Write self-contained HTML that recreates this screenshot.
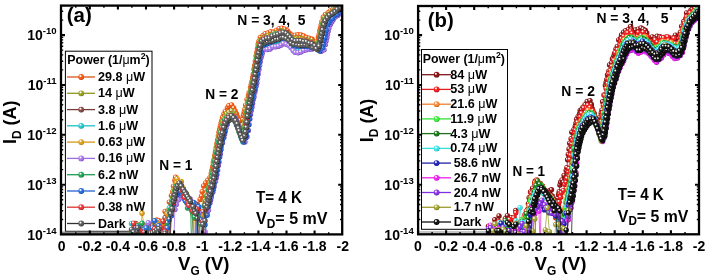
<!DOCTYPE html>
<html><head><meta charset="utf-8"><style>html,body{margin:0;padding:0;background:#fff;}svg{display:block;will-change:transform;}</style></head>
<body><svg width="710" height="278" viewBox="0 0 710 278">
<rect width="710" height="278" fill="#fff"/>
<defs><radialGradient id="ga0" cx="0.4" cy="0.38" r="0.62" fx="0.36" fy="0.32"><stop offset="0" stop-color="#fff"/><stop offset="0.1" stop-color="#fff"/><stop offset="0.42" stop-color="#F25A14"/><stop offset="0.8" stop-color="#F25A14"/><stop offset="1" stop-color="#B83A08"/></radialGradient><radialGradient id="ga1" cx="0.4" cy="0.38" r="0.62" fx="0.36" fy="0.32"><stop offset="0" stop-color="#fff"/><stop offset="0.1" stop-color="#fff"/><stop offset="0.42" stop-color="#9AA226"/><stop offset="0.8" stop-color="#9AA226"/><stop offset="1" stop-color="#5E6410"/></radialGradient><radialGradient id="ga2" cx="0.4" cy="0.38" r="0.62" fx="0.36" fy="0.32"><stop offset="0" stop-color="#fff"/><stop offset="0.1" stop-color="#fff"/><stop offset="0.42" stop-color="#8A4848"/><stop offset="0.8" stop-color="#8A4848"/><stop offset="1" stop-color="#4E2424"/></radialGradient><radialGradient id="ga3" cx="0.4" cy="0.38" r="0.62" fx="0.36" fy="0.32"><stop offset="0" stop-color="#fff"/><stop offset="0.1" stop-color="#fff"/><stop offset="0.42" stop-color="#22C8CC"/><stop offset="0.8" stop-color="#22C8CC"/><stop offset="1" stop-color="#0C8C90"/></radialGradient><radialGradient id="ga4" cx="0.4" cy="0.38" r="0.62" fx="0.36" fy="0.32"><stop offset="0" stop-color="#fff"/><stop offset="0.1" stop-color="#fff"/><stop offset="0.42" stop-color="#DDA018"/><stop offset="0.8" stop-color="#DDA018"/><stop offset="1" stop-color="#9A6A08"/></radialGradient><radialGradient id="ga5" cx="0.4" cy="0.38" r="0.62" fx="0.36" fy="0.32"><stop offset="0" stop-color="#fff"/><stop offset="0.1" stop-color="#fff"/><stop offset="0.42" stop-color="#A878EC"/><stop offset="0.8" stop-color="#A878EC"/><stop offset="1" stop-color="#6A3CB0"/></radialGradient><radialGradient id="ga6" cx="0.4" cy="0.38" r="0.62" fx="0.36" fy="0.32"><stop offset="0" stop-color="#fff"/><stop offset="0.1" stop-color="#fff"/><stop offset="0.42" stop-color="#22A458"/><stop offset="0.8" stop-color="#22A458"/><stop offset="1" stop-color="#0E6A34"/></radialGradient><radialGradient id="ga7" cx="0.4" cy="0.38" r="0.62" fx="0.36" fy="0.32"><stop offset="0" stop-color="#fff"/><stop offset="0.1" stop-color="#fff"/><stop offset="0.42" stop-color="#2A6CDC"/><stop offset="0.8" stop-color="#2A6CDC"/><stop offset="1" stop-color="#103C9C"/></radialGradient><radialGradient id="ga8" cx="0.4" cy="0.38" r="0.62" fx="0.36" fy="0.32"><stop offset="0" stop-color="#fff"/><stop offset="0.1" stop-color="#fff"/><stop offset="0.42" stop-color="#E83838"/><stop offset="0.8" stop-color="#E83838"/><stop offset="1" stop-color="#A01818"/></radialGradient><radialGradient id="ga9" cx="0.4" cy="0.38" r="0.62" fx="0.36" fy="0.32"><stop offset="0" stop-color="#fff"/><stop offset="0.1" stop-color="#fff"/><stop offset="0.42" stop-color="#5C5C5C"/><stop offset="0.8" stop-color="#5C5C5C"/><stop offset="1" stop-color="#2A2A2A"/></radialGradient><radialGradient id="gb0" cx="0.4" cy="0.38" r="0.62" fx="0.36" fy="0.32"><stop offset="0" stop-color="#fff"/><stop offset="0.1" stop-color="#fff"/><stop offset="0.42" stop-color="#8E1616"/><stop offset="0.8" stop-color="#8E1616"/><stop offset="1" stop-color="#4E0606"/></radialGradient><radialGradient id="gb1" cx="0.4" cy="0.38" r="0.62" fx="0.36" fy="0.32"><stop offset="0" stop-color="#fff"/><stop offset="0.1" stop-color="#fff"/><stop offset="0.42" stop-color="#F01E1E"/><stop offset="0.8" stop-color="#F01E1E"/><stop offset="1" stop-color="#A00808"/></radialGradient><radialGradient id="gb2" cx="0.4" cy="0.38" r="0.62" fx="0.36" fy="0.32"><stop offset="0" stop-color="#fff"/><stop offset="0.1" stop-color="#fff"/><stop offset="0.42" stop-color="#F88A34"/><stop offset="0.8" stop-color="#F88A34"/><stop offset="1" stop-color="#B05410"/></radialGradient><radialGradient id="gb3" cx="0.4" cy="0.38" r="0.62" fx="0.36" fy="0.32"><stop offset="0" stop-color="#fff"/><stop offset="0.1" stop-color="#fff"/><stop offset="0.42" stop-color="#3CF03C"/><stop offset="0.8" stop-color="#3CF03C"/><stop offset="1" stop-color="#14A014"/></radialGradient><radialGradient id="gb4" cx="0.4" cy="0.38" r="0.62" fx="0.36" fy="0.32"><stop offset="0" stop-color="#fff"/><stop offset="0.1" stop-color="#fff"/><stop offset="0.42" stop-color="#1E7A1E"/><stop offset="0.8" stop-color="#1E7A1E"/><stop offset="1" stop-color="#0A420A"/></radialGradient><radialGradient id="gb5" cx="0.4" cy="0.38" r="0.62" fx="0.36" fy="0.32"><stop offset="0" stop-color="#fff"/><stop offset="0.1" stop-color="#fff"/><stop offset="0.42" stop-color="#3EE6E6"/><stop offset="0.8" stop-color="#3EE6E6"/><stop offset="1" stop-color="#10A0A0"/></radialGradient><radialGradient id="gb6" cx="0.4" cy="0.38" r="0.62" fx="0.36" fy="0.32"><stop offset="0" stop-color="#fff"/><stop offset="0.1" stop-color="#fff"/><stop offset="0.42" stop-color="#2626B4"/><stop offset="0.8" stop-color="#2626B4"/><stop offset="1" stop-color="#0C0C70"/></radialGradient><radialGradient id="gb7" cx="0.4" cy="0.38" r="0.62" fx="0.36" fy="0.32"><stop offset="0" stop-color="#fff"/><stop offset="0.1" stop-color="#fff"/><stop offset="0.42" stop-color="#F224F2"/><stop offset="0.8" stop-color="#F224F2"/><stop offset="1" stop-color="#A008A8"/></radialGradient><radialGradient id="gb8" cx="0.4" cy="0.38" r="0.62" fx="0.36" fy="0.32"><stop offset="0" stop-color="#fff"/><stop offset="0.1" stop-color="#fff"/><stop offset="0.42" stop-color="#8836E6"/><stop offset="0.8" stop-color="#8836E6"/><stop offset="1" stop-color="#5016A0"/></radialGradient><radialGradient id="gb9" cx="0.4" cy="0.38" r="0.62" fx="0.36" fy="0.32"><stop offset="0" stop-color="#fff"/><stop offset="0.1" stop-color="#fff"/><stop offset="0.42" stop-color="#A4A436"/><stop offset="0.8" stop-color="#A4A436"/><stop offset="1" stop-color="#64641A"/></radialGradient><radialGradient id="gb10" cx="0.4" cy="0.38" r="0.62" fx="0.36" fy="0.32"><stop offset="0" stop-color="#fff"/><stop offset="0.1" stop-color="#fff"/><stop offset="0.42" stop-color="#141414"/><stop offset="0.8" stop-color="#141414"/><stop offset="1" stop-color="#000000"/></radialGradient><clipPath id="ca"><rect x="61.0" y="5.6" width="281.2" height="228.8"/></clipPath><clipPath id="cb"><rect x="418.1" y="6.0" width="280.9" height="228.3"/></clipPath></defs>
<rect x="65.4" y="51.2" width="86.6" height="180.1" fill="#fff" stroke="#000" stroke-width="1"/>
<rect x="62" y="231.6" width="72" height="2.4" fill="#8c8c8c"/>
<rect x="421.5" y="49.5" width="86.0" height="179.8" fill="#fff" stroke="#000" stroke-width="1"/>
<rect x="419" y="230.9" width="68" height="2.2" fill="#c4c4c4"/>
<text x="67.3" y="63.8" font-size="12" font-weight="bold" font-family="'Liberation Sans', sans-serif" textLength="82.4" lengthAdjust="spacingAndGlyphs">Power (1/<tspan font-weight="normal">μ</tspan>m<tspan font-size="8.5" dy="-4.5">2</tspan><tspan dy="4.5">)</tspan></text>
<path d="M67.0 77.0H95.0" stroke="#D8561A" stroke-width="1.3"/>
<circle cx="81.2" cy="77.0" r="2.9" fill="url(#ga0)"/>
<text x="98.0" y="81.0" font-size="12" font-weight="bold" font-family="'Liberation Sans', sans-serif" textLength="47.2" lengthAdjust="spacingAndGlyphs" style="white-space:pre">29.8 <tspan font-weight="normal">μ</tspan>W</text>
<path d="M67.0 93.3H95.0" stroke="#8E961E" stroke-width="1.3"/>
<circle cx="81.2" cy="93.3" r="2.9" fill="url(#ga1)"/>
<text x="98.0" y="97.3" font-size="12" font-weight="bold" font-family="'Liberation Sans', sans-serif" textLength="36.8" lengthAdjust="spacingAndGlyphs" style="white-space:pre">14 <tspan font-weight="normal">μ</tspan>W</text>
<path d="M67.0 109.6H95.0" stroke="#7A3C3C" stroke-width="1.3"/>
<circle cx="81.2" cy="109.6" r="2.9" fill="url(#ga2)"/>
<text x="98.0" y="113.6" font-size="12" font-weight="bold" font-family="'Liberation Sans', sans-serif" textLength="40.2" lengthAdjust="spacingAndGlyphs" style="white-space:pre">3.8 <tspan font-weight="normal">μ</tspan>W</text>
<path d="M67.0 125.8H95.0" stroke="#1EC0C4" stroke-width="1.3"/>
<circle cx="81.2" cy="125.8" r="2.9" fill="url(#ga3)"/>
<text x="98.0" y="129.8" font-size="12" font-weight="bold" font-family="'Liberation Sans', sans-serif" textLength="40.2" lengthAdjust="spacingAndGlyphs" style="white-space:pre">1.6 <tspan font-weight="normal">μ</tspan>W</text>
<path d="M67.0 142.1H95.0" stroke="#D49A12" stroke-width="1.3"/>
<circle cx="81.2" cy="142.1" r="2.9" fill="url(#ga4)"/>
<text x="98.0" y="146.1" font-size="12" font-weight="bold" font-family="'Liberation Sans', sans-serif" textLength="47.2" lengthAdjust="spacingAndGlyphs" style="white-space:pre">0.63 <tspan font-weight="normal">μ</tspan>W</text>
<path d="M67.0 158.4H95.0" stroke="#9C6CE0" stroke-width="1.3"/>
<circle cx="81.2" cy="158.4" r="2.9" fill="url(#ga5)"/>
<text x="98.0" y="162.4" font-size="12" font-weight="bold" font-family="'Liberation Sans', sans-serif" textLength="47.2" lengthAdjust="spacingAndGlyphs" style="white-space:pre">0.16 <tspan font-weight="normal">μ</tspan>W</text>
<path d="M67.0 174.7H95.0" stroke="#1E9C50" stroke-width="1.3"/>
<circle cx="81.2" cy="174.7" r="2.9" fill="url(#ga6)"/>
<text x="98.0" y="178.7" font-size="12" font-weight="bold" font-family="'Liberation Sans', sans-serif" textLength="40.2" lengthAdjust="spacingAndGlyphs" style="white-space:pre">6.2 nW</text>
<path d="M67.0 191.0H95.0" stroke="#2462D0" stroke-width="1.3"/>
<circle cx="81.2" cy="191.0" r="2.9" fill="url(#ga7)"/>
<text x="98.0" y="195.0" font-size="12" font-weight="bold" font-family="'Liberation Sans', sans-serif" textLength="40.2" lengthAdjust="spacingAndGlyphs" style="white-space:pre">2.4 nW</text>
<path d="M67.0 207.2H95.0" stroke="#DC3434" stroke-width="1.3"/>
<circle cx="81.2" cy="207.2" r="2.9" fill="url(#ga8)"/>
<text x="98.0" y="211.2" font-size="12" font-weight="bold" font-family="'Liberation Sans', sans-serif" textLength="47.2" lengthAdjust="spacingAndGlyphs" style="white-space:pre">0.38 nW</text>
<path d="M67.0 223.5H95.0" stroke="#303030" stroke-width="1.3"/>
<circle cx="81.2" cy="223.5" r="2.9" fill="url(#ga9)"/>
<text x="98.0" y="227.5" font-size="12" font-weight="bold" font-family="'Liberation Sans', sans-serif" textLength="27.8" lengthAdjust="spacingAndGlyphs" style="white-space:pre">Dark</text>
<text x="422.8" y="62.6" font-size="12" font-weight="bold" font-family="'Liberation Sans', sans-serif" textLength="82.2" lengthAdjust="spacingAndGlyphs">Power (1/<tspan font-weight="normal">μ</tspan>m<tspan font-size="8.5" dy="-4.5">2</tspan><tspan dy="4.5">)</tspan></text>
<path d="M422.0 74.7H451.0" stroke="#7E1A1A" stroke-width="1.3"/>
<circle cx="436.6" cy="74.7" r="2.9" fill="url(#gb0)"/>
<text x="450.3" y="78.7" font-size="12" font-weight="bold" font-family="'Liberation Sans', sans-serif" textLength="36.8" lengthAdjust="spacingAndGlyphs" style="white-space:pre">84 <tspan font-weight="normal">μ</tspan>W</text>
<path d="M422.0 89.4H451.0" stroke="#E02020" stroke-width="1.3"/>
<circle cx="436.6" cy="89.4" r="2.9" fill="url(#gb1)"/>
<text x="450.3" y="93.4" font-size="12" font-weight="bold" font-family="'Liberation Sans', sans-serif" textLength="36.8" lengthAdjust="spacingAndGlyphs" style="white-space:pre">53 <tspan font-weight="normal">μ</tspan>W</text>
<path d="M422.0 104.2H451.0" stroke="#F08030" stroke-width="1.3"/>
<circle cx="436.6" cy="104.2" r="2.9" fill="url(#gb2)"/>
<text x="450.3" y="108.2" font-size="12" font-weight="bold" font-family="'Liberation Sans', sans-serif" textLength="47.2" lengthAdjust="spacingAndGlyphs" style="white-space:pre">21.6 <tspan font-weight="normal">μ</tspan>W</text>
<path d="M422.0 118.9H451.0" stroke="#34E034" stroke-width="1.3"/>
<circle cx="436.6" cy="118.9" r="2.9" fill="url(#gb3)"/>
<text x="450.3" y="122.9" font-size="12" font-weight="bold" font-family="'Liberation Sans', sans-serif" textLength="46.5" lengthAdjust="spacingAndGlyphs" style="white-space:pre">11.9 <tspan font-weight="normal">μ</tspan>W</text>
<path d="M422.0 133.6H451.0" stroke="#1E721E" stroke-width="1.3"/>
<circle cx="436.6" cy="133.6" r="2.9" fill="url(#gb4)"/>
<text x="450.3" y="137.6" font-size="12" font-weight="bold" font-family="'Liberation Sans', sans-serif" textLength="40.2" lengthAdjust="spacingAndGlyphs" style="white-space:pre">4.3 <tspan font-weight="normal">μ</tspan>W</text>
<path d="M422.0 148.4H451.0" stroke="#34DCDC" stroke-width="1.3"/>
<circle cx="436.6" cy="148.4" r="2.9" fill="url(#gb5)"/>
<text x="450.3" y="152.4" font-size="12" font-weight="bold" font-family="'Liberation Sans', sans-serif" textLength="47.2" lengthAdjust="spacingAndGlyphs" style="white-space:pre">0.74 <tspan font-weight="normal">μ</tspan>W</text>
<path d="M422.0 163.1H451.0" stroke="#2222A8" stroke-width="1.3"/>
<circle cx="436.6" cy="163.1" r="2.9" fill="url(#gb6)"/>
<text x="450.3" y="167.1" font-size="12" font-weight="bold" font-family="'Liberation Sans', sans-serif" textLength="50.6" lengthAdjust="spacingAndGlyphs" style="white-space:pre"> 58.6 nW</text>
<path d="M422.0 177.8H451.0" stroke="#E820E8" stroke-width="1.3"/>
<circle cx="436.6" cy="177.8" r="2.9" fill="url(#gb7)"/>
<text x="450.3" y="181.8" font-size="12" font-weight="bold" font-family="'Liberation Sans', sans-serif" textLength="50.6" lengthAdjust="spacingAndGlyphs" style="white-space:pre"> 26.7 nW</text>
<path d="M422.0 192.5H451.0" stroke="#8030E0" stroke-width="1.3"/>
<circle cx="436.6" cy="192.5" r="2.9" fill="url(#gb8)"/>
<text x="450.3" y="196.5" font-size="12" font-weight="bold" font-family="'Liberation Sans', sans-serif" textLength="50.6" lengthAdjust="spacingAndGlyphs" style="white-space:pre"> 20.4 nW</text>
<path d="M422.0 207.3H451.0" stroke="#9C9C30" stroke-width="1.3"/>
<circle cx="436.6" cy="207.3" r="2.9" fill="url(#gb9)"/>
<text x="450.3" y="211.3" font-size="12" font-weight="bold" font-family="'Liberation Sans', sans-serif" textLength="43.7" lengthAdjust="spacingAndGlyphs" style="white-space:pre"> 1.7 nW</text>
<path d="M422.0 222.0H451.0" stroke="#101010" stroke-width="1.3"/>
<circle cx="436.6" cy="222.0" r="2.9" fill="url(#gb10)"/>
<text x="450.3" y="226.0" font-size="12" font-weight="bold" font-family="'Liberation Sans', sans-serif" textLength="31.2" lengthAdjust="spacingAndGlyphs" style="white-space:pre"> Dark</text>
<g clip-path="url(#ca)">
<path d="M131.5 232.1 133.6 225.6 135.7 250.0 137.8 250.0 139.9 232.0 142.0 228.2 144.1 231.8 146.2 250.0 148.3 227.1 150.4 225.1 152.5 228.6 154.6 228.9 156.7 220.0 158.8 220.6 160.9 221.8 163.0 221.4 165.1 211.4 167.2 250.0 167.9 211.0 169.3 202.1 170.0 202.1 170.7 201.1 171.4 195.6 172.1 197.0 172.8 191.7 173.5 186.3 174.2 184.8 174.9 180.4 175.6 177.2 176.3 180.0 177.0 181.9 177.7 183.3 178.4 187.3 179.1 186.9 179.8 186.7 180.5 187.0 181.2 185.6 181.9 187.2 182.6 189.0 183.3 193.1 184.0 196.6 184.7 195.2 185.4 195.6 186.1 198.4 186.8 198.6 187.5 202.7 188.2 201.7 188.9 201.5 190.3 203.5 191.7 210.5 194.5 250.0 196.6 217.7 198.7 209.1 200.1 199.4 200.8 197.5 201.5 196.1 202.2 191.6 202.9 189.7 203.6 185.9 204.3 185.5 205.0 183.9 205.7 183.0 206.4 182.4 207.1 181.0 207.8 180.2 208.5 179.6 209.2 178.5 209.9 177.6 210.6 176.5 211.3 173.4 212.0 170.3 212.7 167.0 213.4 162.2 214.1 159.5 214.8 155.4 215.5 151.8 216.2 147.8 216.9 143.6 217.6 140.0 218.3 136.1 219.0 132.3 219.7 129.3 220.4 126.1 221.1 123.1 221.8 120.6 222.5 117.5 223.2 116.3 223.9 114.1 224.6 112.6 225.3 111.4 226.0 109.8 226.7 109.7 227.4 108.0 228.1 106.9 228.8 105.7 229.5 104.9 230.2 105.1 230.9 104.6 231.6 104.9 232.3 105.4 233.0 106.9 233.7 108.0 234.4 109.4 235.1 111.2 235.8 112.3 236.5 113.9 237.2 115.5 237.9 117.5 238.6 118.4 239.3 119.6 240.0 120.5 240.7 121.7 241.4 122.6 242.1 121.8 242.8 119.5 243.5 115.2 244.2 112.2 244.9 109.5 245.6 105.1 246.3 103.4 247.0 99.6 247.7 97.6 248.4 95.8 249.1 92.7 249.8 90.3 250.5 87.6 251.2 84.8 251.9 81.8 252.6 77.8 253.3 74.3 254.0 69.3 254.7 65.5 255.4 61.3 256.1 56.0 256.8 52.5 257.5 48.3 258.2 44.3 258.9 41.4 259.6 39.2 260.3 37.5 261.0 36.4 261.7 36.6 262.4 36.0 263.1 35.4 263.8 35.3 264.5 35.0 265.2 33.8 265.9 34.9 266.6 33.3 267.3 33.7 268.0 33.0 268.7 33.5 269.4 33.2 270.1 33.0 270.8 31.7 271.5 32.8 272.2 32.3 272.9 31.3 273.6 32.3 274.3 31.4 275.0 30.9 275.7 31.1 276.4 30.4 277.1 30.3 277.8 29.6 278.5 29.0 279.2 28.6 279.9 29.0 280.6 28.5 281.3 28.1 282.0 28.1 282.7 28.1 283.4 29.3 284.1 28.9 284.8 29.1 285.5 29.9 286.2 29.7 286.9 30.1 287.6 30.9 288.3 31.9 289.0 32.7 289.7 33.5 290.4 34.3 291.1 34.5 291.8 34.4 292.5 35.2 293.2 35.0 293.9 35.0 294.6 35.2 295.3 35.2 296.0 34.7 296.7 34.8 297.4 34.7 298.1 34.8 298.8 35.4 299.5 35.1 300.2 35.1 300.9 35.0 301.6 36.0 302.3 35.6 303.0 35.9 303.7 36.0 304.4 35.8 305.1 36.5 305.8 36.6 306.5 37.4 307.2 37.4 307.9 37.1 308.6 37.9 309.3 38.2 310.0 38.6 310.7 38.4 311.4 38.5 312.1 39.3 312.8 39.9 313.5 39.8 314.2 42.0 314.9 42.9 315.6 43.4 316.3 44.3 317.0 41.6 317.7 39.6 318.4 37.2 319.1 34.7 319.8 30.8 320.5 28.1 321.2 25.0 321.9 21.8 322.6 19.4 323.3 17.2 324.0 16.7 324.7 15.1 325.4 14.4 326.1 14.2 326.8 13.2 327.5 13.4 328.2 12.7 328.9 11.1 329.6 11.4 330.3 10.9 331.0 11.2 331.7 9.9 332.4 9.5 333.1 9.3 333.8 8.8 334.5 8.1 335.2 8.0 335.9 7.2 336.6 6.7 337.3 7.1 338.0 6.2 338.7 5.4 339.4 4.9 340.1 4.9 340.8 4.5 341.5 4.5 342.2 5.4 342.9 4.9 343.6 4.8 344.3 5.1 345.0 4.8" fill="none" stroke="#D8561A" stroke-width="0.75"/>
<g fill="url(#ga0)"><circle cx="131.5" cy="232.1" r="2.7"/><circle cx="133.6" cy="225.6" r="2.7"/><circle cx="139.9" cy="232.0" r="2.7"/><circle cx="142.0" cy="228.2" r="2.7"/><circle cx="144.1" cy="231.8" r="2.7"/><circle cx="148.3" cy="227.1" r="2.7"/><circle cx="150.4" cy="225.1" r="2.7"/><circle cx="152.5" cy="228.6" r="2.7"/><circle cx="154.6" cy="228.9" r="2.7"/><circle cx="156.7" cy="220.0" r="2.7"/><circle cx="158.8" cy="220.6" r="2.7"/><circle cx="160.9" cy="221.8" r="2.7"/><circle cx="163.0" cy="221.4" r="2.7"/><circle cx="165.1" cy="211.4" r="2.7"/><circle cx="167.9" cy="211.0" r="2.7"/><circle cx="169.3" cy="202.1" r="2.7"/><circle cx="171.4" cy="195.6" r="2.7"/><circle cx="172.8" cy="191.7" r="2.7"/><circle cx="173.5" cy="186.3" r="2.7"/><circle cx="174.9" cy="180.4" r="2.7"/><circle cx="175.6" cy="177.2" r="2.7"/><circle cx="176.3" cy="180.0" r="2.7"/><circle cx="177.7" cy="183.3" r="2.7"/><circle cx="178.4" cy="187.3" r="2.7"/><circle cx="181.2" cy="185.6" r="2.7"/><circle cx="182.6" cy="189.0" r="2.7"/><circle cx="183.3" cy="193.1" r="2.7"/><circle cx="184.0" cy="196.6" r="2.7"/><circle cx="186.1" cy="198.4" r="2.7"/><circle cx="187.5" cy="202.7" r="2.7"/><circle cx="190.3" cy="203.5" r="2.7"/><circle cx="191.7" cy="210.5" r="2.7"/><circle cx="196.6" cy="217.7" r="2.7"/><circle cx="198.7" cy="209.1" r="2.7"/><circle cx="200.1" cy="199.4" r="2.7"/><circle cx="201.5" cy="196.1" r="2.7"/><circle cx="202.2" cy="191.6" r="2.7"/><circle cx="203.6" cy="185.9" r="2.7"/><circle cx="205.7" cy="183.0" r="2.7"/><circle cx="207.8" cy="180.2" r="2.7"/><circle cx="209.9" cy="177.6" r="2.7"/><circle cx="211.3" cy="173.4" r="2.7"/><circle cx="212.0" cy="170.3" r="2.7"/><circle cx="212.7" cy="167.0" r="2.7"/><circle cx="213.4" cy="162.2" r="2.7"/><circle cx="214.1" cy="159.5" r="2.7"/><circle cx="214.8" cy="155.4" r="2.7"/><circle cx="215.5" cy="151.8" r="2.7"/><circle cx="216.2" cy="147.8" r="2.7"/><circle cx="216.9" cy="143.6" r="2.7"/><circle cx="217.6" cy="140.0" r="2.7"/><circle cx="218.3" cy="136.1" r="2.7"/><circle cx="219.0" cy="132.3" r="2.7"/><circle cx="219.7" cy="129.3" r="2.7"/><circle cx="220.4" cy="126.1" r="2.7"/><circle cx="221.1" cy="123.1" r="2.7"/><circle cx="221.8" cy="120.6" r="2.7"/><circle cx="222.5" cy="117.5" r="2.7"/><circle cx="223.9" cy="114.1" r="2.7"/><circle cx="225.3" cy="111.4" r="2.7"/><circle cx="227.4" cy="108.0" r="2.7"/><circle cx="228.8" cy="105.7" r="2.7"/><circle cx="231.6" cy="104.9" r="2.7"/><circle cx="233.7" cy="108.0" r="2.7"/><circle cx="235.1" cy="111.2" r="2.7"/><circle cx="236.5" cy="113.9" r="2.7"/><circle cx="237.9" cy="117.5" r="2.7"/><circle cx="240.0" cy="120.5" r="2.7"/><circle cx="242.8" cy="119.5" r="2.7"/><circle cx="243.5" cy="115.2" r="2.7"/><circle cx="244.2" cy="112.2" r="2.7"/><circle cx="244.9" cy="109.5" r="2.7"/><circle cx="245.6" cy="105.1" r="2.7"/><circle cx="247.0" cy="99.6" r="2.7"/><circle cx="248.4" cy="95.8" r="2.7"/><circle cx="249.1" cy="92.7" r="2.7"/><circle cx="250.5" cy="87.6" r="2.7"/><circle cx="251.2" cy="84.8" r="2.7"/><circle cx="251.9" cy="81.8" r="2.7"/><circle cx="252.6" cy="77.8" r="2.7"/><circle cx="253.3" cy="74.3" r="2.7"/><circle cx="254.0" cy="69.3" r="2.7"/><circle cx="254.7" cy="65.5" r="2.7"/><circle cx="255.4" cy="61.3" r="2.7"/><circle cx="256.1" cy="56.0" r="2.7"/><circle cx="256.8" cy="52.5" r="2.7"/><circle cx="257.5" cy="48.3" r="2.7"/><circle cx="258.2" cy="44.3" r="2.7"/><circle cx="258.9" cy="41.4" r="2.7"/><circle cx="260.3" cy="37.5" r="2.7"/><circle cx="263.1" cy="35.4" r="2.7"/><circle cx="265.2" cy="33.8" r="2.7"/><circle cx="268.0" cy="33.0" r="2.7"/><circle cx="270.8" cy="31.7" r="2.7"/><circle cx="273.6" cy="32.3" r="2.7"/><circle cx="276.4" cy="30.4" r="2.7"/><circle cx="279.2" cy="28.6" r="2.7"/><circle cx="282.0" cy="28.1" r="2.7"/><circle cx="284.8" cy="29.1" r="2.7"/><circle cx="287.6" cy="30.9" r="2.7"/><circle cx="289.7" cy="33.5" r="2.7"/><circle cx="292.5" cy="35.2" r="2.7"/><circle cx="295.3" cy="35.2" r="2.7"/><circle cx="298.1" cy="34.8" r="2.7"/><circle cx="300.9" cy="35.0" r="2.7"/><circle cx="303.7" cy="36.0" r="2.7"/><circle cx="306.5" cy="37.4" r="2.7"/><circle cx="309.3" cy="38.2" r="2.7"/><circle cx="312.1" cy="39.3" r="2.7"/><circle cx="314.2" cy="42.0" r="2.7"/><circle cx="316.3" cy="44.3" r="2.7"/><circle cx="317.0" cy="41.6" r="2.7"/><circle cx="318.4" cy="37.2" r="2.7"/><circle cx="319.1" cy="34.7" r="2.7"/><circle cx="319.8" cy="30.8" r="2.7"/><circle cx="320.5" cy="28.1" r="2.7"/><circle cx="321.2" cy="25.0" r="2.7"/><circle cx="321.9" cy="21.8" r="2.7"/><circle cx="323.3" cy="17.2" r="2.7"/><circle cx="325.4" cy="14.4" r="2.7"/><circle cx="328.2" cy="12.7" r="2.7"/><circle cx="330.3" cy="10.9" r="2.7"/><circle cx="333.1" cy="9.3" r="2.7"/><circle cx="335.9" cy="7.2" r="2.7"/><circle cx="338.7" cy="5.4" r="2.7"/><circle cx="341.5" cy="4.5" r="2.7"/><circle cx="344.3" cy="5.1" r="2.7"/></g>
<path d="M131.5 231.4 133.6 250.0 135.7 230.5 137.8 250.0 139.9 231.7 142.0 231.4 144.1 232.3 146.2 226.8 148.3 232.4 150.4 250.0 152.5 225.7 154.6 221.0 156.7 223.4 158.8 226.7 160.9 225.9 163.0 232.5 165.1 219.7 167.2 217.3 167.9 213.0 169.3 209.3 170.7 209.3 172.1 202.5 172.8 197.7 173.5 193.5 174.2 189.3 174.9 187.0 175.6 185.5 176.3 184.8 177.0 183.7 177.7 184.3 178.4 182.3 179.1 182.9 179.8 184.2 180.5 184.8 181.2 189.6 181.9 189.1 182.6 191.6 183.3 191.9 184.0 192.0 184.7 191.8 185.4 192.7 186.1 193.5 186.8 195.9 187.5 201.4 188.2 201.9 188.9 205.0 190.3 206.9 191.7 208.2 193.1 212.6 194.5 218.2 198.7 214.0 200.8 250.0 202.9 250.0 204.3 205.5 205.0 201.7 205.7 199.2 206.4 195.9 207.1 193.4 207.8 190.5 208.5 187.9 209.2 185.9 209.9 182.6 210.6 180.6 211.3 176.7 212.0 173.1 212.7 169.6 213.4 164.4 214.1 160.6 214.8 157.1 215.5 153.3 216.2 149.7 216.9 145.9 217.6 142.1 218.3 139.6 219.0 136.2 219.7 132.4 220.4 129.9 221.1 127.8 221.8 124.8 222.5 122.0 223.2 120.3 223.9 118.7 224.6 117.5 225.3 116.4 226.0 114.6 226.7 113.7 227.4 113.4 228.1 112.5 228.8 112.1 229.5 110.6 230.2 110.6 230.9 111.3 231.6 110.9 232.3 111.8 233.0 112.5 233.7 113.5 234.4 115.9 235.1 117.0 235.8 118.5 236.5 120.4 237.2 122.5 237.9 123.6 238.6 125.4 239.3 127.0 240.0 128.6 240.7 131.2 241.4 132.5 242.1 132.8 242.8 130.1 243.5 127.7 244.2 124.6 244.9 120.4 245.6 116.6 246.3 111.2 247.0 107.1 247.7 103.8 248.4 100.6 249.1 97.2 249.8 94.7 250.5 91.0 251.2 88.2 251.9 84.8 252.6 82.1 253.3 77.1 254.0 73.5 254.7 69.7 255.4 64.1 256.1 59.7 256.8 55.6 257.5 51.0 258.2 48.0 258.9 44.3 259.6 42.3 260.3 40.1 261.0 38.9 261.7 38.6 262.4 37.7 263.1 37.8 263.8 36.6 264.5 36.5 265.2 36.9 265.9 35.5 266.6 36.2 267.3 35.7 268.0 35.5 268.7 35.3 269.4 35.8 270.1 34.6 270.8 35.3 271.5 34.9 272.2 34.4 272.9 34.3 273.6 34.3 274.3 33.6 275.0 33.0 275.7 33.3 276.4 32.6 277.1 32.4 277.8 32.1 278.5 32.0 279.2 32.0 279.9 31.1 280.6 30.8 281.3 30.9 282.0 30.7 282.7 30.1 283.4 30.7 284.1 30.7 284.8 31.6 285.5 32.2 286.2 32.4 286.9 32.5 287.6 33.8 288.3 33.9 289.0 35.2 289.7 35.6 290.4 36.4 291.1 37.0 291.8 37.7 292.5 37.7 293.2 38.3 293.9 37.8 294.6 38.5 295.3 38.1 296.0 38.8 296.7 38.7 297.4 38.3 298.1 38.4 298.8 38.5 299.5 38.6 300.2 38.4 300.9 38.9 301.6 38.4 302.3 38.0 303.0 38.9 303.7 38.9 304.4 39.3 305.1 39.4 305.8 39.4 306.5 39.7 307.2 40.0 307.9 40.0 308.6 40.1 309.3 40.6 310.0 41.1 310.7 40.6 311.4 41.6 312.1 41.7 312.8 42.4 313.5 42.6 314.2 43.5 314.9 44.7 315.6 46.5 316.3 46.7 317.0 46.3 317.7 44.8 318.4 42.0 319.1 39.6 319.8 37.0 320.5 33.4 321.2 30.0 321.9 27.4 322.6 24.0 323.3 21.4 324.0 19.8 324.7 18.0 325.4 18.0 326.1 16.8 326.8 16.0 327.5 15.2 328.2 14.4 328.9 13.2 329.6 13.5 330.3 13.7 331.0 12.8 331.7 11.9 332.4 11.3 333.1 11.2 333.8 10.9 334.5 10.3 335.2 10.1 335.9 8.9 336.6 9.1 337.3 8.3 338.0 7.6 338.7 7.3 339.4 7.1 340.1 6.9 340.8 6.2 341.5 6.3 342.2 6.9 342.9 5.5 343.6 5.4 344.3 6.1 345.0 5.8" fill="none" stroke="#8E961E" stroke-width="0.75"/>
<g fill="url(#ga1)"><circle cx="131.5" cy="231.4" r="2.7"/><circle cx="135.7" cy="230.5" r="2.7"/><circle cx="139.9" cy="231.7" r="2.7"/><circle cx="142.0" cy="231.4" r="2.7"/><circle cx="144.1" cy="232.3" r="2.7"/><circle cx="146.2" cy="226.8" r="2.7"/><circle cx="148.3" cy="232.4" r="2.7"/><circle cx="152.5" cy="225.7" r="2.7"/><circle cx="154.6" cy="221.0" r="2.7"/><circle cx="156.7" cy="223.4" r="2.7"/><circle cx="158.8" cy="226.7" r="2.7"/><circle cx="160.9" cy="225.9" r="2.7"/><circle cx="163.0" cy="232.5" r="2.7"/><circle cx="165.1" cy="219.7" r="2.7"/><circle cx="167.2" cy="217.3" r="2.7"/><circle cx="167.9" cy="213.0" r="2.7"/><circle cx="169.3" cy="209.3" r="2.7"/><circle cx="172.1" cy="202.5" r="2.7"/><circle cx="172.8" cy="197.7" r="2.7"/><circle cx="173.5" cy="193.5" r="2.7"/><circle cx="174.2" cy="189.3" r="2.7"/><circle cx="175.6" cy="185.5" r="2.7"/><circle cx="178.4" cy="182.3" r="2.7"/><circle cx="180.5" cy="184.8" r="2.7"/><circle cx="181.2" cy="189.6" r="2.7"/><circle cx="183.3" cy="191.9" r="2.7"/><circle cx="186.1" cy="193.5" r="2.7"/><circle cx="187.5" cy="201.4" r="2.7"/><circle cx="188.9" cy="205.0" r="2.7"/><circle cx="191.7" cy="208.2" r="2.7"/><circle cx="193.1" cy="212.6" r="2.7"/><circle cx="194.5" cy="218.2" r="2.7"/><circle cx="198.7" cy="214.0" r="2.7"/><circle cx="204.3" cy="205.5" r="2.7"/><circle cx="205.0" cy="201.7" r="2.7"/><circle cx="206.4" cy="195.9" r="2.7"/><circle cx="207.8" cy="190.5" r="2.7"/><circle cx="208.5" cy="187.9" r="2.7"/><circle cx="209.9" cy="182.6" r="2.7"/><circle cx="211.3" cy="176.7" r="2.7"/><circle cx="212.0" cy="173.1" r="2.7"/><circle cx="212.7" cy="169.6" r="2.7"/><circle cx="213.4" cy="164.4" r="2.7"/><circle cx="214.1" cy="160.6" r="2.7"/><circle cx="214.8" cy="157.1" r="2.7"/><circle cx="215.5" cy="153.3" r="2.7"/><circle cx="216.2" cy="149.7" r="2.7"/><circle cx="216.9" cy="145.9" r="2.7"/><circle cx="217.6" cy="142.1" r="2.7"/><circle cx="219.0" cy="136.2" r="2.7"/><circle cx="219.7" cy="132.4" r="2.7"/><circle cx="220.4" cy="129.9" r="2.7"/><circle cx="221.8" cy="124.8" r="2.7"/><circle cx="222.5" cy="122.0" r="2.7"/><circle cx="223.9" cy="118.7" r="2.7"/><circle cx="225.3" cy="116.4" r="2.7"/><circle cx="226.7" cy="113.7" r="2.7"/><circle cx="228.8" cy="112.1" r="2.7"/><circle cx="231.6" cy="110.9" r="2.7"/><circle cx="233.7" cy="113.5" r="2.7"/><circle cx="235.1" cy="117.0" r="2.7"/><circle cx="236.5" cy="120.4" r="2.7"/><circle cx="237.9" cy="123.6" r="2.7"/><circle cx="239.3" cy="127.0" r="2.7"/><circle cx="240.7" cy="131.2" r="2.7"/><circle cx="243.5" cy="127.7" r="2.7"/><circle cx="244.2" cy="124.6" r="2.7"/><circle cx="244.9" cy="120.4" r="2.7"/><circle cx="245.6" cy="116.6" r="2.7"/><circle cx="246.3" cy="111.2" r="2.7"/><circle cx="247.0" cy="107.1" r="2.7"/><circle cx="247.7" cy="103.8" r="2.7"/><circle cx="248.4" cy="100.6" r="2.7"/><circle cx="249.1" cy="97.2" r="2.7"/><circle cx="250.5" cy="91.0" r="2.7"/><circle cx="251.2" cy="88.2" r="2.7"/><circle cx="251.9" cy="84.8" r="2.7"/><circle cx="252.6" cy="82.1" r="2.7"/><circle cx="253.3" cy="77.1" r="2.7"/><circle cx="254.0" cy="73.5" r="2.7"/><circle cx="254.7" cy="69.7" r="2.7"/><circle cx="255.4" cy="64.1" r="2.7"/><circle cx="256.1" cy="59.7" r="2.7"/><circle cx="256.8" cy="55.6" r="2.7"/><circle cx="257.5" cy="51.0" r="2.7"/><circle cx="258.2" cy="48.0" r="2.7"/><circle cx="258.9" cy="44.3" r="2.7"/><circle cx="260.3" cy="40.1" r="2.7"/><circle cx="262.4" cy="37.7" r="2.7"/><circle cx="265.2" cy="36.9" r="2.7"/><circle cx="268.0" cy="35.5" r="2.7"/><circle cx="270.8" cy="35.3" r="2.7"/><circle cx="273.6" cy="34.3" r="2.7"/><circle cx="276.4" cy="32.6" r="2.7"/><circle cx="279.2" cy="32.0" r="2.7"/><circle cx="282.0" cy="30.7" r="2.7"/><circle cx="284.8" cy="31.6" r="2.7"/><circle cx="287.6" cy="33.8" r="2.7"/><circle cx="289.7" cy="35.6" r="2.7"/><circle cx="291.8" cy="37.7" r="2.7"/><circle cx="294.6" cy="38.5" r="2.7"/><circle cx="297.4" cy="38.3" r="2.7"/><circle cx="300.2" cy="38.4" r="2.7"/><circle cx="303.0" cy="38.9" r="2.7"/><circle cx="305.8" cy="39.4" r="2.7"/><circle cx="308.6" cy="40.1" r="2.7"/><circle cx="311.4" cy="41.6" r="2.7"/><circle cx="314.2" cy="43.5" r="2.7"/><circle cx="315.6" cy="46.5" r="2.7"/><circle cx="317.7" cy="44.8" r="2.7"/><circle cx="318.4" cy="42.0" r="2.7"/><circle cx="319.8" cy="37.0" r="2.7"/><circle cx="320.5" cy="33.4" r="2.7"/><circle cx="321.2" cy="30.0" r="2.7"/><circle cx="321.9" cy="27.4" r="2.7"/><circle cx="322.6" cy="24.0" r="2.7"/><circle cx="323.3" cy="21.4" r="2.7"/><circle cx="324.7" cy="18.0" r="2.7"/><circle cx="326.8" cy="16.0" r="2.7"/><circle cx="328.9" cy="13.2" r="2.7"/><circle cx="331.7" cy="11.9" r="2.7"/><circle cx="334.5" cy="10.3" r="2.7"/><circle cx="337.3" cy="8.3" r="2.7"/><circle cx="340.1" cy="6.9" r="2.7"/><circle cx="342.9" cy="5.5" r="2.7"/></g>
<path d="M131.5 250.0 133.6 250.0 135.7 223.5 137.8 250.0 139.9 233.0 142.0 250.0 144.1 250.0 146.2 231.9 148.3 233.0 150.4 250.0 152.5 226.1 154.6 229.7 156.7 223.4 158.8 228.0 160.9 250.0 163.0 231.7 165.1 217.8 167.2 250.0 169.3 219.7 172.1 205.1 172.8 199.4 173.5 198.5 174.2 196.9 174.9 194.0 175.6 192.1 176.3 189.6 177.0 187.2 177.7 183.6 178.4 182.8 179.1 182.1 179.8 184.3 180.5 185.7 181.2 187.3 181.9 189.8 182.6 190.1 183.3 192.2 184.0 194.2 184.7 192.7 185.4 194.5 186.1 194.3 186.8 194.8 187.5 195.4 188.2 199.8 188.9 199.0 189.6 201.5 190.3 204.0 191.0 201.6 191.7 204.7 193.1 212.0 194.5 210.8 196.6 204.1 198.7 215.2 200.8 250.0 202.9 211.9 205.7 206.0 206.4 202.9 207.1 200.0 207.8 196.9 208.5 193.8 209.2 191.6 209.9 188.5 210.6 186.7 211.3 183.9 212.0 181.3 212.7 177.1 213.4 173.6 214.1 169.7 214.8 165.3 215.5 161.4 216.2 157.7 216.9 153.0 217.6 149.6 218.3 146.8 219.0 142.9 219.7 139.7 220.4 136.3 221.1 132.9 221.8 130.1 222.5 127.7 223.2 125.1 223.9 123.1 224.6 121.1 225.3 119.8 226.0 119.1 226.7 117.5 227.4 115.8 228.1 115.4 228.8 115.5 229.5 114.8 230.2 113.3 230.9 113.8 231.6 113.8 232.3 113.2 233.0 114.8 233.7 116.2 234.4 116.5 235.1 118.3 235.8 120.5 236.5 121.7 237.2 123.6 237.9 125.8 238.6 127.1 239.3 129.5 240.0 130.8 240.7 133.3 241.4 135.4 242.1 137.0 242.8 136.6 243.5 135.5 244.2 132.5 244.9 128.6 245.6 125.0 246.3 120.3 247.0 115.1 247.7 110.9 248.4 106.3 249.1 102.5 249.8 99.0 250.5 95.7 251.2 92.7 251.9 90.0 252.6 85.5 253.3 82.1 254.0 77.3 254.7 73.5 255.4 69.8 256.1 64.4 256.8 60.7 257.5 56.8 258.2 51.8 258.9 48.0 259.6 45.3 260.3 42.5 261.0 40.8 261.7 39.6 262.4 39.5 263.1 38.8 263.8 38.3 264.5 37.2 265.2 37.5 265.9 37.5 266.6 37.5 267.3 36.8 268.0 37.1 268.7 37.0 269.4 36.3 270.1 36.6 270.8 36.1 271.5 35.5 272.2 35.7 272.9 36.0 273.6 35.4 274.3 35.0 275.0 35.0 275.7 34.7 276.4 34.3 277.1 33.2 277.8 32.6 278.5 32.5 279.2 33.2 279.9 32.5 280.6 31.4 281.3 32.0 282.0 31.1 282.7 31.7 283.4 32.1 284.1 32.0 284.8 32.6 285.5 32.9 286.2 32.3 286.9 33.5 287.6 34.3 288.3 34.6 289.0 35.1 289.7 37.0 290.4 37.5 291.1 38.1 291.8 38.5 292.5 39.1 293.2 39.8 293.9 39.4 294.6 39.9 295.3 39.9 296.0 39.7 296.7 39.8 297.4 39.8 298.1 39.5 298.8 39.3 299.5 40.1 300.2 40.3 300.9 40.1 301.6 39.6 302.3 40.0 303.0 39.9 303.7 39.7 304.4 39.9 305.1 40.2 305.8 40.7 306.5 40.3 307.2 41.4 307.9 41.3 308.6 42.0 309.3 42.2 310.0 42.2 310.7 42.5 311.4 42.8 312.1 43.1 312.8 43.6 313.5 44.5 314.2 44.5 314.9 45.7 315.6 46.9 316.3 47.7 317.0 48.5 317.7 47.7 318.4 46.0 319.1 43.4 319.8 40.8 320.5 36.7 321.2 33.6 321.9 30.7 322.6 27.5 323.3 24.2 324.0 21.7 324.7 20.4 325.4 19.2 326.1 19.2 326.8 17.2 327.5 16.3 328.2 16.8 328.9 14.7 329.6 14.4 330.3 14.2 331.0 13.5 331.7 13.1 332.4 13.1 333.1 13.0 333.8 11.8 334.5 11.4 335.2 10.7 335.9 10.0 336.6 9.5 337.3 9.2 338.0 8.5 338.7 8.3 339.4 7.6 340.1 7.0 340.8 6.8 341.5 6.5 342.2 6.4 342.9 6.4 343.6 6.7 344.3 6.1 345.0 6.9" fill="none" stroke="#7A3C3C" stroke-width="0.75"/>
<g fill="url(#ga2)"><circle cx="135.7" cy="223.5" r="2.7"/><circle cx="139.9" cy="233.0" r="2.7"/><circle cx="146.2" cy="231.9" r="2.7"/><circle cx="148.3" cy="233.0" r="2.7"/><circle cx="152.5" cy="226.1" r="2.7"/><circle cx="154.6" cy="229.7" r="2.7"/><circle cx="156.7" cy="223.4" r="2.7"/><circle cx="158.8" cy="228.0" r="2.7"/><circle cx="163.0" cy="231.7" r="2.7"/><circle cx="165.1" cy="217.8" r="2.7"/><circle cx="169.3" cy="219.7" r="2.7"/><circle cx="172.1" cy="205.1" r="2.7"/><circle cx="172.8" cy="199.4" r="2.7"/><circle cx="174.2" cy="196.9" r="2.7"/><circle cx="174.9" cy="194.0" r="2.7"/><circle cx="176.3" cy="189.6" r="2.7"/><circle cx="177.7" cy="183.6" r="2.7"/><circle cx="180.5" cy="185.7" r="2.7"/><circle cx="181.9" cy="189.8" r="2.7"/><circle cx="183.3" cy="192.2" r="2.7"/><circle cx="185.4" cy="194.5" r="2.7"/><circle cx="188.2" cy="199.8" r="2.7"/><circle cx="190.3" cy="204.0" r="2.7"/><circle cx="193.1" cy="212.0" r="2.7"/><circle cx="196.6" cy="204.1" r="2.7"/><circle cx="198.7" cy="215.2" r="2.7"/><circle cx="202.9" cy="211.9" r="2.7"/><circle cx="205.7" cy="206.0" r="2.7"/><circle cx="206.4" cy="202.9" r="2.7"/><circle cx="207.1" cy="200.0" r="2.7"/><circle cx="207.8" cy="196.9" r="2.7"/><circle cx="208.5" cy="193.8" r="2.7"/><circle cx="209.9" cy="188.5" r="2.7"/><circle cx="211.3" cy="183.9" r="2.7"/><circle cx="212.0" cy="181.3" r="2.7"/><circle cx="212.7" cy="177.1" r="2.7"/><circle cx="213.4" cy="173.6" r="2.7"/><circle cx="214.1" cy="169.7" r="2.7"/><circle cx="214.8" cy="165.3" r="2.7"/><circle cx="215.5" cy="161.4" r="2.7"/><circle cx="216.2" cy="157.7" r="2.7"/><circle cx="216.9" cy="153.0" r="2.7"/><circle cx="217.6" cy="149.6" r="2.7"/><circle cx="218.3" cy="146.8" r="2.7"/><circle cx="219.0" cy="142.9" r="2.7"/><circle cx="219.7" cy="139.7" r="2.7"/><circle cx="220.4" cy="136.3" r="2.7"/><circle cx="221.1" cy="132.9" r="2.7"/><circle cx="221.8" cy="130.1" r="2.7"/><circle cx="223.2" cy="125.1" r="2.7"/><circle cx="224.6" cy="121.1" r="2.7"/><circle cx="226.7" cy="117.5" r="2.7"/><circle cx="228.8" cy="115.5" r="2.7"/><circle cx="230.9" cy="113.8" r="2.7"/><circle cx="233.7" cy="116.2" r="2.7"/><circle cx="235.8" cy="120.5" r="2.7"/><circle cx="237.2" cy="123.6" r="2.7"/><circle cx="238.6" cy="127.1" r="2.7"/><circle cx="240.0" cy="130.8" r="2.7"/><circle cx="241.4" cy="135.4" r="2.7"/><circle cx="244.2" cy="132.5" r="2.7"/><circle cx="244.9" cy="128.6" r="2.7"/><circle cx="245.6" cy="125.0" r="2.7"/><circle cx="246.3" cy="120.3" r="2.7"/><circle cx="247.0" cy="115.1" r="2.7"/><circle cx="247.7" cy="110.9" r="2.7"/><circle cx="248.4" cy="106.3" r="2.7"/><circle cx="249.1" cy="102.5" r="2.7"/><circle cx="249.8" cy="99.0" r="2.7"/><circle cx="250.5" cy="95.7" r="2.7"/><circle cx="251.2" cy="92.7" r="2.7"/><circle cx="251.9" cy="90.0" r="2.7"/><circle cx="252.6" cy="85.5" r="2.7"/><circle cx="253.3" cy="82.1" r="2.7"/><circle cx="254.0" cy="77.3" r="2.7"/><circle cx="254.7" cy="73.5" r="2.7"/><circle cx="255.4" cy="69.8" r="2.7"/><circle cx="256.1" cy="64.4" r="2.7"/><circle cx="256.8" cy="60.7" r="2.7"/><circle cx="257.5" cy="56.8" r="2.7"/><circle cx="258.2" cy="51.8" r="2.7"/><circle cx="258.9" cy="48.0" r="2.7"/><circle cx="259.6" cy="45.3" r="2.7"/><circle cx="260.3" cy="42.5" r="2.7"/><circle cx="261.7" cy="39.6" r="2.7"/><circle cx="264.5" cy="37.2" r="2.7"/><circle cx="267.3" cy="36.8" r="2.7"/><circle cx="270.1" cy="36.6" r="2.7"/><circle cx="272.9" cy="36.0" r="2.7"/><circle cx="275.7" cy="34.7" r="2.7"/><circle cx="277.8" cy="32.6" r="2.7"/><circle cx="280.6" cy="31.4" r="2.7"/><circle cx="283.4" cy="32.1" r="2.7"/><circle cx="286.2" cy="32.3" r="2.7"/><circle cx="288.3" cy="34.6" r="2.7"/><circle cx="289.7" cy="37.0" r="2.7"/><circle cx="292.5" cy="39.1" r="2.7"/><circle cx="295.3" cy="39.9" r="2.7"/><circle cx="298.1" cy="39.5" r="2.7"/><circle cx="300.9" cy="40.1" r="2.7"/><circle cx="303.7" cy="39.7" r="2.7"/><circle cx="306.5" cy="40.3" r="2.7"/><circle cx="308.6" cy="42.0" r="2.7"/><circle cx="311.4" cy="42.8" r="2.7"/><circle cx="313.5" cy="44.5" r="2.7"/><circle cx="315.6" cy="46.9" r="2.7"/><circle cx="318.4" cy="46.0" r="2.7"/><circle cx="319.1" cy="43.4" r="2.7"/><circle cx="319.8" cy="40.8" r="2.7"/><circle cx="320.5" cy="36.7" r="2.7"/><circle cx="321.2" cy="33.6" r="2.7"/><circle cx="321.9" cy="30.7" r="2.7"/><circle cx="322.6" cy="27.5" r="2.7"/><circle cx="323.3" cy="24.2" r="2.7"/><circle cx="324.7" cy="20.4" r="2.7"/><circle cx="326.8" cy="17.2" r="2.7"/><circle cx="328.9" cy="14.7" r="2.7"/><circle cx="331.7" cy="13.1" r="2.7"/><circle cx="334.5" cy="11.4" r="2.7"/><circle cx="336.6" cy="9.5" r="2.7"/><circle cx="339.4" cy="7.6" r="2.7"/><circle cx="342.2" cy="6.4" r="2.7"/><circle cx="345.0" cy="6.9" r="2.7"/></g>
<path d="M131.5 223.4 133.6 250.0 135.7 231.9 137.8 230.5 139.9 250.0 142.0 226.3 144.1 230.5 146.2 250.0 148.3 250.0 150.4 230.4 152.5 230.3 154.6 229.4 156.7 229.6 158.8 223.9 160.9 232.1 163.0 250.0 165.1 250.0 167.2 250.0 169.3 208.0 170.7 210.4 172.1 206.6 172.8 203.5 173.5 203.6 174.2 199.5 174.9 195.7 175.6 195.7 176.3 190.4 177.0 187.7 177.7 186.3 178.4 186.7 179.1 183.0 179.8 184.9 180.5 184.7 181.2 186.8 181.9 190.2 182.6 190.7 183.3 194.3 184.0 194.4 184.7 193.3 185.4 195.2 186.1 195.8 186.8 195.5 187.5 196.9 188.2 196.0 188.9 198.5 189.6 201.1 190.3 204.3 191.7 207.3 193.1 203.1 194.5 208.5 195.9 211.8 196.6 212.5 197.3 214.3 198.7 214.8 200.8 250.0 202.9 250.0 205.0 250.0 207.1 206.0 207.8 201.7 208.5 198.5 209.2 196.1 209.9 193.8 210.6 190.7 211.3 188.3 212.0 185.5 212.7 182.0 213.4 179.5 214.1 175.9 214.8 172.0 215.5 168.2 216.2 164.1 216.9 159.5 217.6 155.5 218.3 151.1 219.0 148.0 219.7 143.8 220.4 140.7 221.1 137.1 221.8 134.7 222.5 131.1 223.2 128.9 223.9 125.8 224.6 124.1 225.3 122.4 226.0 120.7 226.7 119.4 227.4 118.3 228.1 117.3 228.8 116.4 229.5 115.7 230.2 115.8 230.9 115.1 231.6 115.1 232.3 115.6 233.0 115.6 233.7 116.4 234.4 117.5 235.1 120.1 235.8 121.3 236.5 123.6 237.2 124.6 237.9 127.2 238.6 129.6 239.3 131.5 240.0 134.1 240.7 135.8 241.4 138.1 242.1 140.4 242.8 141.8 243.5 141.4 244.2 139.0 244.9 135.7 245.6 132.5 246.3 126.6 247.0 121.3 247.7 115.8 248.4 112.1 249.1 108.0 249.8 103.9 250.5 100.5 251.2 97.5 251.9 94.2 252.6 90.7 253.3 87.3 254.0 83.7 254.7 79.7 255.4 75.9 256.1 71.4 256.8 66.8 257.5 62.9 258.2 58.8 258.9 54.0 259.6 51.4 260.3 48.6 261.0 46.3 261.7 45.6 262.4 44.9 263.1 44.6 263.8 43.9 264.5 44.5 265.2 43.9 265.9 43.4 266.6 44.2 267.3 43.1 268.0 43.9 268.7 43.2 269.4 43.0 270.1 43.0 270.8 42.7 271.5 42.6 272.2 42.9 272.9 42.5 273.6 41.8 274.3 42.2 275.0 41.4 275.7 41.9 276.4 41.3 277.1 41.1 277.8 41.3 278.5 39.7 279.2 40.9 279.9 40.8 280.6 39.8 281.3 39.4 282.0 38.9 282.7 39.5 283.4 39.3 284.1 39.5 284.8 39.6 285.5 40.7 286.2 40.9 286.9 40.6 287.6 41.8 288.3 42.1 289.0 43.6 289.7 43.9 290.4 45.3 291.1 46.8 291.8 47.4 292.5 47.7 293.2 48.5 293.9 48.7 294.6 50.1 295.3 50.3 296.0 49.6 296.7 50.1 297.4 51.6 298.1 51.2 298.8 50.5 299.5 50.7 300.2 50.2 300.9 50.1 301.6 49.4 302.3 49.8 303.0 49.1 303.7 48.4 304.4 48.5 305.1 48.2 305.8 48.3 306.5 48.0 307.2 47.8 307.9 47.4 308.6 47.7 309.3 47.4 310.0 48.2 310.7 47.2 311.4 47.4 312.1 47.3 312.8 47.0 313.5 47.5 314.2 47.4 314.9 47.4 315.6 47.9 316.3 47.3 317.0 48.1 317.7 48.8 318.4 49.9 319.1 50.2 319.8 50.3 320.5 49.9 321.2 47.3 321.9 45.8 322.6 42.5 323.3 38.4 324.0 35.4 324.7 32.2 325.4 29.6 326.1 27.0 326.8 24.6 327.5 23.2 328.2 22.2 328.9 20.5 329.6 20.0 330.3 19.5 331.0 18.2 331.7 18.3 332.4 16.6 333.1 16.3 333.8 15.8 334.5 15.5 335.2 14.5 335.9 14.1 336.6 13.9 337.3 13.2 338.0 12.8 338.7 11.7 339.4 11.0 340.1 9.9 340.8 9.9 341.5 9.7 342.2 8.9 342.9 8.9 343.6 9.2 344.3 8.8 345.0 9.3" fill="none" stroke="#1EC0C4" stroke-width="0.75"/>
<g fill="url(#ga3)"><circle cx="131.5" cy="223.4" r="2.7"/><circle cx="135.7" cy="231.9" r="2.7"/><circle cx="137.8" cy="230.5" r="2.7"/><circle cx="142.0" cy="226.3" r="2.7"/><circle cx="144.1" cy="230.5" r="2.7"/><circle cx="150.4" cy="230.4" r="2.7"/><circle cx="152.5" cy="230.3" r="2.7"/><circle cx="154.6" cy="229.4" r="2.7"/><circle cx="156.7" cy="229.6" r="2.7"/><circle cx="158.8" cy="223.9" r="2.7"/><circle cx="160.9" cy="232.1" r="2.7"/><circle cx="169.3" cy="208.0" r="2.7"/><circle cx="170.7" cy="210.4" r="2.7"/><circle cx="172.1" cy="206.6" r="2.7"/><circle cx="172.8" cy="203.5" r="2.7"/><circle cx="174.2" cy="199.5" r="2.7"/><circle cx="174.9" cy="195.7" r="2.7"/><circle cx="176.3" cy="190.4" r="2.7"/><circle cx="177.0" cy="187.7" r="2.7"/><circle cx="179.1" cy="183.0" r="2.7"/><circle cx="181.2" cy="186.8" r="2.7"/><circle cx="181.9" cy="190.2" r="2.7"/><circle cx="183.3" cy="194.3" r="2.7"/><circle cx="186.1" cy="195.8" r="2.7"/><circle cx="188.9" cy="198.5" r="2.7"/><circle cx="189.6" cy="201.1" r="2.7"/><circle cx="190.3" cy="204.3" r="2.7"/><circle cx="191.7" cy="207.3" r="2.7"/><circle cx="193.1" cy="203.1" r="2.7"/><circle cx="194.5" cy="208.5" r="2.7"/><circle cx="195.9" cy="211.8" r="2.7"/><circle cx="197.3" cy="214.3" r="2.7"/><circle cx="207.1" cy="206.0" r="2.7"/><circle cx="207.8" cy="201.7" r="2.7"/><circle cx="208.5" cy="198.5" r="2.7"/><circle cx="209.9" cy="193.8" r="2.7"/><circle cx="210.6" cy="190.7" r="2.7"/><circle cx="212.0" cy="185.5" r="2.7"/><circle cx="212.7" cy="182.0" r="2.7"/><circle cx="213.4" cy="179.5" r="2.7"/><circle cx="214.1" cy="175.9" r="2.7"/><circle cx="214.8" cy="172.0" r="2.7"/><circle cx="215.5" cy="168.2" r="2.7"/><circle cx="216.2" cy="164.1" r="2.7"/><circle cx="216.9" cy="159.5" r="2.7"/><circle cx="217.6" cy="155.5" r="2.7"/><circle cx="218.3" cy="151.1" r="2.7"/><circle cx="219.0" cy="148.0" r="2.7"/><circle cx="219.7" cy="143.8" r="2.7"/><circle cx="220.4" cy="140.7" r="2.7"/><circle cx="221.1" cy="137.1" r="2.7"/><circle cx="222.5" cy="131.1" r="2.7"/><circle cx="223.9" cy="125.8" r="2.7"/><circle cx="225.3" cy="122.4" r="2.7"/><circle cx="226.7" cy="119.4" r="2.7"/><circle cx="228.8" cy="116.4" r="2.7"/><circle cx="231.6" cy="115.1" r="2.7"/><circle cx="234.4" cy="117.5" r="2.7"/><circle cx="235.1" cy="120.1" r="2.7"/><circle cx="236.5" cy="123.6" r="2.7"/><circle cx="237.9" cy="127.2" r="2.7"/><circle cx="239.3" cy="131.5" r="2.7"/><circle cx="240.0" cy="134.1" r="2.7"/><circle cx="241.4" cy="138.1" r="2.7"/><circle cx="242.8" cy="141.8" r="2.7"/><circle cx="244.2" cy="139.0" r="2.7"/><circle cx="244.9" cy="135.7" r="2.7"/><circle cx="245.6" cy="132.5" r="2.7"/><circle cx="246.3" cy="126.6" r="2.7"/><circle cx="247.0" cy="121.3" r="2.7"/><circle cx="247.7" cy="115.8" r="2.7"/><circle cx="248.4" cy="112.1" r="2.7"/><circle cx="249.1" cy="108.0" r="2.7"/><circle cx="249.8" cy="103.9" r="2.7"/><circle cx="250.5" cy="100.5" r="2.7"/><circle cx="251.2" cy="97.5" r="2.7"/><circle cx="251.9" cy="94.2" r="2.7"/><circle cx="252.6" cy="90.7" r="2.7"/><circle cx="253.3" cy="87.3" r="2.7"/><circle cx="254.0" cy="83.7" r="2.7"/><circle cx="254.7" cy="79.7" r="2.7"/><circle cx="255.4" cy="75.9" r="2.7"/><circle cx="256.1" cy="71.4" r="2.7"/><circle cx="256.8" cy="66.8" r="2.7"/><circle cx="257.5" cy="62.9" r="2.7"/><circle cx="258.2" cy="58.8" r="2.7"/><circle cx="258.9" cy="54.0" r="2.7"/><circle cx="259.6" cy="51.4" r="2.7"/><circle cx="260.3" cy="48.6" r="2.7"/><circle cx="261.7" cy="45.6" r="2.7"/><circle cx="263.8" cy="43.9" r="2.7"/><circle cx="266.6" cy="44.2" r="2.7"/><circle cx="269.4" cy="43.0" r="2.7"/><circle cx="272.2" cy="42.9" r="2.7"/><circle cx="275.0" cy="41.4" r="2.7"/><circle cx="277.8" cy="41.3" r="2.7"/><circle cx="280.6" cy="39.8" r="2.7"/><circle cx="283.4" cy="39.3" r="2.7"/><circle cx="286.2" cy="40.9" r="2.7"/><circle cx="289.0" cy="43.6" r="2.7"/><circle cx="291.1" cy="46.8" r="2.7"/><circle cx="293.2" cy="48.5" r="2.7"/><circle cx="295.3" cy="50.3" r="2.7"/><circle cx="298.1" cy="51.2" r="2.7"/><circle cx="300.9" cy="50.1" r="2.7"/><circle cx="303.7" cy="48.4" r="2.7"/><circle cx="306.5" cy="48.0" r="2.7"/><circle cx="309.3" cy="47.4" r="2.7"/><circle cx="312.1" cy="47.3" r="2.7"/><circle cx="314.9" cy="47.4" r="2.7"/><circle cx="317.7" cy="48.8" r="2.7"/><circle cx="320.5" cy="49.9" r="2.7"/><circle cx="321.2" cy="47.3" r="2.7"/><circle cx="322.6" cy="42.5" r="2.7"/><circle cx="323.3" cy="38.4" r="2.7"/><circle cx="324.0" cy="35.4" r="2.7"/><circle cx="324.7" cy="32.2" r="2.7"/><circle cx="325.4" cy="29.6" r="2.7"/><circle cx="326.1" cy="27.0" r="2.7"/><circle cx="327.5" cy="23.2" r="2.7"/><circle cx="328.9" cy="20.5" r="2.7"/><circle cx="331.0" cy="18.2" r="2.7"/><circle cx="333.1" cy="16.3" r="2.7"/><circle cx="335.2" cy="14.5" r="2.7"/><circle cx="338.0" cy="12.8" r="2.7"/><circle cx="340.1" cy="9.9" r="2.7"/><circle cx="342.9" cy="8.9" r="2.7"/></g>
<path d="M131.5 250.0 133.6 229.5 135.7 224.9 137.8 224.8 139.9 250.0 142.0 213.3 144.1 225.3 146.2 250.0 148.3 250.0 150.4 250.0 152.5 229.4 154.6 250.0 156.7 223.7 158.8 231.9 160.9 250.0 163.0 223.7 165.1 221.0 167.2 213.5 169.3 250.0 170.7 210.7 172.1 203.3 172.8 199.6 173.5 198.9 174.2 196.0 174.9 190.8 175.6 187.5 176.3 182.5 177.0 178.8 177.7 178.8 178.4 182.0 179.1 181.6 179.8 183.7 180.5 182.4 181.2 181.4 181.9 182.9 182.6 187.5 183.3 191.0 184.0 192.7 184.7 194.1 185.4 193.6 186.1 194.1 186.8 198.9 187.5 198.8 188.2 200.3 188.9 198.6 189.6 198.4 190.3 201.7 191.0 202.7 191.7 205.3 193.1 214.6 194.5 213.3 195.9 250.0 198.7 220.1 200.8 215.1 202.9 220.6 205.7 205.3 206.4 201.4 207.1 198.6 207.8 196.0 208.5 193.4 209.2 190.3 209.9 187.2 210.6 184.4 211.3 182.4 212.0 179.4 212.7 176.5 213.4 173.0 214.1 168.2 214.8 164.9 215.5 160.7 216.2 155.7 216.9 152.1 217.6 148.9 218.3 144.9 219.0 141.5 219.7 138.8 220.4 135.1 221.1 132.0 221.8 129.6 222.5 127.0 223.2 124.7 223.9 123.0 224.6 121.3 225.3 118.8 226.0 118.4 226.7 117.0 227.4 116.1 228.1 115.5 228.8 115.2 229.5 114.2 230.2 113.5 230.9 113.6 231.6 113.1 232.3 114.2 233.0 114.7 233.7 115.1 234.4 116.4 235.1 118.1 235.8 120.0 236.5 122.2 237.2 123.8 237.9 125.6 238.6 127.6 239.3 129.9 240.0 131.2 240.7 133.0 241.4 135.8 242.1 136.0 242.8 136.6 243.5 134.9 244.2 131.5 244.9 128.2 245.6 124.3 246.3 119.1 247.0 114.0 247.7 109.3 248.4 106.1 249.1 101.6 249.8 98.0 250.5 94.8 251.2 92.0 251.9 88.7 252.6 85.3 253.3 81.2 254.0 77.7 254.7 72.9 255.4 68.6 256.1 64.3 256.8 59.6 257.5 55.4 258.2 51.2 258.9 47.4 259.6 44.9 260.3 42.5 261.0 40.9 261.7 39.7 262.4 38.8 263.1 38.3 263.8 37.9 264.5 37.4 265.2 37.9 265.9 38.0 266.6 37.1 267.3 37.0 268.0 36.0 268.7 36.6 269.4 36.2 270.1 36.3 270.8 35.8 271.5 35.6 272.2 35.3 272.9 35.2 273.6 35.9 274.3 35.1 275.0 34.1 275.7 34.3 276.4 34.0 277.1 34.5 277.8 32.7 278.5 33.2 279.2 32.8 279.9 32.9 280.6 32.4 281.3 31.6 282.0 31.0 282.7 31.3 283.4 31.6 284.1 31.9 284.8 32.0 285.5 32.1 286.2 33.2 286.9 33.6 287.6 34.1 288.3 34.7 289.0 35.4 289.7 36.2 290.4 38.4 291.1 38.2 291.8 38.6 292.5 39.6 293.2 39.2 293.9 39.6 294.6 39.3 295.3 39.6 296.0 39.1 296.7 39.9 297.4 40.4 298.1 39.8 298.8 39.9 299.5 40.2 300.2 40.2 300.9 39.5 301.6 39.6 302.3 39.8 303.0 40.5 303.7 39.7 304.4 40.0 305.1 40.3 305.8 40.5 306.5 40.8 307.2 40.8 307.9 41.7 308.6 41.3 309.3 42.6 310.0 42.2 310.7 42.7 311.4 42.3 312.1 43.1 312.8 42.9 313.5 43.3 314.2 44.6 314.9 45.2 315.6 46.2 316.3 47.1 317.0 48.5 317.7 47.2 318.4 45.6 319.1 43.4 319.8 40.3 320.5 35.6 321.2 32.0 321.9 30.2 322.6 26.3 323.3 24.4 324.0 22.0 324.7 20.4 325.4 19.2 326.1 17.7 326.8 17.4 327.5 16.6 328.2 16.0 328.9 15.9 329.6 14.3 330.3 14.2 331.0 14.0 331.7 12.7 332.4 12.2 333.1 11.8 333.8 11.2 334.5 10.6 335.2 10.9 335.9 10.6 336.6 9.8 337.3 8.9 338.0 8.4 338.7 8.2 339.4 7.5 340.1 7.2 340.8 6.7 341.5 6.9 342.2 6.8 342.9 6.6 343.6 6.2 344.3 6.4 345.0 6.8" fill="none" stroke="#D49A12" stroke-width="0.75"/>
<g fill="url(#ga4)"><circle cx="133.6" cy="229.5" r="2.7"/><circle cx="135.7" cy="224.9" r="2.7"/><circle cx="137.8" cy="224.8" r="2.7"/><circle cx="142.0" cy="213.3" r="2.7"/><circle cx="144.1" cy="225.3" r="2.7"/><circle cx="152.5" cy="229.4" r="2.7"/><circle cx="156.7" cy="223.7" r="2.7"/><circle cx="158.8" cy="231.9" r="2.7"/><circle cx="163.0" cy="223.7" r="2.7"/><circle cx="165.1" cy="221.0" r="2.7"/><circle cx="167.2" cy="213.5" r="2.7"/><circle cx="170.7" cy="210.7" r="2.7"/><circle cx="172.1" cy="203.3" r="2.7"/><circle cx="172.8" cy="199.6" r="2.7"/><circle cx="174.2" cy="196.0" r="2.7"/><circle cx="174.9" cy="190.8" r="2.7"/><circle cx="175.6" cy="187.5" r="2.7"/><circle cx="176.3" cy="182.5" r="2.7"/><circle cx="177.0" cy="178.8" r="2.7"/><circle cx="178.4" cy="182.0" r="2.7"/><circle cx="181.2" cy="181.4" r="2.7"/><circle cx="182.6" cy="187.5" r="2.7"/><circle cx="183.3" cy="191.0" r="2.7"/><circle cx="184.7" cy="194.1" r="2.7"/><circle cx="186.8" cy="198.9" r="2.7"/><circle cx="189.6" cy="198.4" r="2.7"/><circle cx="190.3" cy="201.7" r="2.7"/><circle cx="191.7" cy="205.3" r="2.7"/><circle cx="193.1" cy="214.6" r="2.7"/><circle cx="198.7" cy="220.1" r="2.7"/><circle cx="200.8" cy="215.1" r="2.7"/><circle cx="202.9" cy="220.6" r="2.7"/><circle cx="205.7" cy="205.3" r="2.7"/><circle cx="206.4" cy="201.4" r="2.7"/><circle cx="207.1" cy="198.6" r="2.7"/><circle cx="207.8" cy="196.0" r="2.7"/><circle cx="208.5" cy="193.4" r="2.7"/><circle cx="209.2" cy="190.3" r="2.7"/><circle cx="209.9" cy="187.2" r="2.7"/><circle cx="210.6" cy="184.4" r="2.7"/><circle cx="212.0" cy="179.4" r="2.7"/><circle cx="212.7" cy="176.5" r="2.7"/><circle cx="213.4" cy="173.0" r="2.7"/><circle cx="214.1" cy="168.2" r="2.7"/><circle cx="214.8" cy="164.9" r="2.7"/><circle cx="215.5" cy="160.7" r="2.7"/><circle cx="216.2" cy="155.7" r="2.7"/><circle cx="216.9" cy="152.1" r="2.7"/><circle cx="217.6" cy="148.9" r="2.7"/><circle cx="218.3" cy="144.9" r="2.7"/><circle cx="219.0" cy="141.5" r="2.7"/><circle cx="219.7" cy="138.8" r="2.7"/><circle cx="220.4" cy="135.1" r="2.7"/><circle cx="221.1" cy="132.0" r="2.7"/><circle cx="222.5" cy="127.0" r="2.7"/><circle cx="223.9" cy="123.0" r="2.7"/><circle cx="225.3" cy="118.8" r="2.7"/><circle cx="227.4" cy="116.1" r="2.7"/><circle cx="229.5" cy="114.2" r="2.7"/><circle cx="232.3" cy="114.2" r="2.7"/><circle cx="234.4" cy="116.4" r="2.7"/><circle cx="235.8" cy="120.0" r="2.7"/><circle cx="237.2" cy="123.8" r="2.7"/><circle cx="238.6" cy="127.6" r="2.7"/><circle cx="240.0" cy="131.2" r="2.7"/><circle cx="241.4" cy="135.8" r="2.7"/><circle cx="244.2" cy="131.5" r="2.7"/><circle cx="244.9" cy="128.2" r="2.7"/><circle cx="245.6" cy="124.3" r="2.7"/><circle cx="246.3" cy="119.1" r="2.7"/><circle cx="247.0" cy="114.0" r="2.7"/><circle cx="247.7" cy="109.3" r="2.7"/><circle cx="248.4" cy="106.1" r="2.7"/><circle cx="249.1" cy="101.6" r="2.7"/><circle cx="249.8" cy="98.0" r="2.7"/><circle cx="250.5" cy="94.8" r="2.7"/><circle cx="251.2" cy="92.0" r="2.7"/><circle cx="251.9" cy="88.7" r="2.7"/><circle cx="252.6" cy="85.3" r="2.7"/><circle cx="253.3" cy="81.2" r="2.7"/><circle cx="254.0" cy="77.7" r="2.7"/><circle cx="254.7" cy="72.9" r="2.7"/><circle cx="255.4" cy="68.6" r="2.7"/><circle cx="256.1" cy="64.3" r="2.7"/><circle cx="256.8" cy="59.6" r="2.7"/><circle cx="257.5" cy="55.4" r="2.7"/><circle cx="258.2" cy="51.2" r="2.7"/><circle cx="258.9" cy="47.4" r="2.7"/><circle cx="259.6" cy="44.9" r="2.7"/><circle cx="261.0" cy="40.9" r="2.7"/><circle cx="263.1" cy="38.3" r="2.7"/><circle cx="265.9" cy="38.0" r="2.7"/><circle cx="268.0" cy="36.0" r="2.7"/><circle cx="270.8" cy="35.8" r="2.7"/><circle cx="273.6" cy="35.9" r="2.7"/><circle cx="275.7" cy="34.3" r="2.7"/><circle cx="277.8" cy="32.7" r="2.7"/><circle cx="280.6" cy="32.4" r="2.7"/><circle cx="283.4" cy="31.6" r="2.7"/><circle cx="286.2" cy="33.2" r="2.7"/><circle cx="289.0" cy="35.4" r="2.7"/><circle cx="290.4" cy="38.4" r="2.7"/><circle cx="293.2" cy="39.2" r="2.7"/><circle cx="296.0" cy="39.1" r="2.7"/><circle cx="298.8" cy="39.9" r="2.7"/><circle cx="301.6" cy="39.6" r="2.7"/><circle cx="304.4" cy="40.0" r="2.7"/><circle cx="307.2" cy="40.8" r="2.7"/><circle cx="309.3" cy="42.6" r="2.7"/><circle cx="312.1" cy="43.1" r="2.7"/><circle cx="314.9" cy="45.2" r="2.7"/><circle cx="317.0" cy="48.5" r="2.7"/><circle cx="318.4" cy="45.6" r="2.7"/><circle cx="319.8" cy="40.3" r="2.7"/><circle cx="320.5" cy="35.6" r="2.7"/><circle cx="321.2" cy="32.0" r="2.7"/><circle cx="322.6" cy="26.3" r="2.7"/><circle cx="324.0" cy="22.0" r="2.7"/><circle cx="325.4" cy="19.2" r="2.7"/><circle cx="327.5" cy="16.6" r="2.7"/><circle cx="329.6" cy="14.3" r="2.7"/><circle cx="331.7" cy="12.7" r="2.7"/><circle cx="334.5" cy="10.6" r="2.7"/><circle cx="337.3" cy="8.9" r="2.7"/><circle cx="340.1" cy="7.2" r="2.7"/><circle cx="342.9" cy="6.6" r="2.7"/></g>
<path d="M131.5 232.0 133.6 250.0 135.7 250.0 137.8 232.9 139.9 224.9 142.0 250.0 144.1 232.7 146.2 227.2 148.3 222.8 150.4 232.8 152.5 250.0 154.6 250.0 156.7 233.3 158.8 250.0 160.9 250.0 163.0 231.6 165.1 233.8 167.2 221.9 169.3 250.0 171.4 250.0 173.5 250.0 174.9 209.4 176.3 204.5 177.0 204.0 177.7 205.2 178.4 199.7 179.1 195.5 179.8 192.8 180.5 190.3 181.2 189.9 181.9 190.9 182.6 192.7 183.3 193.7 184.0 197.5 184.7 198.5 185.4 198.5 186.1 198.5 186.8 195.9 187.5 196.8 188.2 196.8 188.9 198.9 189.6 202.1 190.3 199.2 191.0 202.7 191.7 203.8 193.1 211.8 194.5 250.0 195.9 215.6 197.3 215.6 198.7 213.0 200.8 250.0 202.9 250.0 205.0 231.8 207.1 212.6 208.5 210.0 209.9 202.9 210.6 200.1 211.3 197.1 212.0 194.7 212.7 192.3 213.4 189.3 214.1 186.6 214.8 184.4 215.5 181.3 216.2 177.8 216.9 174.6 217.6 170.2 218.3 165.4 219.0 161.9 219.7 157.1 220.4 153.7 221.1 149.3 221.8 146.9 222.5 142.7 223.2 140.2 223.9 137.6 224.6 134.0 225.3 130.9 226.0 127.8 226.7 125.5 227.4 123.9 228.1 121.1 228.8 120.0 229.5 119.6 230.2 118.1 230.9 117.9 231.6 117.0 232.3 116.2 233.0 116.5 233.7 117.4 234.4 117.3 235.1 118.0 235.8 119.3 236.5 120.4 237.2 122.3 237.9 124.4 238.6 126.0 239.3 128.2 240.0 130.6 240.7 133.1 241.4 134.4 242.1 136.4 242.8 139.8 243.5 140.8 244.2 141.0 244.9 142.1 245.6 141.0 246.3 140.0 247.0 136.7 247.7 134.3 248.4 130.6 249.1 124.4 249.8 119.0 250.5 114.4 251.2 110.6 251.9 106.9 252.6 103.5 253.3 99.5 254.0 96.7 254.7 92.6 255.4 89.7 256.1 86.0 256.8 82.9 257.5 78.5 258.2 73.9 258.9 69.5 259.6 65.2 260.3 61.4 261.0 57.6 261.7 55.1 262.4 52.5 263.1 50.9 263.8 50.5 264.5 49.3 265.2 49.1 265.9 48.7 266.6 49.7 267.3 49.5 268.0 49.0 268.7 48.7 269.4 48.3 270.1 49.0 270.8 48.5 271.5 48.4 272.2 48.2 272.9 46.9 273.6 47.1 274.3 47.3 275.0 47.5 275.7 46.7 276.4 46.9 277.1 46.4 277.8 45.9 278.5 46.2 279.2 45.3 279.9 44.8 280.6 45.5 281.3 45.0 282.0 44.1 282.7 44.2 283.4 43.3 284.1 43.4 284.8 43.7 285.5 43.9 286.2 44.2 286.9 43.8 287.6 44.9 288.3 44.6 289.0 45.5 289.7 47.2 290.4 47.3 291.1 47.7 291.8 49.1 292.5 49.7 293.2 50.7 293.9 51.3 294.6 51.9 295.3 52.4 296.0 52.9 296.7 53.7 297.4 53.1 298.1 52.7 298.8 51.9 299.5 52.6 300.2 51.9 300.9 52.1 301.6 51.3 302.3 51.7 303.0 50.6 303.7 50.5 304.4 50.3 305.1 50.1 305.8 50.1 306.5 49.8 307.2 48.8 307.9 48.9 308.6 48.9 309.3 49.3 310.0 48.9 310.7 49.3 311.4 49.2 312.1 49.0 312.8 47.8 313.5 48.9 314.2 48.0 314.9 47.3 315.6 47.2 316.3 46.8 317.0 47.1 317.7 47.0 318.4 48.4 319.1 47.9 319.8 48.7 320.5 49.3 321.2 51.2 321.9 52.7 322.6 52.7 323.3 51.3 324.0 49.8 324.7 47.4 325.4 44.4 326.1 40.7 326.8 37.4 327.5 34.0 328.2 30.9 328.9 28.1 329.6 26.3 330.3 24.4 331.0 23.4 331.7 22.0 332.4 21.1 333.1 19.8 333.8 19.2 334.5 18.2 335.2 16.9 335.9 16.7 336.6 15.9 337.3 15.8 338.0 15.2 338.7 15.2 339.4 14.2 340.1 13.2 340.8 12.6 341.5 12.1 342.2 11.5 342.9 11.4 343.6 10.6 344.3 10.5 345.0 10.3" fill="none" stroke="#9C6CE0" stroke-width="0.75"/>
<g fill="url(#ga5)"><circle cx="131.5" cy="232.0" r="2.7"/><circle cx="137.8" cy="232.9" r="2.7"/><circle cx="139.9" cy="224.9" r="2.7"/><circle cx="144.1" cy="232.7" r="2.7"/><circle cx="146.2" cy="227.2" r="2.7"/><circle cx="148.3" cy="222.8" r="2.7"/><circle cx="150.4" cy="232.8" r="2.7"/><circle cx="156.7" cy="233.3" r="2.7"/><circle cx="163.0" cy="231.6" r="2.7"/><circle cx="165.1" cy="233.8" r="2.7"/><circle cx="167.2" cy="221.9" r="2.7"/><circle cx="174.9" cy="209.4" r="2.7"/><circle cx="176.3" cy="204.5" r="2.7"/><circle cx="178.4" cy="199.7" r="2.7"/><circle cx="179.1" cy="195.5" r="2.7"/><circle cx="179.8" cy="192.8" r="2.7"/><circle cx="181.2" cy="189.9" r="2.7"/><circle cx="182.6" cy="192.7" r="2.7"/><circle cx="184.0" cy="197.5" r="2.7"/><circle cx="186.8" cy="195.9" r="2.7"/><circle cx="188.9" cy="198.9" r="2.7"/><circle cx="189.6" cy="202.1" r="2.7"/><circle cx="190.3" cy="199.2" r="2.7"/><circle cx="191.0" cy="202.7" r="2.7"/><circle cx="193.1" cy="211.8" r="2.7"/><circle cx="195.9" cy="215.6" r="2.7"/><circle cx="198.7" cy="213.0" r="2.7"/><circle cx="205.0" cy="231.8" r="2.7"/><circle cx="207.1" cy="212.6" r="2.7"/><circle cx="208.5" cy="210.0" r="2.7"/><circle cx="209.9" cy="202.9" r="2.7"/><circle cx="210.6" cy="200.1" r="2.7"/><circle cx="211.3" cy="197.1" r="2.7"/><circle cx="212.7" cy="192.3" r="2.7"/><circle cx="213.4" cy="189.3" r="2.7"/><circle cx="214.1" cy="186.6" r="2.7"/><circle cx="215.5" cy="181.3" r="2.7"/><circle cx="216.2" cy="177.8" r="2.7"/><circle cx="216.9" cy="174.6" r="2.7"/><circle cx="217.6" cy="170.2" r="2.7"/><circle cx="218.3" cy="165.4" r="2.7"/><circle cx="219.0" cy="161.9" r="2.7"/><circle cx="219.7" cy="157.1" r="2.7"/><circle cx="220.4" cy="153.7" r="2.7"/><circle cx="221.1" cy="149.3" r="2.7"/><circle cx="222.5" cy="142.7" r="2.7"/><circle cx="223.9" cy="137.6" r="2.7"/><circle cx="224.6" cy="134.0" r="2.7"/><circle cx="225.3" cy="130.9" r="2.7"/><circle cx="226.0" cy="127.8" r="2.7"/><circle cx="227.4" cy="123.9" r="2.7"/><circle cx="228.1" cy="121.1" r="2.7"/><circle cx="230.2" cy="118.1" r="2.7"/><circle cx="232.3" cy="116.2" r="2.7"/><circle cx="235.1" cy="118.0" r="2.7"/><circle cx="236.5" cy="120.4" r="2.7"/><circle cx="237.9" cy="124.4" r="2.7"/><circle cx="239.3" cy="128.2" r="2.7"/><circle cx="240.7" cy="133.1" r="2.7"/><circle cx="242.1" cy="136.4" r="2.7"/><circle cx="242.8" cy="139.8" r="2.7"/><circle cx="244.9" cy="142.1" r="2.7"/><circle cx="247.0" cy="136.7" r="2.7"/><circle cx="248.4" cy="130.6" r="2.7"/><circle cx="249.1" cy="124.4" r="2.7"/><circle cx="249.8" cy="119.0" r="2.7"/><circle cx="250.5" cy="114.4" r="2.7"/><circle cx="251.2" cy="110.6" r="2.7"/><circle cx="251.9" cy="106.9" r="2.7"/><circle cx="252.6" cy="103.5" r="2.7"/><circle cx="253.3" cy="99.5" r="2.7"/><circle cx="254.0" cy="96.7" r="2.7"/><circle cx="254.7" cy="92.6" r="2.7"/><circle cx="255.4" cy="89.7" r="2.7"/><circle cx="256.1" cy="86.0" r="2.7"/><circle cx="256.8" cy="82.9" r="2.7"/><circle cx="257.5" cy="78.5" r="2.7"/><circle cx="258.2" cy="73.9" r="2.7"/><circle cx="258.9" cy="69.5" r="2.7"/><circle cx="259.6" cy="65.2" r="2.7"/><circle cx="260.3" cy="61.4" r="2.7"/><circle cx="261.0" cy="57.6" r="2.7"/><circle cx="261.7" cy="55.1" r="2.7"/><circle cx="262.4" cy="52.5" r="2.7"/><circle cx="264.5" cy="49.3" r="2.7"/><circle cx="267.3" cy="49.5" r="2.7"/><circle cx="270.1" cy="49.0" r="2.7"/><circle cx="272.9" cy="46.9" r="2.7"/><circle cx="275.7" cy="46.7" r="2.7"/><circle cx="278.5" cy="46.2" r="2.7"/><circle cx="281.3" cy="45.0" r="2.7"/><circle cx="283.4" cy="43.3" r="2.7"/><circle cx="286.2" cy="44.2" r="2.7"/><circle cx="289.0" cy="45.5" r="2.7"/><circle cx="291.1" cy="47.7" r="2.7"/><circle cx="293.2" cy="50.7" r="2.7"/><circle cx="295.3" cy="52.4" r="2.7"/><circle cx="298.1" cy="52.7" r="2.7"/><circle cx="300.9" cy="52.1" r="2.7"/><circle cx="303.7" cy="50.5" r="2.7"/><circle cx="306.5" cy="49.8" r="2.7"/><circle cx="309.3" cy="49.3" r="2.7"/><circle cx="312.1" cy="49.0" r="2.7"/><circle cx="314.9" cy="47.3" r="2.7"/><circle cx="317.7" cy="47.0" r="2.7"/><circle cx="319.8" cy="48.7" r="2.7"/><circle cx="321.2" cy="51.2" r="2.7"/><circle cx="324.0" cy="49.8" r="2.7"/><circle cx="325.4" cy="44.4" r="2.7"/><circle cx="326.1" cy="40.7" r="2.7"/><circle cx="326.8" cy="37.4" r="2.7"/><circle cx="327.5" cy="34.0" r="2.7"/><circle cx="328.2" cy="30.9" r="2.7"/><circle cx="328.9" cy="28.1" r="2.7"/><circle cx="330.3" cy="24.4" r="2.7"/><circle cx="331.7" cy="22.0" r="2.7"/><circle cx="333.1" cy="19.8" r="2.7"/><circle cx="335.2" cy="16.9" r="2.7"/><circle cx="338.0" cy="15.2" r="2.7"/><circle cx="340.1" cy="13.2" r="2.7"/><circle cx="342.2" cy="11.5" r="2.7"/><circle cx="345.0" cy="10.3" r="2.7"/></g>
<path d="M131.5 230.9 133.6 250.0 135.7 231.9 137.8 225.8 139.9 234.0 142.0 223.3 144.1 229.6 146.2 250.0 148.3 229.3 150.4 233.4 152.5 229.2 154.6 228.8 156.7 229.9 158.8 250.0 160.9 250.0 163.0 250.0 165.1 250.0 167.2 222.8 169.3 212.1 170.7 209.3 171.4 203.5 172.1 200.3 172.8 199.5 173.5 195.8 174.2 194.3 174.9 191.1 175.6 189.9 176.3 186.3 177.0 185.1 177.7 186.5 178.4 187.8 179.1 187.8 179.8 190.9 180.5 190.2 181.2 191.0 181.9 193.0 182.6 192.6 183.3 195.0 184.0 195.6 184.7 195.1 185.4 200.3 186.1 201.0 186.8 202.8 187.5 208.1 188.9 204.4 189.6 203.6 190.3 203.4 191.7 250.0 192.4 211.8 194.5 217.0 196.6 213.5 198.7 218.3 200.8 224.1 202.9 250.0 204.3 206.2 205.7 201.4 206.4 199.5 207.1 196.0 207.8 193.5 208.5 190.8 209.2 187.8 209.9 185.1 210.6 183.0 211.3 180.3 212.0 176.5 212.7 173.5 213.4 168.9 214.1 165.2 214.8 160.9 215.5 157.1 216.2 152.4 216.9 149.9 217.6 146.3 218.3 143.0 219.0 140.0 219.7 136.7 220.4 132.9 221.1 130.4 221.8 127.7 222.5 125.6 223.2 124.0 223.9 122.5 224.6 120.1 225.3 118.9 226.0 118.2 226.7 117.5 227.4 116.6 228.1 115.7 228.8 115.5 229.5 115.1 230.2 114.6 230.9 115.4 231.6 114.9 232.3 115.9 233.0 116.7 233.7 118.1 234.4 119.9 235.1 121.1 235.8 122.9 236.5 125.0 237.2 127.4 237.9 128.6 238.6 130.9 239.3 132.6 240.0 134.2 240.7 136.6 241.4 137.6 242.1 138.7 242.8 137.9 243.5 135.9 244.2 131.4 244.9 127.9 245.6 122.9 246.3 117.4 247.0 112.2 247.7 108.7 248.4 104.2 249.1 101.1 249.8 97.3 250.5 94.4 251.2 91.3 251.9 87.1 252.6 83.6 253.3 80.0 254.0 76.1 254.7 71.4 255.4 67.5 256.1 63.1 256.8 58.3 257.5 54.2 258.2 49.7 258.9 47.1 259.6 44.7 260.3 42.8 261.0 40.6 261.7 40.5 262.4 39.1 263.1 39.1 263.8 38.6 264.5 37.8 265.2 37.8 265.9 37.7 266.6 37.5 267.3 37.2 268.0 37.1 268.7 37.3 269.4 37.2 270.1 35.8 270.8 36.2 271.5 36.2 272.2 35.2 272.9 35.9 273.6 36.0 274.3 34.8 275.0 34.2 275.7 34.5 276.4 34.9 277.1 35.0 277.8 33.8 278.5 33.2 279.2 32.5 279.9 32.7 280.6 32.0 281.3 32.1 282.0 32.5 282.7 32.3 283.4 32.1 284.1 32.8 284.8 33.3 285.5 33.7 286.2 33.2 286.9 34.6 287.6 35.2 288.3 35.7 289.0 36.3 289.7 37.4 290.4 38.3 291.1 40.0 291.8 39.7 292.5 39.8 293.2 40.3 293.9 40.8 294.6 40.4 295.3 40.7 296.0 40.7 296.7 40.3 297.4 41.0 298.1 40.6 298.8 40.9 299.5 41.0 300.2 40.4 300.9 40.3 301.6 40.4 302.3 41.4 303.0 40.8 303.7 40.7 304.4 41.5 305.1 40.8 305.8 41.9 306.5 41.2 307.2 41.8 307.9 42.0 308.6 42.4 309.3 42.9 310.0 43.2 310.7 42.8 311.4 43.1 312.1 43.8 312.8 44.5 313.5 44.5 314.2 45.0 314.9 45.8 315.6 48.0 316.3 48.9 317.0 48.4 317.7 47.2 318.4 45.8 319.1 42.6 319.8 39.0 320.5 36.2 321.2 32.0 321.9 29.4 322.6 26.4 323.3 23.5 324.0 21.7 324.7 20.3 325.4 19.4 326.1 18.4 326.8 17.8 327.5 17.1 328.2 16.0 328.9 15.2 329.6 13.9 330.3 14.5 331.0 13.7 331.7 13.2 332.4 13.1 333.1 12.1 333.8 11.6 334.5 11.6 335.2 9.6 335.9 10.5 336.6 9.8 337.3 8.7 338.0 8.4 338.7 8.6 339.4 7.6 340.1 7.7 340.8 7.1 341.5 6.8 342.2 6.8 342.9 6.7 343.6 6.6 344.3 6.9 345.0 7.1" fill="none" stroke="#1E9C50" stroke-width="0.75"/>
<g fill="url(#ga6)"><circle cx="131.5" cy="230.9" r="2.7"/><circle cx="135.7" cy="231.9" r="2.7"/><circle cx="137.8" cy="225.8" r="2.7"/><circle cx="139.9" cy="234.0" r="2.7"/><circle cx="142.0" cy="223.3" r="2.7"/><circle cx="144.1" cy="229.6" r="2.7"/><circle cx="148.3" cy="229.3" r="2.7"/><circle cx="150.4" cy="233.4" r="2.7"/><circle cx="152.5" cy="229.2" r="2.7"/><circle cx="154.6" cy="228.8" r="2.7"/><circle cx="156.7" cy="229.9" r="2.7"/><circle cx="167.2" cy="222.8" r="2.7"/><circle cx="169.3" cy="212.1" r="2.7"/><circle cx="170.7" cy="209.3" r="2.7"/><circle cx="171.4" cy="203.5" r="2.7"/><circle cx="172.1" cy="200.3" r="2.7"/><circle cx="173.5" cy="195.8" r="2.7"/><circle cx="174.9" cy="191.1" r="2.7"/><circle cx="176.3" cy="186.3" r="2.7"/><circle cx="179.1" cy="187.8" r="2.7"/><circle cx="179.8" cy="190.9" r="2.7"/><circle cx="181.9" cy="193.0" r="2.7"/><circle cx="184.0" cy="195.6" r="2.7"/><circle cx="185.4" cy="200.3" r="2.7"/><circle cx="186.8" cy="202.8" r="2.7"/><circle cx="187.5" cy="208.1" r="2.7"/><circle cx="188.9" cy="204.4" r="2.7"/><circle cx="192.4" cy="211.8" r="2.7"/><circle cx="194.5" cy="217.0" r="2.7"/><circle cx="196.6" cy="213.5" r="2.7"/><circle cx="198.7" cy="218.3" r="2.7"/><circle cx="200.8" cy="224.1" r="2.7"/><circle cx="204.3" cy="206.2" r="2.7"/><circle cx="205.7" cy="201.4" r="2.7"/><circle cx="207.1" cy="196.0" r="2.7"/><circle cx="208.5" cy="190.8" r="2.7"/><circle cx="209.2" cy="187.8" r="2.7"/><circle cx="209.9" cy="185.1" r="2.7"/><circle cx="211.3" cy="180.3" r="2.7"/><circle cx="212.0" cy="176.5" r="2.7"/><circle cx="212.7" cy="173.5" r="2.7"/><circle cx="213.4" cy="168.9" r="2.7"/><circle cx="214.1" cy="165.2" r="2.7"/><circle cx="214.8" cy="160.9" r="2.7"/><circle cx="215.5" cy="157.1" r="2.7"/><circle cx="216.2" cy="152.4" r="2.7"/><circle cx="217.6" cy="146.3" r="2.7"/><circle cx="218.3" cy="143.0" r="2.7"/><circle cx="219.0" cy="140.0" r="2.7"/><circle cx="219.7" cy="136.7" r="2.7"/><circle cx="220.4" cy="132.9" r="2.7"/><circle cx="221.8" cy="127.7" r="2.7"/><circle cx="223.2" cy="124.0" r="2.7"/><circle cx="224.6" cy="120.1" r="2.7"/><circle cx="226.7" cy="117.5" r="2.7"/><circle cx="228.8" cy="115.5" r="2.7"/><circle cx="231.6" cy="114.9" r="2.7"/><circle cx="233.7" cy="118.1" r="2.7"/><circle cx="235.1" cy="121.1" r="2.7"/><circle cx="236.5" cy="125.0" r="2.7"/><circle cx="237.9" cy="128.6" r="2.7"/><circle cx="239.3" cy="132.6" r="2.7"/><circle cx="240.7" cy="136.6" r="2.7"/><circle cx="243.5" cy="135.9" r="2.7"/><circle cx="244.2" cy="131.4" r="2.7"/><circle cx="244.9" cy="127.9" r="2.7"/><circle cx="245.6" cy="122.9" r="2.7"/><circle cx="246.3" cy="117.4" r="2.7"/><circle cx="247.0" cy="112.2" r="2.7"/><circle cx="247.7" cy="108.7" r="2.7"/><circle cx="248.4" cy="104.2" r="2.7"/><circle cx="249.1" cy="101.1" r="2.7"/><circle cx="249.8" cy="97.3" r="2.7"/><circle cx="250.5" cy="94.4" r="2.7"/><circle cx="251.2" cy="91.3" r="2.7"/><circle cx="251.9" cy="87.1" r="2.7"/><circle cx="252.6" cy="83.6" r="2.7"/><circle cx="253.3" cy="80.0" r="2.7"/><circle cx="254.0" cy="76.1" r="2.7"/><circle cx="254.7" cy="71.4" r="2.7"/><circle cx="255.4" cy="67.5" r="2.7"/><circle cx="256.1" cy="63.1" r="2.7"/><circle cx="256.8" cy="58.3" r="2.7"/><circle cx="257.5" cy="54.2" r="2.7"/><circle cx="258.2" cy="49.7" r="2.7"/><circle cx="258.9" cy="47.1" r="2.7"/><circle cx="260.3" cy="42.8" r="2.7"/><circle cx="261.7" cy="40.5" r="2.7"/><circle cx="263.8" cy="38.6" r="2.7"/><circle cx="266.6" cy="37.5" r="2.7"/><circle cx="269.4" cy="37.2" r="2.7"/><circle cx="272.2" cy="35.2" r="2.7"/><circle cx="275.0" cy="34.2" r="2.7"/><circle cx="277.8" cy="33.8" r="2.7"/><circle cx="280.6" cy="32.0" r="2.7"/><circle cx="283.4" cy="32.1" r="2.7"/><circle cx="285.5" cy="33.7" r="2.7"/><circle cx="287.6" cy="35.2" r="2.7"/><circle cx="289.7" cy="37.4" r="2.7"/><circle cx="291.1" cy="40.0" r="2.7"/><circle cx="293.9" cy="40.8" r="2.7"/><circle cx="296.7" cy="40.3" r="2.7"/><circle cx="299.5" cy="41.0" r="2.7"/><circle cx="302.3" cy="41.4" r="2.7"/><circle cx="305.1" cy="40.8" r="2.7"/><circle cx="307.9" cy="42.0" r="2.7"/><circle cx="310.7" cy="42.8" r="2.7"/><circle cx="312.8" cy="44.5" r="2.7"/><circle cx="315.6" cy="48.0" r="2.7"/><circle cx="318.4" cy="45.8" r="2.7"/><circle cx="319.1" cy="42.6" r="2.7"/><circle cx="319.8" cy="39.0" r="2.7"/><circle cx="320.5" cy="36.2" r="2.7"/><circle cx="321.2" cy="32.0" r="2.7"/><circle cx="321.9" cy="29.4" r="2.7"/><circle cx="322.6" cy="26.4" r="2.7"/><circle cx="323.3" cy="23.5" r="2.7"/><circle cx="324.7" cy="20.3" r="2.7"/><circle cx="326.8" cy="17.8" r="2.7"/><circle cx="328.9" cy="15.2" r="2.7"/><circle cx="331.0" cy="13.7" r="2.7"/><circle cx="333.1" cy="12.1" r="2.7"/><circle cx="335.2" cy="9.6" r="2.7"/><circle cx="338.0" cy="8.4" r="2.7"/><circle cx="340.8" cy="7.1" r="2.7"/><circle cx="343.6" cy="6.6" r="2.7"/></g>
<path d="M131.5 250.0 133.6 250.0 135.7 227.8 137.8 227.1 139.9 250.0 142.0 250.0 144.1 229.5 146.2 228.0 148.3 232.6 150.4 250.0 152.5 228.0 154.6 220.8 156.7 233.7 158.8 225.7 160.9 250.0 163.0 233.1 165.1 229.9 167.2 227.9 169.3 219.2 171.4 215.7 173.5 204.3 174.2 201.8 174.9 199.0 175.6 199.2 176.3 199.3 177.0 194.7 177.7 191.9 178.4 189.4 179.1 188.4 179.8 189.6 180.5 191.2 181.2 192.3 181.9 192.6 182.6 193.0 183.3 195.5 184.0 198.8 184.7 198.5 185.4 201.1 186.1 200.9 186.8 202.4 187.5 203.5 188.9 205.9 190.3 204.7 191.7 206.3 193.1 205.2 193.8 202.5 194.5 205.9 195.9 209.7 196.6 250.0 197.3 211.4 198.7 206.7 200.8 219.9 202.9 221.6 205.0 224.7 207.1 215.2 208.5 206.3 209.2 203.1 209.9 199.7 210.6 197.3 211.3 194.7 212.0 192.1 212.7 189.6 213.4 186.3 214.1 183.6 214.8 181.4 215.5 177.6 216.2 174.2 216.9 170.0 217.6 165.4 218.3 161.7 219.0 157.4 219.7 153.5 220.4 149.9 221.1 146.1 221.8 143.0 222.5 139.8 223.2 137.1 223.9 133.6 224.6 130.9 225.3 128.8 226.0 124.7 226.7 123.4 227.4 121.3 228.1 119.6 228.8 118.1 229.5 117.9 230.2 116.9 230.9 116.1 231.6 115.6 232.3 116.6 233.0 117.3 233.7 117.0 234.4 118.2 235.1 119.7 235.8 121.6 236.5 123.0 237.2 125.7 237.9 127.0 238.6 129.0 239.3 131.0 240.0 132.8 240.7 135.5 241.4 137.5 242.1 139.2 242.8 140.6 243.5 141.9 244.2 141.7 244.9 140.2 245.6 137.9 246.3 135.2 247.0 133.2 247.7 129.9 248.4 124.9 249.1 118.9 249.8 114.4 250.5 109.2 251.2 105.8 251.9 102.7 252.6 98.5 253.3 95.1 254.0 91.1 254.7 87.9 255.4 84.3 256.1 81.1 256.8 75.9 257.5 72.7 258.2 67.4 258.9 62.8 259.6 58.9 260.3 54.2 261.0 51.6 261.7 49.4 262.4 46.0 263.1 45.1 263.8 44.4 264.5 44.4 265.2 44.0 265.9 44.3 266.6 42.9 267.3 43.5 268.0 42.7 268.7 42.8 269.4 42.4 270.1 42.5 270.8 41.8 271.5 42.4 272.2 42.1 272.9 41.1 273.6 41.3 274.3 41.3 275.0 40.6 275.7 40.4 276.4 40.3 277.1 40.4 277.8 40.2 278.5 39.5 279.2 39.7 279.9 38.4 280.6 39.5 281.3 38.2 282.0 38.5 282.7 37.6 283.4 37.5 284.1 37.8 284.8 37.9 285.5 37.4 286.2 38.1 286.9 38.5 287.6 38.8 288.3 39.3 289.0 39.8 289.7 40.6 290.4 41.6 291.1 42.2 291.8 43.2 292.5 43.9 293.2 45.4 293.9 45.4 294.6 46.3 295.3 45.9 296.0 45.9 296.7 46.3 297.4 46.3 298.1 46.4 298.8 46.5 299.5 46.5 300.2 46.9 300.9 46.1 301.6 46.0 302.3 45.9 303.0 46.6 303.7 46.1 304.4 46.2 305.1 46.6 305.8 46.1 306.5 45.6 307.2 46.2 307.9 46.5 308.6 47.0 309.3 47.0 310.0 46.7 310.7 46.9 311.4 47.1 312.1 47.1 312.8 47.7 313.5 47.0 314.2 46.9 314.9 46.6 315.6 46.5 316.3 47.1 317.0 47.8 317.7 47.6 318.4 48.6 319.1 49.7 319.8 51.0 320.5 51.7 321.2 51.5 321.9 50.2 322.6 47.6 323.3 44.1 324.0 40.2 324.7 37.5 325.4 33.5 326.1 30.3 326.8 28.2 327.5 24.9 328.2 24.2 328.9 22.5 329.6 21.8 330.3 20.0 331.0 20.0 331.7 19.1 332.4 18.4 333.1 16.9 333.8 16.6 334.5 15.5 335.2 16.1 335.9 15.0 336.6 14.5 337.3 14.3 338.0 13.3 338.7 12.8 339.4 12.0 340.1 11.8 340.8 10.2 341.5 10.9 342.2 10.1 342.9 9.2 343.6 9.6 344.3 9.8 345.0 8.7" fill="none" stroke="#2462D0" stroke-width="0.75"/>
<g fill="url(#ga7)"><circle cx="135.7" cy="227.8" r="2.7"/><circle cx="137.8" cy="227.1" r="2.7"/><circle cx="144.1" cy="229.5" r="2.7"/><circle cx="146.2" cy="228.0" r="2.7"/><circle cx="148.3" cy="232.6" r="2.7"/><circle cx="152.5" cy="228.0" r="2.7"/><circle cx="154.6" cy="220.8" r="2.7"/><circle cx="156.7" cy="233.7" r="2.7"/><circle cx="158.8" cy="225.7" r="2.7"/><circle cx="163.0" cy="233.1" r="2.7"/><circle cx="165.1" cy="229.9" r="2.7"/><circle cx="167.2" cy="227.9" r="2.7"/><circle cx="169.3" cy="219.2" r="2.7"/><circle cx="171.4" cy="215.7" r="2.7"/><circle cx="173.5" cy="204.3" r="2.7"/><circle cx="174.9" cy="199.0" r="2.7"/><circle cx="177.0" cy="194.7" r="2.7"/><circle cx="177.7" cy="191.9" r="2.7"/><circle cx="178.4" cy="189.4" r="2.7"/><circle cx="180.5" cy="191.2" r="2.7"/><circle cx="182.6" cy="193.0" r="2.7"/><circle cx="183.3" cy="195.5" r="2.7"/><circle cx="184.0" cy="198.8" r="2.7"/><circle cx="185.4" cy="201.1" r="2.7"/><circle cx="187.5" cy="203.5" r="2.7"/><circle cx="188.9" cy="205.9" r="2.7"/><circle cx="191.7" cy="206.3" r="2.7"/><circle cx="193.8" cy="202.5" r="2.7"/><circle cx="194.5" cy="205.9" r="2.7"/><circle cx="195.9" cy="209.7" r="2.7"/><circle cx="197.3" cy="211.4" r="2.7"/><circle cx="198.7" cy="206.7" r="2.7"/><circle cx="200.8" cy="219.9" r="2.7"/><circle cx="202.9" cy="221.6" r="2.7"/><circle cx="205.0" cy="224.7" r="2.7"/><circle cx="207.1" cy="215.2" r="2.7"/><circle cx="208.5" cy="206.3" r="2.7"/><circle cx="209.2" cy="203.1" r="2.7"/><circle cx="209.9" cy="199.7" r="2.7"/><circle cx="211.3" cy="194.7" r="2.7"/><circle cx="212.0" cy="192.1" r="2.7"/><circle cx="212.7" cy="189.6" r="2.7"/><circle cx="213.4" cy="186.3" r="2.7"/><circle cx="214.1" cy="183.6" r="2.7"/><circle cx="215.5" cy="177.6" r="2.7"/><circle cx="216.2" cy="174.2" r="2.7"/><circle cx="216.9" cy="170.0" r="2.7"/><circle cx="217.6" cy="165.4" r="2.7"/><circle cx="218.3" cy="161.7" r="2.7"/><circle cx="219.0" cy="157.4" r="2.7"/><circle cx="219.7" cy="153.5" r="2.7"/><circle cx="220.4" cy="149.9" r="2.7"/><circle cx="221.1" cy="146.1" r="2.7"/><circle cx="221.8" cy="143.0" r="2.7"/><circle cx="222.5" cy="139.8" r="2.7"/><circle cx="223.2" cy="137.1" r="2.7"/><circle cx="223.9" cy="133.6" r="2.7"/><circle cx="224.6" cy="130.9" r="2.7"/><circle cx="226.0" cy="124.7" r="2.7"/><circle cx="227.4" cy="121.3" r="2.7"/><circle cx="228.8" cy="118.1" r="2.7"/><circle cx="230.9" cy="116.1" r="2.7"/><circle cx="233.7" cy="117.0" r="2.7"/><circle cx="235.1" cy="119.7" r="2.7"/><circle cx="236.5" cy="123.0" r="2.7"/><circle cx="237.2" cy="125.7" r="2.7"/><circle cx="238.6" cy="129.0" r="2.7"/><circle cx="240.0" cy="132.8" r="2.7"/><circle cx="240.7" cy="135.5" r="2.7"/><circle cx="242.1" cy="139.2" r="2.7"/><circle cx="243.5" cy="141.9" r="2.7"/><circle cx="245.6" cy="137.9" r="2.7"/><circle cx="246.3" cy="135.2" r="2.7"/><circle cx="247.7" cy="129.9" r="2.7"/><circle cx="248.4" cy="124.9" r="2.7"/><circle cx="249.1" cy="118.9" r="2.7"/><circle cx="249.8" cy="114.4" r="2.7"/><circle cx="250.5" cy="109.2" r="2.7"/><circle cx="251.2" cy="105.8" r="2.7"/><circle cx="251.9" cy="102.7" r="2.7"/><circle cx="252.6" cy="98.5" r="2.7"/><circle cx="253.3" cy="95.1" r="2.7"/><circle cx="254.0" cy="91.1" r="2.7"/><circle cx="254.7" cy="87.9" r="2.7"/><circle cx="255.4" cy="84.3" r="2.7"/><circle cx="256.1" cy="81.1" r="2.7"/><circle cx="256.8" cy="75.9" r="2.7"/><circle cx="257.5" cy="72.7" r="2.7"/><circle cx="258.2" cy="67.4" r="2.7"/><circle cx="258.9" cy="62.8" r="2.7"/><circle cx="259.6" cy="58.9" r="2.7"/><circle cx="260.3" cy="54.2" r="2.7"/><circle cx="261.0" cy="51.6" r="2.7"/><circle cx="262.4" cy="46.0" r="2.7"/><circle cx="264.5" cy="44.4" r="2.7"/><circle cx="267.3" cy="43.5" r="2.7"/><circle cx="270.1" cy="42.5" r="2.7"/><circle cx="272.9" cy="41.1" r="2.7"/><circle cx="275.7" cy="40.4" r="2.7"/><circle cx="278.5" cy="39.5" r="2.7"/><circle cx="281.3" cy="38.2" r="2.7"/><circle cx="284.1" cy="37.8" r="2.7"/><circle cx="286.9" cy="38.5" r="2.7"/><circle cx="289.7" cy="40.6" r="2.7"/><circle cx="291.8" cy="43.2" r="2.7"/><circle cx="293.2" cy="45.4" r="2.7"/><circle cx="296.0" cy="45.9" r="2.7"/><circle cx="298.8" cy="46.5" r="2.7"/><circle cx="301.6" cy="46.0" r="2.7"/><circle cx="304.4" cy="46.2" r="2.7"/><circle cx="307.2" cy="46.2" r="2.7"/><circle cx="310.0" cy="46.7" r="2.7"/><circle cx="312.8" cy="47.7" r="2.7"/><circle cx="315.6" cy="46.5" r="2.7"/><circle cx="318.4" cy="48.6" r="2.7"/><circle cx="319.8" cy="51.0" r="2.7"/><circle cx="322.6" cy="47.6" r="2.7"/><circle cx="323.3" cy="44.1" r="2.7"/><circle cx="324.0" cy="40.2" r="2.7"/><circle cx="324.7" cy="37.5" r="2.7"/><circle cx="325.4" cy="33.5" r="2.7"/><circle cx="326.1" cy="30.3" r="2.7"/><circle cx="327.5" cy="24.9" r="2.7"/><circle cx="328.9" cy="22.5" r="2.7"/><circle cx="330.3" cy="20.0" r="2.7"/><circle cx="332.4" cy="18.4" r="2.7"/><circle cx="334.5" cy="15.5" r="2.7"/><circle cx="337.3" cy="14.3" r="2.7"/><circle cx="339.4" cy="12.0" r="2.7"/><circle cx="342.2" cy="10.1" r="2.7"/><circle cx="345.0" cy="8.7" r="2.7"/></g>
<path d="M131.5 250.0 133.6 223.2 135.7 250.0 137.8 250.0 139.9 230.2 142.0 250.0 144.1 232.4 146.2 250.0 148.3 250.0 150.4 232.8 152.5 233.5 154.6 228.7 156.7 233.8 158.8 230.0 160.9 227.9 163.0 221.2 165.1 231.6 167.2 250.0 169.3 250.0 172.1 210.3 173.5 203.1 174.2 199.6 174.9 194.7 175.6 188.4 176.3 187.3 177.0 186.4 177.7 186.0 178.4 185.7 179.1 185.6 179.8 185.0 180.5 187.8 181.2 190.3 181.9 189.9 182.6 191.0 183.3 189.7 184.0 194.2 184.7 197.5 185.4 197.4 186.1 198.2 186.8 197.2 187.5 198.8 188.2 202.7 188.9 205.4 190.3 206.2 191.7 209.0 193.1 211.3 194.5 210.2 195.9 212.0 196.6 208.9 198.7 250.0 200.8 250.0 202.9 221.4 205.0 250.0 205.7 209.2 207.1 202.1 207.8 198.8 208.5 196.4 209.2 193.7 209.9 190.6 210.6 187.9 211.3 185.5 212.0 182.7 212.7 180.6 213.4 177.5 214.1 172.7 214.8 168.5 215.5 165.1 216.2 160.6 216.9 156.4 217.6 152.5 218.3 149.2 219.0 145.6 219.7 142.3 220.4 139.2 221.1 134.8 221.8 132.7 222.5 130.0 223.2 127.5 223.9 125.0 224.6 122.7 225.3 120.9 226.0 120.2 226.7 118.5 227.4 118.6 228.1 117.4 228.8 116.5 229.5 116.4 230.2 115.7 230.9 115.3 231.6 116.1 232.3 116.0 233.0 116.5 233.7 117.3 234.4 118.5 235.1 120.1 235.8 121.5 236.5 123.3 237.2 125.5 237.9 127.4 238.6 129.5 239.3 130.8 240.0 133.0 240.7 135.0 241.4 137.3 242.1 139.1 242.8 139.5 243.5 139.0 244.2 136.4 244.9 133.1 245.6 128.9 246.3 123.7 247.0 118.1 247.7 112.9 248.4 109.2 249.1 105.4 249.8 101.3 250.5 97.4 251.2 94.4 251.9 91.4 252.6 87.0 253.3 83.8 254.0 80.7 254.7 76.1 255.4 71.4 256.1 67.1 256.8 61.9 257.5 58.1 258.2 53.9 258.9 49.8 259.6 46.6 260.3 43.9 261.0 42.2 261.7 40.7 262.4 39.8 263.1 39.5 263.8 38.4 264.5 38.6 265.2 39.2 265.9 38.7 266.6 38.2 267.3 37.4 268.0 37.5 268.7 38.2 269.4 37.2 270.1 37.0 270.8 37.3 271.5 37.3 272.2 36.8 272.9 36.8 273.6 35.8 274.3 36.3 275.0 35.5 275.7 35.5 276.4 34.4 277.1 34.8 277.8 34.2 278.5 34.0 279.2 33.1 279.9 32.5 280.6 32.6 281.3 32.7 282.0 32.3 282.7 32.2 283.4 32.3 284.1 33.2 284.8 32.9 285.5 32.8 286.2 34.1 286.9 34.2 287.6 35.0 288.3 34.9 289.0 36.1 289.7 37.3 290.4 38.5 291.1 39.2 291.8 40.1 292.5 40.1 293.2 40.1 293.9 40.0 294.6 41.2 295.3 41.0 296.0 41.7 296.7 41.5 297.4 40.6 298.1 41.1 298.8 41.1 299.5 41.2 300.2 40.4 300.9 40.7 301.6 40.7 302.3 41.4 303.0 41.0 303.7 40.7 304.4 40.8 305.1 41.2 305.8 40.9 306.5 41.2 307.2 41.7 307.9 42.4 308.6 42.4 309.3 42.6 310.0 42.5 310.7 42.9 311.4 42.8 312.1 43.9 312.8 44.2 313.5 44.4 314.2 45.9 314.9 45.7 315.6 47.6 316.3 48.5 317.0 49.4 317.7 48.4 318.4 47.2 319.1 45.3 319.8 41.4 320.5 39.1 321.2 34.9 321.9 31.9 322.6 28.8 323.3 26.3 324.0 23.5 324.7 21.4 325.4 20.2 326.1 19.5 326.8 18.2 327.5 17.3 328.2 16.6 328.9 16.4 329.6 14.8 330.3 14.2 331.0 14.3 331.7 13.4 332.4 12.7 333.1 13.0 333.8 12.1 334.5 11.5 335.2 10.8 335.9 11.3 336.6 10.1 337.3 10.3 338.0 9.4 338.7 8.5 339.4 8.8 340.1 7.9 340.8 7.7 341.5 6.6 342.2 6.4 342.9 6.8 343.6 6.6 344.3 7.3 345.0 7.1" fill="none" stroke="#DC3434" stroke-width="0.75"/>
<g fill="url(#ga8)"><circle cx="133.6" cy="223.2" r="2.7"/><circle cx="139.9" cy="230.2" r="2.7"/><circle cx="144.1" cy="232.4" r="2.7"/><circle cx="150.4" cy="232.8" r="2.7"/><circle cx="152.5" cy="233.5" r="2.7"/><circle cx="154.6" cy="228.7" r="2.7"/><circle cx="156.7" cy="233.8" r="2.7"/><circle cx="158.8" cy="230.0" r="2.7"/><circle cx="160.9" cy="227.9" r="2.7"/><circle cx="163.0" cy="221.2" r="2.7"/><circle cx="165.1" cy="231.6" r="2.7"/><circle cx="172.1" cy="210.3" r="2.7"/><circle cx="173.5" cy="203.1" r="2.7"/><circle cx="174.2" cy="199.6" r="2.7"/><circle cx="174.9" cy="194.7" r="2.7"/><circle cx="175.6" cy="188.4" r="2.7"/><circle cx="177.7" cy="186.0" r="2.7"/><circle cx="180.5" cy="187.8" r="2.7"/><circle cx="182.6" cy="191.0" r="2.7"/><circle cx="184.0" cy="194.2" r="2.7"/><circle cx="184.7" cy="197.5" r="2.7"/><circle cx="187.5" cy="198.8" r="2.7"/><circle cx="188.2" cy="202.7" r="2.7"/><circle cx="188.9" cy="205.4" r="2.7"/><circle cx="191.7" cy="209.0" r="2.7"/><circle cx="193.1" cy="211.3" r="2.7"/><circle cx="195.9" cy="212.0" r="2.7"/><circle cx="196.6" cy="208.9" r="2.7"/><circle cx="202.9" cy="221.4" r="2.7"/><circle cx="205.7" cy="209.2" r="2.7"/><circle cx="207.1" cy="202.1" r="2.7"/><circle cx="207.8" cy="198.8" r="2.7"/><circle cx="209.2" cy="193.7" r="2.7"/><circle cx="209.9" cy="190.6" r="2.7"/><circle cx="210.6" cy="187.9" r="2.7"/><circle cx="212.0" cy="182.7" r="2.7"/><circle cx="213.4" cy="177.5" r="2.7"/><circle cx="214.1" cy="172.7" r="2.7"/><circle cx="214.8" cy="168.5" r="2.7"/><circle cx="215.5" cy="165.1" r="2.7"/><circle cx="216.2" cy="160.6" r="2.7"/><circle cx="216.9" cy="156.4" r="2.7"/><circle cx="217.6" cy="152.5" r="2.7"/><circle cx="218.3" cy="149.2" r="2.7"/><circle cx="219.0" cy="145.6" r="2.7"/><circle cx="219.7" cy="142.3" r="2.7"/><circle cx="220.4" cy="139.2" r="2.7"/><circle cx="221.1" cy="134.8" r="2.7"/><circle cx="222.5" cy="130.0" r="2.7"/><circle cx="223.2" cy="127.5" r="2.7"/><circle cx="224.6" cy="122.7" r="2.7"/><circle cx="226.0" cy="120.2" r="2.7"/><circle cx="228.1" cy="117.4" r="2.7"/><circle cx="230.2" cy="115.7" r="2.7"/><circle cx="233.0" cy="116.5" r="2.7"/><circle cx="235.1" cy="120.1" r="2.7"/><circle cx="236.5" cy="123.3" r="2.7"/><circle cx="237.9" cy="127.4" r="2.7"/><circle cx="239.3" cy="130.8" r="2.7"/><circle cx="240.7" cy="135.0" r="2.7"/><circle cx="242.1" cy="139.1" r="2.7"/><circle cx="244.2" cy="136.4" r="2.7"/><circle cx="244.9" cy="133.1" r="2.7"/><circle cx="245.6" cy="128.9" r="2.7"/><circle cx="246.3" cy="123.7" r="2.7"/><circle cx="247.0" cy="118.1" r="2.7"/><circle cx="247.7" cy="112.9" r="2.7"/><circle cx="248.4" cy="109.2" r="2.7"/><circle cx="249.1" cy="105.4" r="2.7"/><circle cx="249.8" cy="101.3" r="2.7"/><circle cx="250.5" cy="97.4" r="2.7"/><circle cx="251.2" cy="94.4" r="2.7"/><circle cx="251.9" cy="91.4" r="2.7"/><circle cx="252.6" cy="87.0" r="2.7"/><circle cx="253.3" cy="83.8" r="2.7"/><circle cx="254.0" cy="80.7" r="2.7"/><circle cx="254.7" cy="76.1" r="2.7"/><circle cx="255.4" cy="71.4" r="2.7"/><circle cx="256.1" cy="67.1" r="2.7"/><circle cx="256.8" cy="61.9" r="2.7"/><circle cx="257.5" cy="58.1" r="2.7"/><circle cx="258.2" cy="53.9" r="2.7"/><circle cx="258.9" cy="49.8" r="2.7"/><circle cx="259.6" cy="46.6" r="2.7"/><circle cx="260.3" cy="43.9" r="2.7"/><circle cx="261.7" cy="40.7" r="2.7"/><circle cx="263.8" cy="38.4" r="2.7"/><circle cx="266.6" cy="38.2" r="2.7"/><circle cx="269.4" cy="37.2" r="2.7"/><circle cx="272.2" cy="36.8" r="2.7"/><circle cx="275.0" cy="35.5" r="2.7"/><circle cx="277.8" cy="34.2" r="2.7"/><circle cx="279.9" cy="32.5" r="2.7"/><circle cx="282.7" cy="32.2" r="2.7"/><circle cx="285.5" cy="32.8" r="2.7"/><circle cx="287.6" cy="35.0" r="2.7"/><circle cx="289.7" cy="37.3" r="2.7"/><circle cx="291.8" cy="40.1" r="2.7"/><circle cx="294.6" cy="41.2" r="2.7"/><circle cx="297.4" cy="40.6" r="2.7"/><circle cx="300.2" cy="40.4" r="2.7"/><circle cx="303.0" cy="41.0" r="2.7"/><circle cx="305.8" cy="40.9" r="2.7"/><circle cx="308.6" cy="42.4" r="2.7"/><circle cx="311.4" cy="42.8" r="2.7"/><circle cx="313.5" cy="44.4" r="2.7"/><circle cx="315.6" cy="47.6" r="2.7"/><circle cx="318.4" cy="47.2" r="2.7"/><circle cx="319.8" cy="41.4" r="2.7"/><circle cx="321.2" cy="34.9" r="2.7"/><circle cx="321.9" cy="31.9" r="2.7"/><circle cx="322.6" cy="28.8" r="2.7"/><circle cx="323.3" cy="26.3" r="2.7"/><circle cx="324.0" cy="23.5" r="2.7"/><circle cx="325.4" cy="20.2" r="2.7"/><circle cx="327.5" cy="17.3" r="2.7"/><circle cx="329.6" cy="14.8" r="2.7"/><circle cx="332.4" cy="12.7" r="2.7"/><circle cx="335.2" cy="10.8" r="2.7"/><circle cx="338.0" cy="9.4" r="2.7"/><circle cx="340.1" cy="7.9" r="2.7"/><circle cx="342.9" cy="6.8" r="2.7"/></g>
<path d="M131.5 250.0 133.6 250.0 135.7 233.0 137.8 231.7 139.9 250.0 142.0 250.0 144.1 250.0 146.2 250.0 148.3 250.0 150.4 234.0 152.5 232.9 154.6 231.6 156.7 230.2 158.8 233.1 160.9 250.0 163.0 250.0 165.1 250.0 167.2 250.0 169.3 250.0 170.7 212.6 172.1 209.1 173.5 200.8 174.2 197.8 174.9 195.0 175.6 192.4 176.3 188.5 177.0 187.1 177.7 185.4 178.4 184.1 179.1 183.7 179.8 182.9 180.5 184.8 181.2 185.5 181.9 187.0 182.6 187.6 183.3 189.2 184.0 190.2 184.7 191.7 185.4 193.0 186.1 194.3 186.8 195.9 187.5 196.6 188.2 197.1 188.9 198.8 189.6 199.9 190.3 201.6 191.0 202.6 191.7 202.9 193.1 206.8 194.5 210.6 195.9 211.0 197.3 218.4 198.7 250.0 200.8 250.0 202.9 250.0 205.0 205.5 207.1 206.6 207.8 203.5 208.5 200.1 209.2 197.2 209.9 194.3 210.6 191.9 211.3 189.1 212.0 186.5 212.7 183.2 213.4 181.1 214.1 178.0 214.8 173.6 215.5 169.5 216.2 166.1 216.9 161.4 217.6 157.1 218.3 153.4 219.0 149.3 219.7 146.0 220.4 142.6 221.1 139.2 221.8 136.6 222.5 133.4 223.2 130.8 223.9 128.1 224.6 125.2 225.3 123.7 226.0 123.1 226.7 121.8 227.4 121.1 228.1 120.7 228.8 120.4 229.5 120.1 230.2 119.5 230.9 118.5 231.6 119.0 232.3 118.7 233.0 118.6 233.7 119.0 234.4 120.1 235.1 121.5 235.8 122.9 236.5 124.5 237.2 126.0 237.9 127.3 238.6 128.9 239.3 130.9 240.0 132.7 240.7 134.3 241.4 136.4 242.1 139.1 242.8 139.7 243.5 140.8 244.2 138.9 244.9 136.1 245.6 132.0 246.3 127.6 247.0 122.4 247.7 116.5 248.4 111.0 249.1 107.1 249.8 104.2 250.5 100.3 251.2 96.0 251.9 93.7 252.6 90.0 253.3 86.1 254.0 82.9 254.7 78.4 255.4 74.2 256.1 69.8 256.8 66.2 257.5 60.9 258.2 57.2 258.9 53.3 259.6 50.0 260.3 47.3 261.0 45.1 261.7 43.6 262.4 43.0 263.1 43.5 263.8 42.7 264.5 43.0 265.2 41.7 265.9 42.2 266.6 42.1 267.3 41.9 268.0 42.0 268.7 41.5 269.4 40.5 270.1 41.2 270.8 41.6 271.5 40.6 272.2 40.6 272.9 40.9 273.6 40.4 274.3 39.7 275.0 39.8 275.7 39.4 276.4 39.4 277.1 39.0 277.8 39.2 278.5 39.4 279.2 38.3 279.9 37.5 280.6 37.3 281.3 37.5 282.0 37.1 282.7 36.6 283.4 37.5 284.1 37.6 284.8 37.1 285.5 37.2 286.2 38.5 286.9 38.3 287.6 38.7 288.3 39.7 289.0 40.4 289.7 41.3 290.4 42.3 291.1 43.2 291.8 44.0 292.5 44.3 293.2 44.0 293.9 44.4 294.6 45.1 295.3 45.5 296.0 45.1 296.7 44.8 297.4 44.8 298.1 45.4 298.8 45.3 299.5 45.4 300.2 44.6 300.9 44.5 301.6 44.9 302.3 45.0 303.0 45.3 303.7 44.7 304.4 45.1 305.1 45.0 305.8 44.8 306.5 45.2 307.2 46.0 307.9 45.4 308.6 45.3 309.3 45.6 310.0 46.5 310.7 45.8 311.4 46.9 312.1 47.2 312.8 47.6 313.5 48.1 314.2 48.2 314.9 47.7 315.6 48.1 316.3 49.4 317.0 50.2 317.7 49.7 318.4 48.1 319.1 46.3 319.8 43.7 320.5 40.6 321.2 36.9 321.9 33.8 322.6 30.2 323.3 27.4 324.0 24.2 324.7 21.9 325.4 21.2 326.1 20.3 326.8 19.3 327.5 17.4 328.2 17.1 328.9 16.3 329.6 15.9 330.3 15.1 331.0 14.7 331.7 14.0 332.4 13.4 333.1 13.0 333.8 12.9 334.5 11.7 335.2 11.6 335.9 11.2 336.6 11.0 337.3 10.4 338.0 9.7 338.7 8.6 339.4 9.0 340.1 8.5 340.8 7.3 341.5 7.6 342.2 7.0 342.9 6.8 343.6 6.2 344.3 7.6 345.0 6.6" fill="none" stroke="#303030" stroke-width="0.75"/>
<g fill="url(#ga9)"><circle cx="135.7" cy="233.0" r="2.7"/><circle cx="137.8" cy="231.7" r="2.7"/><circle cx="150.4" cy="234.0" r="2.7"/><circle cx="152.5" cy="232.9" r="2.7"/><circle cx="154.6" cy="231.6" r="2.7"/><circle cx="156.7" cy="230.2" r="2.7"/><circle cx="158.8" cy="233.1" r="2.7"/><circle cx="170.7" cy="212.6" r="2.7"/><circle cx="172.1" cy="209.1" r="2.7"/><circle cx="173.5" cy="200.8" r="2.7"/><circle cx="174.2" cy="197.8" r="2.7"/><circle cx="174.9" cy="195.0" r="2.7"/><circle cx="175.6" cy="192.4" r="2.7"/><circle cx="176.3" cy="188.5" r="2.7"/><circle cx="177.7" cy="185.4" r="2.7"/><circle cx="179.8" cy="182.9" r="2.7"/><circle cx="181.2" cy="185.5" r="2.7"/><circle cx="183.3" cy="189.2" r="2.7"/><circle cx="184.7" cy="191.7" r="2.7"/><circle cx="186.1" cy="194.3" r="2.7"/><circle cx="187.5" cy="196.6" r="2.7"/><circle cx="188.9" cy="198.8" r="2.7"/><circle cx="190.3" cy="201.6" r="2.7"/><circle cx="193.1" cy="206.8" r="2.7"/><circle cx="194.5" cy="210.6" r="2.7"/><circle cx="197.3" cy="218.4" r="2.7"/><circle cx="205.0" cy="205.5" r="2.7"/><circle cx="207.8" cy="203.5" r="2.7"/><circle cx="208.5" cy="200.1" r="2.7"/><circle cx="209.2" cy="197.2" r="2.7"/><circle cx="209.9" cy="194.3" r="2.7"/><circle cx="211.3" cy="189.1" r="2.7"/><circle cx="212.0" cy="186.5" r="2.7"/><circle cx="212.7" cy="183.2" r="2.7"/><circle cx="214.1" cy="178.0" r="2.7"/><circle cx="214.8" cy="173.6" r="2.7"/><circle cx="215.5" cy="169.5" r="2.7"/><circle cx="216.2" cy="166.1" r="2.7"/><circle cx="216.9" cy="161.4" r="2.7"/><circle cx="217.6" cy="157.1" r="2.7"/><circle cx="218.3" cy="153.4" r="2.7"/><circle cx="219.0" cy="149.3" r="2.7"/><circle cx="219.7" cy="146.0" r="2.7"/><circle cx="220.4" cy="142.6" r="2.7"/><circle cx="221.1" cy="139.2" r="2.7"/><circle cx="221.8" cy="136.6" r="2.7"/><circle cx="222.5" cy="133.4" r="2.7"/><circle cx="223.2" cy="130.8" r="2.7"/><circle cx="223.9" cy="128.1" r="2.7"/><circle cx="224.6" cy="125.2" r="2.7"/><circle cx="226.7" cy="121.8" r="2.7"/><circle cx="229.5" cy="120.1" r="2.7"/><circle cx="232.3" cy="118.7" r="2.7"/><circle cx="235.1" cy="121.5" r="2.7"/><circle cx="236.5" cy="124.5" r="2.7"/><circle cx="237.9" cy="127.3" r="2.7"/><circle cx="239.3" cy="130.9" r="2.7"/><circle cx="240.7" cy="134.3" r="2.7"/><circle cx="242.1" cy="139.1" r="2.7"/><circle cx="244.9" cy="136.1" r="2.7"/><circle cx="245.6" cy="132.0" r="2.7"/><circle cx="246.3" cy="127.6" r="2.7"/><circle cx="247.0" cy="122.4" r="2.7"/><circle cx="247.7" cy="116.5" r="2.7"/><circle cx="248.4" cy="111.0" r="2.7"/><circle cx="249.1" cy="107.1" r="2.7"/><circle cx="249.8" cy="104.2" r="2.7"/><circle cx="250.5" cy="100.3" r="2.7"/><circle cx="251.2" cy="96.0" r="2.7"/><circle cx="252.6" cy="90.0" r="2.7"/><circle cx="253.3" cy="86.1" r="2.7"/><circle cx="254.0" cy="82.9" r="2.7"/><circle cx="254.7" cy="78.4" r="2.7"/><circle cx="255.4" cy="74.2" r="2.7"/><circle cx="256.1" cy="69.8" r="2.7"/><circle cx="256.8" cy="66.2" r="2.7"/><circle cx="257.5" cy="60.9" r="2.7"/><circle cx="258.2" cy="57.2" r="2.7"/><circle cx="258.9" cy="53.3" r="2.7"/><circle cx="259.6" cy="50.0" r="2.7"/><circle cx="260.3" cy="47.3" r="2.7"/><circle cx="261.7" cy="43.6" r="2.7"/><circle cx="264.5" cy="43.0" r="2.7"/><circle cx="267.3" cy="41.9" r="2.7"/><circle cx="270.1" cy="41.2" r="2.7"/><circle cx="272.9" cy="40.9" r="2.7"/><circle cx="275.7" cy="39.4" r="2.7"/><circle cx="278.5" cy="39.4" r="2.7"/><circle cx="280.6" cy="37.3" r="2.7"/><circle cx="283.4" cy="37.5" r="2.7"/><circle cx="286.2" cy="38.5" r="2.7"/><circle cx="289.0" cy="40.4" r="2.7"/><circle cx="291.1" cy="43.2" r="2.7"/><circle cx="293.9" cy="44.4" r="2.7"/><circle cx="296.7" cy="44.8" r="2.7"/><circle cx="299.5" cy="45.4" r="2.7"/><circle cx="302.3" cy="45.0" r="2.7"/><circle cx="305.1" cy="45.0" r="2.7"/><circle cx="307.9" cy="45.4" r="2.7"/><circle cx="310.7" cy="45.8" r="2.7"/><circle cx="312.8" cy="47.6" r="2.7"/><circle cx="315.6" cy="48.1" r="2.7"/><circle cx="317.7" cy="49.7" r="2.7"/><circle cx="319.1" cy="46.3" r="2.7"/><circle cx="319.8" cy="43.7" r="2.7"/><circle cx="320.5" cy="40.6" r="2.7"/><circle cx="321.2" cy="36.9" r="2.7"/><circle cx="321.9" cy="33.8" r="2.7"/><circle cx="322.6" cy="30.2" r="2.7"/><circle cx="323.3" cy="27.4" r="2.7"/><circle cx="324.0" cy="24.2" r="2.7"/><circle cx="325.4" cy="21.2" r="2.7"/><circle cx="327.5" cy="17.4" r="2.7"/><circle cx="330.3" cy="15.1" r="2.7"/><circle cx="332.4" cy="13.4" r="2.7"/><circle cx="334.5" cy="11.7" r="2.7"/><circle cx="337.3" cy="10.4" r="2.7"/><circle cx="340.1" cy="8.5" r="2.7"/><circle cx="342.9" cy="6.8" r="2.7"/></g>
<path d="M131.5 229.4 133.6 232.1 135.7 250.0 137.8 227.9 139.9 250.0 142.0 250.0 144.1 250.0 146.2 232.4 148.3 250.0 150.4 250.0 152.5 250.0 154.6 250.0 156.7 250.0 158.8 228.7 160.9 250.0 163.0 250.0 165.1 233.3 167.2 250.0 169.3 250.0 170.7 213.8 172.1 208.6 173.5 201.2 174.2 198.2 174.9 195.1 175.6 191.7 176.3 188.4 177.0 186.4 177.7 185.9 178.4 184.3 179.1 183.1 179.8 183.4 180.5 184.6 181.2 186.1 181.9 187.2 182.6 188.1 183.3 189.4 184.0 190.3 184.7 192.0 185.4 193.0 186.1 194.3 186.8 194.9 187.5 196.6 188.2 197.4 188.9 198.9 189.6 199.3 190.3 201.2 191.0 202.3 191.7 203.4 193.1 206.7 194.5 207.5 195.9 213.4 197.3 211.3 198.7 250.0 200.8 250.0 202.9 224.5 205.0 220.8 207.1 207.2 207.8 203.7 208.5 200.2 209.2 197.5 209.9 194.5 210.6 191.5 211.3 189.2 212.0 186.1 212.7 183.8 213.4 181.3 214.1 178.3 214.8 173.7 215.5 170.2 216.2 166.4 216.9 161.6 217.6 157.4 218.3 153.6 219.0 149.9 219.7 146.1 220.4 143.0 221.1 138.6 221.8 135.8 222.5 133.1 223.2 130.7 223.9 127.5 224.6 125.2 225.3 123.3 226.0 122.2 226.7 120.3 227.4 119.7 228.1 119.1 228.8 117.8 229.5 117.5 230.2 116.8 230.9 116.7 231.6 115.8 232.3 115.9 233.0 117.0 233.7 117.8 234.4 117.8 235.1 119.5 235.8 120.6 236.5 122.6 237.2 123.9 237.9 126.3 238.6 128.2 239.3 131.0 240.0 132.5 240.7 134.9 241.4 137.2 242.1 138.0 242.8 140.6 243.5 140.6 244.2 139.3 244.9 135.9 245.6 131.9 246.3 127.4 247.0 122.3 247.7 116.2 248.4 111.7 249.1 107.7 249.8 103.3 250.5 99.8 251.2 96.9 251.9 92.8 252.6 90.2 253.3 85.9 254.0 83.0 254.7 78.7 255.4 74.4 256.1 70.2 256.8 66.3 257.5 60.6 258.2 56.4 258.9 52.9 259.6 49.1 260.3 45.7 261.0 43.6 261.7 41.4 262.4 40.8 263.1 40.0 263.8 39.6 264.5 39.2 265.2 38.7 265.9 38.5 266.6 38.4 267.3 38.1 268.0 37.4 268.7 37.7 269.4 38.3 270.1 37.6 270.8 37.3 271.5 36.8 272.2 36.2 272.9 36.4 273.6 35.9 274.3 36.1 275.0 35.1 275.7 35.5 276.4 35.0 277.1 35.0 277.8 34.4 278.5 34.4 279.2 33.0 279.9 33.2 280.6 33.1 281.3 33.1 282.0 32.4 282.7 32.3 283.4 32.4 284.1 32.9 284.8 32.9 285.5 32.8 286.2 33.3 286.9 33.6 287.6 34.5 288.3 35.2 289.0 36.3 289.7 36.8 290.4 37.4 291.1 38.7 291.8 39.2 292.5 39.8 293.2 40.2 293.9 40.6 294.6 40.6 295.3 41.0 296.0 41.3 296.7 41.4 297.4 41.6 298.1 40.8 298.8 40.7 299.5 40.8 300.2 41.1 300.9 40.8 301.6 41.0 302.3 40.6 303.0 41.0 303.7 41.6 304.4 40.8 305.1 41.1 305.8 41.4 306.5 41.8 307.2 41.6 307.9 42.4 308.6 42.8 309.3 43.2 310.0 43.1 310.7 43.3 311.4 43.2 312.1 43.8 312.8 44.3 313.5 43.8 314.2 45.1 314.9 45.7 315.6 46.8 316.3 48.8 317.0 49.3 317.7 49.6 318.4 48.6 319.1 46.2 319.8 43.9 320.5 39.9 321.2 36.7 321.9 33.5 322.6 29.9 323.3 27.8 324.0 24.8 324.7 22.7 325.4 21.0 326.1 19.0 326.8 19.2 327.5 18.0 328.2 17.9 328.9 16.7 329.6 15.2 330.3 14.4 331.0 14.4 331.7 13.9 332.4 13.5 333.1 13.6 333.8 13.2 334.5 12.4 335.2 11.8 335.9 11.1 336.6 10.8 337.3 9.4 338.0 9.8 338.7 9.0 339.4 9.1 340.1 7.4 340.8 8.0 341.5 7.4 342.2 6.9 342.9 7.5 343.6 6.6 344.3 6.5 345.0 6.7" fill="none" stroke="#303030" stroke-width="0.75"/>
<g fill="url(#ga9)"><circle cx="131.5" cy="229.4" r="2.7"/><circle cx="133.6" cy="232.1" r="2.7"/><circle cx="137.8" cy="227.9" r="2.7"/><circle cx="146.2" cy="232.4" r="2.7"/><circle cx="158.8" cy="228.7" r="2.7"/><circle cx="165.1" cy="233.3" r="2.7"/><circle cx="170.7" cy="213.8" r="2.7"/><circle cx="172.1" cy="208.6" r="2.7"/><circle cx="173.5" cy="201.2" r="2.7"/><circle cx="174.2" cy="198.2" r="2.7"/><circle cx="174.9" cy="195.1" r="2.7"/><circle cx="175.6" cy="191.7" r="2.7"/><circle cx="176.3" cy="188.4" r="2.7"/><circle cx="177.7" cy="185.9" r="2.7"/><circle cx="179.1" cy="183.1" r="2.7"/><circle cx="181.2" cy="186.1" r="2.7"/><circle cx="183.3" cy="189.4" r="2.7"/><circle cx="184.7" cy="192.0" r="2.7"/><circle cx="186.1" cy="194.3" r="2.7"/><circle cx="187.5" cy="196.6" r="2.7"/><circle cx="188.9" cy="198.9" r="2.7"/><circle cx="190.3" cy="201.2" r="2.7"/><circle cx="193.1" cy="206.7" r="2.7"/><circle cx="195.9" cy="213.4" r="2.7"/><circle cx="202.9" cy="224.5" r="2.7"/><circle cx="205.0" cy="220.8" r="2.7"/><circle cx="207.1" cy="207.2" r="2.7"/><circle cx="207.8" cy="203.7" r="2.7"/><circle cx="208.5" cy="200.2" r="2.7"/><circle cx="209.2" cy="197.5" r="2.7"/><circle cx="209.9" cy="194.5" r="2.7"/><circle cx="210.6" cy="191.5" r="2.7"/><circle cx="212.0" cy="186.1" r="2.7"/><circle cx="213.4" cy="181.3" r="2.7"/><circle cx="214.1" cy="178.3" r="2.7"/><circle cx="214.8" cy="173.7" r="2.7"/><circle cx="215.5" cy="170.2" r="2.7"/><circle cx="216.2" cy="166.4" r="2.7"/><circle cx="216.9" cy="161.6" r="2.7"/><circle cx="217.6" cy="157.4" r="2.7"/><circle cx="218.3" cy="153.6" r="2.7"/><circle cx="219.0" cy="149.9" r="2.7"/><circle cx="219.7" cy="146.1" r="2.7"/><circle cx="220.4" cy="143.0" r="2.7"/><circle cx="221.1" cy="138.6" r="2.7"/><circle cx="221.8" cy="135.8" r="2.7"/><circle cx="222.5" cy="133.1" r="2.7"/><circle cx="223.9" cy="127.5" r="2.7"/><circle cx="225.3" cy="123.3" r="2.7"/><circle cx="226.7" cy="120.3" r="2.7"/><circle cx="228.8" cy="117.8" r="2.7"/><circle cx="231.6" cy="115.8" r="2.7"/><circle cx="233.7" cy="117.8" r="2.7"/><circle cx="235.8" cy="120.6" r="2.7"/><circle cx="237.2" cy="123.9" r="2.7"/><circle cx="238.6" cy="128.2" r="2.7"/><circle cx="239.3" cy="131.0" r="2.7"/><circle cx="240.7" cy="134.9" r="2.7"/><circle cx="242.1" cy="138.0" r="2.7"/><circle cx="242.8" cy="140.6" r="2.7"/><circle cx="244.9" cy="135.9" r="2.7"/><circle cx="245.6" cy="131.9" r="2.7"/><circle cx="246.3" cy="127.4" r="2.7"/><circle cx="247.0" cy="122.3" r="2.7"/><circle cx="247.7" cy="116.2" r="2.7"/><circle cx="248.4" cy="111.7" r="2.7"/><circle cx="249.1" cy="107.7" r="2.7"/><circle cx="249.8" cy="103.3" r="2.7"/><circle cx="250.5" cy="99.8" r="2.7"/><circle cx="251.2" cy="96.9" r="2.7"/><circle cx="251.9" cy="92.8" r="2.7"/><circle cx="252.6" cy="90.2" r="2.7"/><circle cx="253.3" cy="85.9" r="2.7"/><circle cx="254.0" cy="83.0" r="2.7"/><circle cx="254.7" cy="78.7" r="2.7"/><circle cx="255.4" cy="74.4" r="2.7"/><circle cx="256.1" cy="70.2" r="2.7"/><circle cx="256.8" cy="66.3" r="2.7"/><circle cx="257.5" cy="60.6" r="2.7"/><circle cx="258.2" cy="56.4" r="2.7"/><circle cx="258.9" cy="52.9" r="2.7"/><circle cx="259.6" cy="49.1" r="2.7"/><circle cx="260.3" cy="45.7" r="2.7"/><circle cx="261.7" cy="41.4" r="2.7"/><circle cx="263.8" cy="39.6" r="2.7"/><circle cx="266.6" cy="38.4" r="2.7"/><circle cx="269.4" cy="38.3" r="2.7"/><circle cx="272.2" cy="36.2" r="2.7"/><circle cx="275.0" cy="35.1" r="2.7"/><circle cx="277.8" cy="34.4" r="2.7"/><circle cx="280.6" cy="33.1" r="2.7"/><circle cx="283.4" cy="32.4" r="2.7"/><circle cx="286.2" cy="33.3" r="2.7"/><circle cx="288.3" cy="35.2" r="2.7"/><circle cx="290.4" cy="37.4" r="2.7"/><circle cx="292.5" cy="39.8" r="2.7"/><circle cx="295.3" cy="41.0" r="2.7"/><circle cx="298.1" cy="40.8" r="2.7"/><circle cx="300.9" cy="40.8" r="2.7"/><circle cx="303.7" cy="41.6" r="2.7"/><circle cx="306.5" cy="41.8" r="2.7"/><circle cx="309.3" cy="43.2" r="2.7"/><circle cx="312.1" cy="43.8" r="2.7"/><circle cx="314.9" cy="45.7" r="2.7"/><circle cx="316.3" cy="48.8" r="2.7"/><circle cx="319.1" cy="46.2" r="2.7"/><circle cx="320.5" cy="39.9" r="2.7"/><circle cx="321.2" cy="36.7" r="2.7"/><circle cx="321.9" cy="33.5" r="2.7"/><circle cx="322.6" cy="29.9" r="2.7"/><circle cx="324.0" cy="24.8" r="2.7"/><circle cx="325.4" cy="21.0" r="2.7"/><circle cx="327.5" cy="18.0" r="2.7"/><circle cx="329.6" cy="15.2" r="2.7"/><circle cx="332.4" cy="13.5" r="2.7"/><circle cx="335.2" cy="11.8" r="2.7"/><circle cx="337.3" cy="9.4" r="2.7"/><circle cx="340.1" cy="7.4" r="2.7"/><circle cx="342.9" cy="7.5" r="2.7"/></g>
</g>
<g clip-path="url(#cb)">
<path d="M488.5 226.2 490.6 232.2 492.7 250.0 494.8 219.8 496.9 233.3 499.0 215.9 501.1 226.8 503.2 231.4 505.3 218.8 507.4 215.6 509.5 230.3 511.6 217.6 513.7 219.8 515.8 210.4 517.9 250.0 520.0 223.0 522.1 250.0 524.2 250.0 526.3 214.5 527.7 209.5 528.4 203.7 529.1 197.8 529.8 196.2 530.5 191.9 531.2 193.1 531.9 191.3 532.6 188.2 533.3 186.0 534.0 186.0 534.7 183.6 535.4 180.9 536.1 181.3 536.8 181.9 537.5 179.5 538.2 184.6 538.9 184.5 539.6 187.5 540.3 184.5 541.0 185.0 541.7 190.9 542.4 186.2 543.1 191.1 543.8 191.5 544.5 192.7 545.2 194.9 545.9 193.7 546.6 193.8 547.3 191.5 548.0 190.4 548.7 189.9 549.4 193.1 550.1 190.5 550.8 195.6 551.5 189.8 552.2 196.0 552.9 199.0 553.6 203.1 554.3 212.9 555.7 211.1 557.1 206.3 557.8 198.2 558.5 194.4 559.2 191.6 559.9 185.1 560.6 182.3 561.3 180.8 562.0 180.0 562.7 178.3 563.4 182.2 564.1 175.4 564.8 174.6 565.5 173.9 566.2 170.4 566.9 167.6 567.6 159.7 568.3 154.4 569.0 148.9 569.7 143.2 570.4 143.0 571.1 138.8 571.8 132.2 572.5 133.7 573.2 133.9 573.9 129.6 574.6 128.6 575.3 126.3 576.0 123.3 576.7 119.3 577.4 117.9 578.1 116.6 578.8 117.3 579.5 114.0 580.2 110.4 580.9 112.9 581.6 109.7 582.3 108.5 583.0 107.1 583.7 108.5 584.4 105.5 585.1 104.8 585.8 105.7 586.5 103.8 587.2 101.5 587.9 99.3 588.6 103.4 589.3 105.7 590.0 100.6 590.7 101.9 591.4 104.5 592.1 108.5 592.8 110.2 593.5 109.7 594.2 113.4 594.9 117.6 595.6 116.4 596.3 121.4 597.0 120.6 597.7 123.5 598.4 126.3 599.1 123.8 599.8 117.3 600.5 118.0 601.2 113.1 601.9 110.1 602.6 101.8 603.3 101.2 604.0 94.9 604.7 94.2 605.4 85.4 606.1 82.4 606.8 79.7 607.5 74.9 608.2 74.4 608.9 71.2 609.6 65.0 610.3 65.5 611.0 65.1 611.7 62.8 612.4 58.7 613.1 58.2 613.8 56.1 614.5 53.4 615.2 52.5 615.9 49.1 616.6 50.3 617.3 46.4 618.0 47.4 618.7 39.9 619.4 41.5 620.1 40.0 620.8 38.3 621.5 35.0 622.2 36.1 622.9 33.5 623.6 32.3 624.3 33.1 625.0 32.1 625.7 30.6 626.4 29.3 627.1 29.2 627.8 30.3 628.5 29.4 629.2 27.3 629.9 29.2 630.6 26.5 631.3 29.2 632.0 30.2 632.7 31.3 633.4 31.2 634.1 31.2 634.8 35.0 635.5 30.0 636.2 31.1 636.9 31.9 637.6 29.0 638.3 29.1 639.0 30.5 639.7 29.4 640.4 28.2 641.1 28.0 641.8 28.9 642.5 33.4 643.2 29.1 643.9 30.3 644.6 33.2 645.3 30.4 646.0 32.0 646.7 33.0 647.4 34.5 648.1 33.9 648.8 38.4 649.5 36.7 650.2 38.1 650.9 37.7 651.6 41.1 652.3 36.9 653.0 36.7 653.7 38.7 654.4 37.3 655.1 37.9 655.8 37.7 656.5 37.9 657.2 36.2 657.9 37.2 658.6 37.9 659.3 35.4 660.0 36.6 660.7 37.0 661.4 39.1 662.1 38.0 662.8 37.0 663.5 37.5 664.2 39.6 664.9 40.8 665.6 41.8 666.3 36.9 667.0 40.8 667.7 39.5 668.4 38.9 669.1 37.7 669.8 39.0 670.5 39.9 671.2 41.2 671.9 41.2 672.6 38.1 673.3 41.0 674.0 38.0 674.7 39.1 675.4 35.1 676.1 38.2 676.8 37.3 677.5 38.0 678.2 38.1 678.9 38.6 679.6 36.5 680.3 32.5 681.0 30.7 681.7 26.2 682.4 23.9 683.1 27.1 683.8 21.5 684.5 21.5 685.2 19.4 685.9 18.5 686.6 13.0 687.3 16.0 688.0 16.6 688.7 15.5 689.4 13.0 690.1 13.8 690.8 10.5 691.5 13.4 692.2 9.3 692.9 7.1 693.6 9.0 694.3 7.0 695.0 9.0 695.7 7.8 696.4 6.5 697.1 7.1 697.8 5.8 698.5 10.4 699.2 7.4 699.9 9.1 700.6 8.1 701.3 4.7" fill="none" stroke="#7E1A1A" stroke-width="0.75"/>
<g fill="url(#gb0)"><circle cx="488.5" cy="226.2" r="2.7"/><circle cx="490.6" cy="232.2" r="2.7"/><circle cx="494.8" cy="219.8" r="2.7"/><circle cx="496.9" cy="233.3" r="2.7"/><circle cx="499.0" cy="215.9" r="2.7"/><circle cx="501.1" cy="226.8" r="2.7"/><circle cx="503.2" cy="231.4" r="2.7"/><circle cx="505.3" cy="218.8" r="2.7"/><circle cx="507.4" cy="215.6" r="2.7"/><circle cx="509.5" cy="230.3" r="2.7"/><circle cx="511.6" cy="217.6" r="2.7"/><circle cx="513.7" cy="219.8" r="2.7"/><circle cx="515.8" cy="210.4" r="2.7"/><circle cx="520.0" cy="223.0" r="2.7"/><circle cx="526.3" cy="214.5" r="2.7"/><circle cx="527.7" cy="209.5" r="2.7"/><circle cx="528.4" cy="203.7" r="2.7"/><circle cx="529.1" cy="197.8" r="2.7"/><circle cx="530.5" cy="191.9" r="2.7"/><circle cx="532.6" cy="188.2" r="2.7"/><circle cx="534.7" cy="183.6" r="2.7"/><circle cx="535.4" cy="180.9" r="2.7"/><circle cx="538.2" cy="184.6" r="2.7"/><circle cx="539.6" cy="187.5" r="2.7"/><circle cx="540.3" cy="184.5" r="2.7"/><circle cx="541.7" cy="190.9" r="2.7"/><circle cx="542.4" cy="186.2" r="2.7"/><circle cx="543.1" cy="191.1" r="2.7"/><circle cx="545.2" cy="194.9" r="2.7"/><circle cx="547.3" cy="191.5" r="2.7"/><circle cx="549.4" cy="193.1" r="2.7"/><circle cx="550.1" cy="190.5" r="2.7"/><circle cx="550.8" cy="195.6" r="2.7"/><circle cx="551.5" cy="189.8" r="2.7"/><circle cx="552.2" cy="196.0" r="2.7"/><circle cx="552.9" cy="199.0" r="2.7"/><circle cx="553.6" cy="203.1" r="2.7"/><circle cx="554.3" cy="212.9" r="2.7"/><circle cx="557.1" cy="206.3" r="2.7"/><circle cx="557.8" cy="198.2" r="2.7"/><circle cx="558.5" cy="194.4" r="2.7"/><circle cx="559.2" cy="191.6" r="2.7"/><circle cx="559.9" cy="185.1" r="2.7"/><circle cx="560.6" cy="182.3" r="2.7"/><circle cx="562.0" cy="180.0" r="2.7"/><circle cx="563.4" cy="182.2" r="2.7"/><circle cx="564.1" cy="175.4" r="2.7"/><circle cx="566.2" cy="170.4" r="2.7"/><circle cx="566.9" cy="167.6" r="2.7"/><circle cx="567.6" cy="159.7" r="2.7"/><circle cx="568.3" cy="154.4" r="2.7"/><circle cx="569.0" cy="148.9" r="2.7"/><circle cx="569.7" cy="143.2" r="2.7"/><circle cx="571.1" cy="138.8" r="2.7"/><circle cx="571.8" cy="132.2" r="2.7"/><circle cx="573.9" cy="129.6" r="2.7"/><circle cx="575.3" cy="126.3" r="2.7"/><circle cx="576.0" cy="123.3" r="2.7"/><circle cx="576.7" cy="119.3" r="2.7"/><circle cx="578.1" cy="116.6" r="2.7"/><circle cx="579.5" cy="114.0" r="2.7"/><circle cx="580.2" cy="110.4" r="2.7"/><circle cx="580.9" cy="112.9" r="2.7"/><circle cx="581.6" cy="109.7" r="2.7"/><circle cx="583.0" cy="107.1" r="2.7"/><circle cx="585.1" cy="104.8" r="2.7"/><circle cx="587.2" cy="101.5" r="2.7"/><circle cx="589.3" cy="105.7" r="2.7"/><circle cx="590.0" cy="100.6" r="2.7"/><circle cx="591.4" cy="104.5" r="2.7"/><circle cx="592.1" cy="108.5" r="2.7"/><circle cx="594.2" cy="113.4" r="2.7"/><circle cx="594.9" cy="117.6" r="2.7"/><circle cx="596.3" cy="121.4" r="2.7"/><circle cx="598.4" cy="126.3" r="2.7"/><circle cx="599.8" cy="117.3" r="2.7"/><circle cx="601.2" cy="113.1" r="2.7"/><circle cx="601.9" cy="110.1" r="2.7"/><circle cx="602.6" cy="101.8" r="2.7"/><circle cx="604.0" cy="94.9" r="2.7"/><circle cx="605.4" cy="85.4" r="2.7"/><circle cx="606.1" cy="82.4" r="2.7"/><circle cx="606.8" cy="79.7" r="2.7"/><circle cx="607.5" cy="74.9" r="2.7"/><circle cx="608.9" cy="71.2" r="2.7"/><circle cx="609.6" cy="65.0" r="2.7"/><circle cx="611.7" cy="62.8" r="2.7"/><circle cx="612.4" cy="58.7" r="2.7"/><circle cx="613.8" cy="56.1" r="2.7"/><circle cx="614.5" cy="53.4" r="2.7"/><circle cx="615.9" cy="49.1" r="2.7"/><circle cx="617.3" cy="46.4" r="2.7"/><circle cx="618.7" cy="39.9" r="2.7"/><circle cx="620.8" cy="38.3" r="2.7"/><circle cx="621.5" cy="35.0" r="2.7"/><circle cx="623.6" cy="32.3" r="2.7"/><circle cx="625.7" cy="30.6" r="2.7"/><circle cx="628.5" cy="29.4" r="2.7"/><circle cx="630.6" cy="26.5" r="2.7"/><circle cx="631.3" cy="29.2" r="2.7"/><circle cx="633.4" cy="31.2" r="2.7"/><circle cx="634.8" cy="35.0" r="2.7"/><circle cx="635.5" cy="30.0" r="2.7"/><circle cx="638.3" cy="29.1" r="2.7"/><circle cx="641.1" cy="28.0" r="2.7"/><circle cx="642.5" cy="33.4" r="2.7"/><circle cx="643.2" cy="29.1" r="2.7"/><circle cx="644.6" cy="33.2" r="2.7"/><circle cx="645.3" cy="30.4" r="2.7"/><circle cx="646.7" cy="33.0" r="2.7"/><circle cx="648.8" cy="38.4" r="2.7"/><circle cx="651.6" cy="41.1" r="2.7"/><circle cx="652.3" cy="36.9" r="2.7"/><circle cx="655.1" cy="37.9" r="2.7"/><circle cx="657.2" cy="36.2" r="2.7"/><circle cx="660.0" cy="36.6" r="2.7"/><circle cx="661.4" cy="39.1" r="2.7"/><circle cx="663.5" cy="37.5" r="2.7"/><circle cx="664.9" cy="40.8" r="2.7"/><circle cx="666.3" cy="36.9" r="2.7"/><circle cx="667.0" cy="40.8" r="2.7"/><circle cx="669.1" cy="37.7" r="2.7"/><circle cx="670.5" cy="39.9" r="2.7"/><circle cx="672.6" cy="38.1" r="2.7"/><circle cx="673.3" cy="41.0" r="2.7"/><circle cx="674.0" cy="38.0" r="2.7"/><circle cx="675.4" cy="35.1" r="2.7"/><circle cx="676.1" cy="38.2" r="2.7"/><circle cx="678.9" cy="38.6" r="2.7"/><circle cx="680.3" cy="32.5" r="2.7"/><circle cx="681.7" cy="26.2" r="2.7"/><circle cx="683.8" cy="21.5" r="2.7"/><circle cx="685.9" cy="18.5" r="2.7"/><circle cx="686.6" cy="13.0" r="2.7"/><circle cx="687.3" cy="16.0" r="2.7"/><circle cx="689.4" cy="13.0" r="2.7"/><circle cx="690.8" cy="10.5" r="2.7"/><circle cx="691.5" cy="13.4" r="2.7"/><circle cx="692.2" cy="9.3" r="2.7"/><circle cx="694.3" cy="7.0" r="2.7"/><circle cx="697.1" cy="7.1" r="2.7"/><circle cx="698.5" cy="10.4" r="2.7"/><circle cx="699.2" cy="7.4" r="2.7"/><circle cx="701.3" cy="4.7" r="2.7"/></g>
<path d="M488.5 232.0 490.6 230.1 492.7 229.5 494.8 250.0 496.9 232.7 499.0 221.6 501.1 250.0 503.2 231.8 505.3 222.9 507.4 250.0 509.5 219.5 511.6 250.0 513.7 218.0 515.8 212.8 517.9 250.0 520.0 250.0 522.1 221.7 524.2 220.0 524.9 214.8 526.3 211.1 527.7 208.9 529.1 205.9 529.8 200.3 530.5 197.6 531.2 192.9 531.9 192.5 532.6 194.0 533.3 191.3 534.0 191.1 534.7 182.5 535.4 184.2 536.1 182.4 536.8 180.0 537.5 183.6 538.2 188.1 538.9 186.7 539.6 186.4 540.3 183.5 541.0 183.5 541.7 184.2 542.4 186.2 543.1 188.8 543.8 191.2 544.5 190.2 545.2 190.7 545.9 188.6 546.6 191.3 547.3 192.3 548.0 191.8 548.7 195.6 549.4 196.9 550.1 193.7 550.8 197.4 551.5 199.9 552.2 200.8 552.9 205.8 554.3 209.3 555.7 217.7 558.5 205.3 559.2 201.9 559.9 194.0 560.6 197.2 561.3 192.7 562.0 192.7 562.7 191.8 563.4 190.5 564.1 189.3 564.8 184.5 565.5 183.4 566.2 182.1 566.9 178.3 567.6 175.8 568.3 172.0 569.0 168.7 569.7 159.4 570.4 155.1 571.1 150.8 571.8 144.1 572.5 140.3 573.2 139.6 573.9 137.3 574.6 132.7 575.3 129.9 576.0 128.8 576.7 127.0 577.4 122.2 578.1 120.2 578.8 120.7 579.5 122.6 580.2 116.8 580.9 115.1 581.6 113.2 582.3 115.0 583.0 111.5 583.7 108.0 584.4 107.5 585.1 106.9 585.8 107.4 586.5 107.4 587.2 108.1 587.9 105.1 588.6 107.2 589.3 104.3 590.0 107.4 590.7 107.4 591.4 108.8 592.1 107.6 592.8 110.6 593.5 113.6 594.2 117.9 594.9 118.2 595.6 121.1 596.3 122.2 597.0 125.2 597.7 125.8 598.4 130.3 599.1 129.4 599.8 127.0 600.5 125.5 601.2 121.6 601.9 115.4 602.6 112.9 603.3 105.4 604.0 103.4 604.7 95.6 605.4 95.0 606.1 88.5 606.8 86.8 607.5 83.5 608.2 79.3 608.9 73.6 609.6 72.5 610.3 70.6 611.0 69.4 611.7 66.3 612.4 64.0 613.1 64.5 613.8 60.2 614.5 59.4 615.2 52.6 615.9 52.5 616.6 52.0 617.3 49.8 618.0 48.4 618.7 49.1 619.4 48.6 620.1 44.7 620.8 41.4 621.5 38.6 622.2 37.8 622.9 41.1 623.6 36.2 624.3 34.9 625.0 34.7 625.7 36.5 626.4 33.3 627.1 35.8 627.8 32.8 628.5 31.6 629.2 31.7 629.9 31.5 630.6 31.0 631.3 30.2 632.0 33.3 632.7 34.8 633.4 34.6 634.1 34.0 634.8 36.4 635.5 35.6 636.2 34.6 636.9 35.7 637.6 36.0 638.3 32.4 639.0 31.3 639.7 34.0 640.4 32.3 641.1 35.2 641.8 33.6 642.5 33.3 643.2 32.2 643.9 32.0 644.6 35.7 645.3 35.3 646.0 34.8 646.7 35.4 647.4 36.6 648.1 36.4 648.8 38.1 649.5 38.1 650.2 41.5 650.9 41.2 651.6 40.4 652.3 41.0 653.0 44.3 653.7 43.7 654.4 43.2 655.1 39.9 655.8 41.8 656.5 41.1 657.2 42.2 657.9 42.5 658.6 42.6 659.3 42.4 660.0 37.9 660.7 41.4 661.4 37.9 662.1 41.3 662.8 41.6 663.5 37.8 664.2 40.9 664.9 41.3 665.6 41.0 666.3 41.7 667.0 41.1 667.7 36.9 668.4 40.2 669.1 40.4 669.8 42.0 670.5 44.4 671.2 44.2 671.9 43.0 672.6 42.7 673.3 43.0 674.0 38.3 674.7 40.4 675.4 43.4 676.1 43.5 676.8 43.6 677.5 42.7 678.2 43.6 678.9 41.9 679.6 41.6 680.3 37.4 681.0 34.7 681.7 32.7 682.4 29.1 683.1 30.8 683.8 26.5 684.5 23.4 685.2 23.8 685.9 21.6 686.6 16.9 687.3 17.9 688.0 17.4 688.7 16.9 689.4 16.3 690.1 12.8 690.8 12.9 691.5 12.7 692.2 14.7 692.9 13.8 693.6 13.2 694.3 13.4 695.0 8.2 695.7 6.6 696.4 8.9 697.1 7.7 697.8 9.7 698.5 10.6 699.2 8.9 699.9 7.7 700.6 7.7 701.3 10.1" fill="none" stroke="#E02020" stroke-width="0.75"/>
<g fill="url(#gb1)"><circle cx="488.5" cy="232.0" r="2.7"/><circle cx="490.6" cy="230.1" r="2.7"/><circle cx="492.7" cy="229.5" r="2.7"/><circle cx="496.9" cy="232.7" r="2.7"/><circle cx="499.0" cy="221.6" r="2.7"/><circle cx="503.2" cy="231.8" r="2.7"/><circle cx="505.3" cy="222.9" r="2.7"/><circle cx="509.5" cy="219.5" r="2.7"/><circle cx="513.7" cy="218.0" r="2.7"/><circle cx="515.8" cy="212.8" r="2.7"/><circle cx="522.1" cy="221.7" r="2.7"/><circle cx="524.2" cy="220.0" r="2.7"/><circle cx="524.9" cy="214.8" r="2.7"/><circle cx="526.3" cy="211.1" r="2.7"/><circle cx="529.1" cy="205.9" r="2.7"/><circle cx="529.8" cy="200.3" r="2.7"/><circle cx="530.5" cy="197.6" r="2.7"/><circle cx="531.2" cy="192.9" r="2.7"/><circle cx="533.3" cy="191.3" r="2.7"/><circle cx="534.7" cy="182.5" r="2.7"/><circle cx="536.8" cy="180.0" r="2.7"/><circle cx="537.5" cy="183.6" r="2.7"/><circle cx="538.2" cy="188.1" r="2.7"/><circle cx="540.3" cy="183.5" r="2.7"/><circle cx="542.4" cy="186.2" r="2.7"/><circle cx="543.1" cy="188.8" r="2.7"/><circle cx="545.2" cy="190.7" r="2.7"/><circle cx="547.3" cy="192.3" r="2.7"/><circle cx="548.7" cy="195.6" r="2.7"/><circle cx="550.8" cy="197.4" r="2.7"/><circle cx="552.2" cy="200.8" r="2.7"/><circle cx="552.9" cy="205.8" r="2.7"/><circle cx="554.3" cy="209.3" r="2.7"/><circle cx="555.7" cy="217.7" r="2.7"/><circle cx="558.5" cy="205.3" r="2.7"/><circle cx="559.2" cy="201.9" r="2.7"/><circle cx="559.9" cy="194.0" r="2.7"/><circle cx="560.6" cy="197.2" r="2.7"/><circle cx="561.3" cy="192.7" r="2.7"/><circle cx="563.4" cy="190.5" r="2.7"/><circle cx="564.8" cy="184.5" r="2.7"/><circle cx="566.2" cy="182.1" r="2.7"/><circle cx="566.9" cy="178.3" r="2.7"/><circle cx="568.3" cy="172.0" r="2.7"/><circle cx="569.0" cy="168.7" r="2.7"/><circle cx="569.7" cy="159.4" r="2.7"/><circle cx="570.4" cy="155.1" r="2.7"/><circle cx="571.1" cy="150.8" r="2.7"/><circle cx="571.8" cy="144.1" r="2.7"/><circle cx="572.5" cy="140.3" r="2.7"/><circle cx="573.9" cy="137.3" r="2.7"/><circle cx="574.6" cy="132.7" r="2.7"/><circle cx="575.3" cy="129.9" r="2.7"/><circle cx="576.7" cy="127.0" r="2.7"/><circle cx="577.4" cy="122.2" r="2.7"/><circle cx="580.2" cy="116.8" r="2.7"/><circle cx="581.6" cy="113.2" r="2.7"/><circle cx="583.7" cy="108.0" r="2.7"/><circle cx="586.5" cy="107.4" r="2.7"/><circle cx="587.9" cy="105.1" r="2.7"/><circle cx="590.0" cy="107.4" r="2.7"/><circle cx="592.8" cy="110.6" r="2.7"/><circle cx="593.5" cy="113.6" r="2.7"/><circle cx="594.2" cy="117.9" r="2.7"/><circle cx="595.6" cy="121.1" r="2.7"/><circle cx="597.0" cy="125.2" r="2.7"/><circle cx="598.4" cy="130.3" r="2.7"/><circle cx="599.8" cy="127.0" r="2.7"/><circle cx="601.2" cy="121.6" r="2.7"/><circle cx="601.9" cy="115.4" r="2.7"/><circle cx="602.6" cy="112.9" r="2.7"/><circle cx="603.3" cy="105.4" r="2.7"/><circle cx="604.7" cy="95.6" r="2.7"/><circle cx="606.1" cy="88.5" r="2.7"/><circle cx="607.5" cy="83.5" r="2.7"/><circle cx="608.2" cy="79.3" r="2.7"/><circle cx="608.9" cy="73.6" r="2.7"/><circle cx="610.3" cy="70.6" r="2.7"/><circle cx="611.7" cy="66.3" r="2.7"/><circle cx="613.8" cy="60.2" r="2.7"/><circle cx="615.2" cy="52.6" r="2.7"/><circle cx="617.3" cy="49.8" r="2.7"/><circle cx="620.1" cy="44.7" r="2.7"/><circle cx="620.8" cy="41.4" r="2.7"/><circle cx="621.5" cy="38.6" r="2.7"/><circle cx="622.9" cy="41.1" r="2.7"/><circle cx="623.6" cy="36.2" r="2.7"/><circle cx="626.4" cy="33.3" r="2.7"/><circle cx="627.1" cy="35.8" r="2.7"/><circle cx="627.8" cy="32.8" r="2.7"/><circle cx="630.6" cy="31.0" r="2.7"/><circle cx="632.0" cy="33.3" r="2.7"/><circle cx="634.8" cy="36.4" r="2.7"/><circle cx="637.6" cy="36.0" r="2.7"/><circle cx="638.3" cy="32.4" r="2.7"/><circle cx="641.1" cy="35.2" r="2.7"/><circle cx="643.2" cy="32.2" r="2.7"/><circle cx="644.6" cy="35.7" r="2.7"/><circle cx="647.4" cy="36.6" r="2.7"/><circle cx="650.2" cy="41.5" r="2.7"/><circle cx="653.0" cy="44.3" r="2.7"/><circle cx="655.1" cy="39.9" r="2.7"/><circle cx="657.2" cy="42.2" r="2.7"/><circle cx="660.0" cy="37.9" r="2.7"/><circle cx="660.7" cy="41.4" r="2.7"/><circle cx="661.4" cy="37.9" r="2.7"/><circle cx="662.1" cy="41.3" r="2.7"/><circle cx="663.5" cy="37.8" r="2.7"/><circle cx="664.2" cy="40.9" r="2.7"/><circle cx="667.0" cy="41.1" r="2.7"/><circle cx="667.7" cy="36.9" r="2.7"/><circle cx="668.4" cy="40.2" r="2.7"/><circle cx="670.5" cy="44.4" r="2.7"/><circle cx="672.6" cy="42.7" r="2.7"/><circle cx="674.0" cy="38.3" r="2.7"/><circle cx="675.4" cy="43.4" r="2.7"/><circle cx="678.2" cy="43.6" r="2.7"/><circle cx="680.3" cy="37.4" r="2.7"/><circle cx="681.0" cy="34.7" r="2.7"/><circle cx="682.4" cy="29.1" r="2.7"/><circle cx="683.8" cy="26.5" r="2.7"/><circle cx="684.5" cy="23.4" r="2.7"/><circle cx="686.6" cy="16.9" r="2.7"/><circle cx="689.4" cy="16.3" r="2.7"/><circle cx="690.1" cy="12.8" r="2.7"/><circle cx="692.2" cy="14.7" r="2.7"/><circle cx="695.0" cy="8.2" r="2.7"/><circle cx="697.8" cy="9.7" r="2.7"/><circle cx="699.9" cy="7.7" r="2.7"/><circle cx="701.3" cy="10.1" r="2.7"/></g>
<path d="M488.5 250.0 490.6 233.3 492.7 250.0 494.8 233.2 496.9 233.6 499.0 231.0 501.1 230.2 503.2 233.6 505.3 232.0 507.4 250.0 509.5 230.0 511.6 250.0 513.7 225.1 515.8 225.1 517.9 223.9 520.0 222.7 522.1 219.2 524.2 221.4 526.3 250.0 527.7 213.6 529.1 205.8 529.8 203.3 530.5 200.9 531.2 202.1 531.9 201.6 532.6 199.6 533.3 195.1 534.0 191.4 534.7 190.2 535.4 184.7 536.1 182.5 536.8 181.3 537.5 181.9 538.2 180.7 538.9 183.7 539.6 185.9 540.3 185.7 541.0 186.6 541.7 185.5 542.4 187.5 543.1 190.0 543.8 190.1 544.5 190.4 545.2 194.7 545.9 192.7 546.6 196.2 547.3 196.9 548.0 195.7 548.7 195.2 549.4 195.2 550.1 195.7 550.8 196.1 551.5 197.5 552.2 199.1 552.9 200.1 554.3 204.3 555.7 209.1 557.8 219.2 559.9 250.0 562.0 211.5 562.7 211.0 564.1 208.1 565.5 202.6 566.2 199.5 566.9 194.0 567.6 194.5 568.3 190.0 569.0 185.9 569.7 184.0 570.4 178.1 571.1 175.1 571.8 170.4 572.5 162.9 573.2 155.7 573.9 149.1 574.6 143.8 575.3 141.2 576.0 136.5 576.7 135.4 577.4 132.2 578.1 128.8 578.8 124.9 579.5 125.2 580.2 123.6 580.9 120.8 581.6 120.1 582.3 119.4 583.0 118.6 583.7 116.6 584.4 115.0 585.1 114.1 585.8 112.8 586.5 114.3 587.2 113.7 587.9 110.1 588.6 111.0 589.3 112.2 590.0 112.0 590.7 112.8 591.4 112.7 592.1 112.7 592.8 113.5 593.5 115.9 594.2 117.0 594.9 117.4 595.6 120.7 596.3 121.0 597.0 125.0 597.7 126.6 598.4 128.1 599.1 130.7 599.8 131.1 600.5 132.8 601.2 130.7 601.9 127.4 602.6 123.2 603.3 119.2 604.0 114.6 604.7 108.8 605.4 104.4 606.1 101.8 606.8 96.1 607.5 92.9 608.2 90.0 608.9 85.5 609.6 83.9 610.3 78.2 611.0 75.8 611.7 72.4 612.4 72.6 613.1 69.6 613.8 68.3 614.5 66.0 615.2 65.4 615.9 61.7 616.6 58.9 617.3 57.1 618.0 56.4 618.7 52.7 619.4 52.2 620.1 49.7 620.8 48.4 621.5 48.2 622.2 44.6 622.9 43.1 623.6 42.7 624.3 39.6 625.0 39.9 625.7 37.9 626.4 38.1 627.1 36.9 627.8 37.6 628.5 36.4 629.2 36.6 629.9 37.2 630.6 35.9 631.3 36.9 632.0 36.5 632.7 37.1 633.4 36.6 634.1 38.2 634.8 39.0 635.5 40.1 636.2 40.6 636.9 40.3 637.6 39.5 638.3 38.0 639.0 37.4 639.7 37.6 640.4 35.8 641.1 36.2 641.8 36.5 642.5 37.1 643.2 37.5 643.9 36.5 644.6 38.4 645.3 36.8 646.0 38.3 646.7 40.3 647.4 40.1 648.1 41.5 648.8 43.9 649.5 42.4 650.2 43.2 650.9 42.5 651.6 45.3 652.3 46.9 653.0 46.7 653.7 47.1 654.4 49.7 655.1 47.5 655.8 47.5 656.5 47.2 657.2 46.0 657.9 46.9 658.6 46.9 659.3 46.3 660.0 45.6 660.7 43.6 661.4 43.0 662.1 44.9 662.8 41.2 663.5 41.0 664.2 42.3 664.9 41.6 665.6 41.8 666.3 41.5 667.0 41.7 667.7 42.5 668.4 43.3 669.1 42.9 669.8 43.8 670.5 43.4 671.2 42.2 671.9 44.2 672.6 43.8 673.3 45.4 674.0 45.7 674.7 44.7 675.4 45.3 676.1 46.3 676.8 47.1 677.5 45.5 678.2 46.6 678.9 44.9 679.6 45.4 680.3 41.7 681.0 41.8 681.7 39.6 682.4 35.1 683.1 31.3 683.8 29.8 684.5 28.1 685.2 26.4 685.9 24.7 686.6 22.5 687.3 19.8 688.0 18.8 688.7 19.0 689.4 18.4 690.1 16.9 690.8 17.6 691.5 14.8 692.2 14.6 692.9 14.1 693.6 13.1 694.3 11.5 695.0 10.8 695.7 11.3 696.4 10.9 697.1 11.4 697.8 9.4 698.5 7.1 699.2 8.2 699.9 8.0 700.6 8.6 701.3 9.7" fill="none" stroke="#F08030" stroke-width="0.75"/>
<g fill="url(#gb2)"><circle cx="490.6" cy="233.3" r="2.7"/><circle cx="494.8" cy="233.2" r="2.7"/><circle cx="496.9" cy="233.6" r="2.7"/><circle cx="499.0" cy="231.0" r="2.7"/><circle cx="501.1" cy="230.2" r="2.7"/><circle cx="503.2" cy="233.6" r="2.7"/><circle cx="505.3" cy="232.0" r="2.7"/><circle cx="509.5" cy="230.0" r="2.7"/><circle cx="513.7" cy="225.1" r="2.7"/><circle cx="515.8" cy="225.1" r="2.7"/><circle cx="517.9" cy="223.9" r="2.7"/><circle cx="520.0" cy="222.7" r="2.7"/><circle cx="522.1" cy="219.2" r="2.7"/><circle cx="524.2" cy="221.4" r="2.7"/><circle cx="527.7" cy="213.6" r="2.7"/><circle cx="529.1" cy="205.8" r="2.7"/><circle cx="530.5" cy="200.9" r="2.7"/><circle cx="533.3" cy="195.1" r="2.7"/><circle cx="534.0" cy="191.4" r="2.7"/><circle cx="535.4" cy="184.7" r="2.7"/><circle cx="536.8" cy="181.3" r="2.7"/><circle cx="538.9" cy="183.7" r="2.7"/><circle cx="541.0" cy="186.6" r="2.7"/><circle cx="543.1" cy="190.0" r="2.7"/><circle cx="545.2" cy="194.7" r="2.7"/><circle cx="547.3" cy="196.9" r="2.7"/><circle cx="549.4" cy="195.2" r="2.7"/><circle cx="551.5" cy="197.5" r="2.7"/><circle cx="552.9" cy="200.1" r="2.7"/><circle cx="554.3" cy="204.3" r="2.7"/><circle cx="555.7" cy="209.1" r="2.7"/><circle cx="557.8" cy="219.2" r="2.7"/><circle cx="562.0" cy="211.5" r="2.7"/><circle cx="564.1" cy="208.1" r="2.7"/><circle cx="565.5" cy="202.6" r="2.7"/><circle cx="566.2" cy="199.5" r="2.7"/><circle cx="566.9" cy="194.0" r="2.7"/><circle cx="568.3" cy="190.0" r="2.7"/><circle cx="569.0" cy="185.9" r="2.7"/><circle cx="570.4" cy="178.1" r="2.7"/><circle cx="571.1" cy="175.1" r="2.7"/><circle cx="571.8" cy="170.4" r="2.7"/><circle cx="572.5" cy="162.9" r="2.7"/><circle cx="573.2" cy="155.7" r="2.7"/><circle cx="573.9" cy="149.1" r="2.7"/><circle cx="574.6" cy="143.8" r="2.7"/><circle cx="575.3" cy="141.2" r="2.7"/><circle cx="576.0" cy="136.5" r="2.7"/><circle cx="577.4" cy="132.2" r="2.7"/><circle cx="578.1" cy="128.8" r="2.7"/><circle cx="578.8" cy="124.9" r="2.7"/><circle cx="580.9" cy="120.8" r="2.7"/><circle cx="583.0" cy="118.6" r="2.7"/><circle cx="584.4" cy="115.0" r="2.7"/><circle cx="587.2" cy="113.7" r="2.7"/><circle cx="587.9" cy="110.1" r="2.7"/><circle cx="590.0" cy="112.0" r="2.7"/><circle cx="592.8" cy="113.5" r="2.7"/><circle cx="594.2" cy="117.0" r="2.7"/><circle cx="595.6" cy="120.7" r="2.7"/><circle cx="597.0" cy="125.0" r="2.7"/><circle cx="598.4" cy="128.1" r="2.7"/><circle cx="599.1" cy="130.7" r="2.7"/><circle cx="601.9" cy="127.4" r="2.7"/><circle cx="602.6" cy="123.2" r="2.7"/><circle cx="603.3" cy="119.2" r="2.7"/><circle cx="604.0" cy="114.6" r="2.7"/><circle cx="604.7" cy="108.8" r="2.7"/><circle cx="605.4" cy="104.4" r="2.7"/><circle cx="606.1" cy="101.8" r="2.7"/><circle cx="606.8" cy="96.1" r="2.7"/><circle cx="607.5" cy="92.9" r="2.7"/><circle cx="608.2" cy="90.0" r="2.7"/><circle cx="608.9" cy="85.5" r="2.7"/><circle cx="610.3" cy="78.2" r="2.7"/><circle cx="611.7" cy="72.4" r="2.7"/><circle cx="613.1" cy="69.6" r="2.7"/><circle cx="614.5" cy="66.0" r="2.7"/><circle cx="615.9" cy="61.7" r="2.7"/><circle cx="616.6" cy="58.9" r="2.7"/><circle cx="618.0" cy="56.4" r="2.7"/><circle cx="618.7" cy="52.7" r="2.7"/><circle cx="620.1" cy="49.7" r="2.7"/><circle cx="622.2" cy="44.6" r="2.7"/><circle cx="624.3" cy="39.6" r="2.7"/><circle cx="627.1" cy="36.9" r="2.7"/><circle cx="629.9" cy="37.2" r="2.7"/><circle cx="632.7" cy="37.1" r="2.7"/><circle cx="634.8" cy="39.0" r="2.7"/><circle cx="637.6" cy="39.5" r="2.7"/><circle cx="639.7" cy="37.6" r="2.7"/><circle cx="642.5" cy="37.1" r="2.7"/><circle cx="645.3" cy="36.8" r="2.7"/><circle cx="646.7" cy="40.3" r="2.7"/><circle cx="648.8" cy="43.9" r="2.7"/><circle cx="651.6" cy="45.3" r="2.7"/><circle cx="653.7" cy="47.1" r="2.7"/><circle cx="654.4" cy="49.7" r="2.7"/><circle cx="656.5" cy="47.2" r="2.7"/><circle cx="659.3" cy="46.3" r="2.7"/><circle cx="660.7" cy="43.6" r="2.7"/><circle cx="662.8" cy="41.2" r="2.7"/><circle cx="665.6" cy="41.8" r="2.7"/><circle cx="668.4" cy="43.3" r="2.7"/><circle cx="671.2" cy="42.2" r="2.7"/><circle cx="673.3" cy="45.4" r="2.7"/><circle cx="676.1" cy="46.3" r="2.7"/><circle cx="678.9" cy="44.9" r="2.7"/><circle cx="680.3" cy="41.7" r="2.7"/><circle cx="682.4" cy="35.1" r="2.7"/><circle cx="683.1" cy="31.3" r="2.7"/><circle cx="684.5" cy="28.1" r="2.7"/><circle cx="685.9" cy="24.7" r="2.7"/><circle cx="687.3" cy="19.8" r="2.7"/><circle cx="690.1" cy="16.9" r="2.7"/><circle cx="692.2" cy="14.6" r="2.7"/><circle cx="694.3" cy="11.5" r="2.7"/><circle cx="697.1" cy="11.4" r="2.7"/><circle cx="698.5" cy="7.1" r="2.7"/><circle cx="701.3" cy="9.7" r="2.7"/></g>
<path d="M488.5 250.0 490.6 250.0 492.7 232.2 494.8 227.5 496.9 250.0 499.0 230.4 501.1 233.2 503.2 231.9 505.3 231.2 507.4 228.9 509.5 250.0 511.6 231.4 513.7 230.6 515.8 223.0 517.9 226.2 520.0 226.3 522.1 219.7 524.2 250.0 526.3 215.5 528.4 214.1 529.1 210.0 530.5 200.5 531.2 197.4 531.9 198.1 532.6 198.2 533.3 197.3 534.0 193.8 534.7 191.1 535.4 190.5 536.1 189.1 536.8 188.3 537.5 187.9 538.2 185.2 538.9 184.7 539.6 185.3 540.3 184.2 541.0 184.9 541.7 185.1 542.4 186.9 543.1 187.6 543.8 191.3 544.5 190.3 545.2 191.0 545.9 193.2 546.6 193.0 547.3 194.4 548.0 195.7 548.7 195.9 549.4 197.0 550.1 198.2 550.8 200.0 551.5 199.6 552.2 200.9 552.9 202.9 554.3 206.5 555.7 216.0 557.8 218.8 559.9 223.9 562.0 215.0 564.1 215.0 565.5 207.5 566.9 199.7 567.6 196.3 568.3 193.4 569.0 189.9 569.7 186.7 570.4 182.9 571.1 178.9 571.8 173.9 572.5 167.6 573.2 160.9 573.9 153.2 574.6 147.4 575.3 143.4 576.0 140.0 576.7 136.7 577.4 134.1 578.1 130.4 578.8 127.9 579.5 126.1 580.2 124.9 580.9 123.4 581.6 121.8 582.3 121.0 583.0 119.7 583.7 118.4 584.4 117.0 585.1 116.2 585.8 114.9 586.5 114.3 587.2 113.4 587.9 113.0 588.6 112.7 589.3 112.2 590.0 112.4 590.7 112.5 591.4 112.9 592.1 113.8 592.8 113.8 593.5 115.9 594.2 116.7 594.9 119.7 595.6 121.6 596.3 123.5 597.0 125.1 597.7 127.2 598.4 129.1 599.1 130.9 599.8 133.2 600.5 134.8 601.2 133.6 601.9 130.0 602.6 126.1 603.3 122.0 604.0 117.8 604.7 112.4 605.4 108.0 606.1 103.9 606.8 99.2 607.5 95.2 608.2 91.8 608.9 88.4 609.6 84.9 610.3 80.7 611.0 78.1 611.7 75.9 612.4 73.8 613.1 71.9 613.8 69.7 614.5 67.3 615.2 64.8 615.9 62.8 616.6 61.4 617.3 59.5 618.0 57.5 618.7 55.4 619.4 54.0 620.1 52.9 620.8 50.3 621.5 48.6 622.2 47.1 622.9 44.5 623.6 43.8 624.3 42.1 625.0 42.0 625.7 40.3 626.4 39.6 627.1 38.8 627.8 38.6 628.5 37.7 629.2 37.7 629.9 37.1 630.6 36.6 631.3 37.1 632.0 37.1 632.7 37.2 633.4 37.8 634.1 39.1 634.8 39.9 635.5 40.5 636.2 41.8 636.9 40.8 637.6 40.8 638.3 39.5 639.0 39.8 639.7 38.5 640.4 37.9 641.1 37.6 641.8 37.7 642.5 37.7 643.2 37.8 643.9 38.5 644.6 38.6 645.3 39.3 646.0 39.8 646.7 40.3 647.4 41.4 648.1 42.1 648.8 42.8 649.5 43.3 650.2 43.5 650.9 46.0 651.6 46.2 652.3 46.8 653.0 47.8 653.7 48.2 654.4 48.6 655.1 48.2 655.8 48.3 656.5 48.8 657.2 48.6 657.9 48.1 658.6 46.7 659.3 46.9 660.0 47.0 660.7 45.6 661.4 44.7 662.1 43.9 662.8 42.4 663.5 43.1 664.2 43.3 664.9 43.3 665.6 43.0 666.3 43.1 667.0 43.4 667.7 43.7 668.4 43.4 669.1 43.6 669.8 43.9 670.5 44.2 671.2 44.7 671.9 45.7 672.6 46.0 673.3 46.3 674.0 47.2 674.7 46.6 675.4 46.2 676.1 47.2 676.8 47.3 677.5 47.9 678.2 47.2 678.9 47.0 679.6 46.1 680.3 45.1 681.0 42.9 681.7 41.3 682.4 38.4 683.1 34.7 683.8 32.8 684.5 29.2 685.2 27.4 685.9 25.5 686.6 24.0 687.3 22.4 688.0 20.5 688.7 20.2 689.4 18.0 690.1 17.4 690.8 16.6 691.5 15.3 692.2 14.9 692.9 14.6 693.6 14.6 694.3 13.7 695.0 12.5 695.7 12.0 696.4 10.2 697.1 10.6 697.8 10.4 698.5 9.3 699.2 10.0 699.9 9.2 700.6 9.7 701.3 9.7" fill="none" stroke="#34E034" stroke-width="0.75"/>
<g fill="url(#gb3)"><circle cx="492.7" cy="232.2" r="2.7"/><circle cx="494.8" cy="227.5" r="2.7"/><circle cx="499.0" cy="230.4" r="2.7"/><circle cx="501.1" cy="233.2" r="2.7"/><circle cx="503.2" cy="231.9" r="2.7"/><circle cx="505.3" cy="231.2" r="2.7"/><circle cx="507.4" cy="228.9" r="2.7"/><circle cx="511.6" cy="231.4" r="2.7"/><circle cx="513.7" cy="230.6" r="2.7"/><circle cx="515.8" cy="223.0" r="2.7"/><circle cx="517.9" cy="226.2" r="2.7"/><circle cx="520.0" cy="226.3" r="2.7"/><circle cx="522.1" cy="219.7" r="2.7"/><circle cx="526.3" cy="215.5" r="2.7"/><circle cx="528.4" cy="214.1" r="2.7"/><circle cx="529.1" cy="210.0" r="2.7"/><circle cx="530.5" cy="200.5" r="2.7"/><circle cx="531.2" cy="197.4" r="2.7"/><circle cx="534.0" cy="193.8" r="2.7"/><circle cx="534.7" cy="191.1" r="2.7"/><circle cx="536.8" cy="188.3" r="2.7"/><circle cx="538.2" cy="185.2" r="2.7"/><circle cx="541.0" cy="184.9" r="2.7"/><circle cx="543.1" cy="187.6" r="2.7"/><circle cx="543.8" cy="191.3" r="2.7"/><circle cx="545.9" cy="193.2" r="2.7"/><circle cx="548.0" cy="195.7" r="2.7"/><circle cx="550.1" cy="198.2" r="2.7"/><circle cx="552.2" cy="200.9" r="2.7"/><circle cx="554.3" cy="206.5" r="2.7"/><circle cx="555.7" cy="216.0" r="2.7"/><circle cx="557.8" cy="218.8" r="2.7"/><circle cx="559.9" cy="223.9" r="2.7"/><circle cx="562.0" cy="215.0" r="2.7"/><circle cx="564.1" cy="215.0" r="2.7"/><circle cx="565.5" cy="207.5" r="2.7"/><circle cx="566.9" cy="199.7" r="2.7"/><circle cx="567.6" cy="196.3" r="2.7"/><circle cx="568.3" cy="193.4" r="2.7"/><circle cx="569.0" cy="189.9" r="2.7"/><circle cx="569.7" cy="186.7" r="2.7"/><circle cx="570.4" cy="182.9" r="2.7"/><circle cx="571.1" cy="178.9" r="2.7"/><circle cx="571.8" cy="173.9" r="2.7"/><circle cx="572.5" cy="167.6" r="2.7"/><circle cx="573.2" cy="160.9" r="2.7"/><circle cx="573.9" cy="153.2" r="2.7"/><circle cx="574.6" cy="147.4" r="2.7"/><circle cx="575.3" cy="143.4" r="2.7"/><circle cx="576.0" cy="140.0" r="2.7"/><circle cx="576.7" cy="136.7" r="2.7"/><circle cx="577.4" cy="134.1" r="2.7"/><circle cx="578.1" cy="130.4" r="2.7"/><circle cx="578.8" cy="127.9" r="2.7"/><circle cx="580.2" cy="124.9" r="2.7"/><circle cx="581.6" cy="121.8" r="2.7"/><circle cx="583.7" cy="118.4" r="2.7"/><circle cx="585.8" cy="114.9" r="2.7"/><circle cx="587.9" cy="113.0" r="2.7"/><circle cx="590.7" cy="112.5" r="2.7"/><circle cx="593.5" cy="115.9" r="2.7"/><circle cx="594.9" cy="119.7" r="2.7"/><circle cx="596.3" cy="123.5" r="2.7"/><circle cx="597.7" cy="127.2" r="2.7"/><circle cx="599.1" cy="130.9" r="2.7"/><circle cx="600.5" cy="134.8" r="2.7"/><circle cx="601.9" cy="130.0" r="2.7"/><circle cx="602.6" cy="126.1" r="2.7"/><circle cx="603.3" cy="122.0" r="2.7"/><circle cx="604.0" cy="117.8" r="2.7"/><circle cx="604.7" cy="112.4" r="2.7"/><circle cx="605.4" cy="108.0" r="2.7"/><circle cx="606.1" cy="103.9" r="2.7"/><circle cx="606.8" cy="99.2" r="2.7"/><circle cx="607.5" cy="95.2" r="2.7"/><circle cx="608.2" cy="91.8" r="2.7"/><circle cx="608.9" cy="88.4" r="2.7"/><circle cx="609.6" cy="84.9" r="2.7"/><circle cx="610.3" cy="80.7" r="2.7"/><circle cx="611.0" cy="78.1" r="2.7"/><circle cx="612.4" cy="73.8" r="2.7"/><circle cx="613.8" cy="69.7" r="2.7"/><circle cx="615.2" cy="64.8" r="2.7"/><circle cx="616.6" cy="61.4" r="2.7"/><circle cx="618.0" cy="57.5" r="2.7"/><circle cx="619.4" cy="54.0" r="2.7"/><circle cx="620.8" cy="50.3" r="2.7"/><circle cx="622.2" cy="47.1" r="2.7"/><circle cx="622.9" cy="44.5" r="2.7"/><circle cx="624.3" cy="42.1" r="2.7"/><circle cx="626.4" cy="39.6" r="2.7"/><circle cx="628.5" cy="37.7" r="2.7"/><circle cx="631.3" cy="37.1" r="2.7"/><circle cx="634.1" cy="39.1" r="2.7"/><circle cx="636.2" cy="41.8" r="2.7"/><circle cx="638.3" cy="39.5" r="2.7"/><circle cx="640.4" cy="37.9" r="2.7"/><circle cx="643.2" cy="37.8" r="2.7"/><circle cx="646.0" cy="39.8" r="2.7"/><circle cx="648.1" cy="42.1" r="2.7"/><circle cx="650.9" cy="46.0" r="2.7"/><circle cx="653.0" cy="47.8" r="2.7"/><circle cx="655.8" cy="48.3" r="2.7"/><circle cx="658.6" cy="46.7" r="2.7"/><circle cx="661.4" cy="44.7" r="2.7"/><circle cx="662.8" cy="42.4" r="2.7"/><circle cx="665.6" cy="43.0" r="2.7"/><circle cx="668.4" cy="43.4" r="2.7"/><circle cx="671.2" cy="44.7" r="2.7"/><circle cx="673.3" cy="46.3" r="2.7"/><circle cx="676.1" cy="47.2" r="2.7"/><circle cx="678.9" cy="47.0" r="2.7"/><circle cx="681.0" cy="42.9" r="2.7"/><circle cx="682.4" cy="38.4" r="2.7"/><circle cx="683.1" cy="34.7" r="2.7"/><circle cx="684.5" cy="29.2" r="2.7"/><circle cx="685.9" cy="25.5" r="2.7"/><circle cx="687.3" cy="22.4" r="2.7"/><circle cx="689.4" cy="18.0" r="2.7"/><circle cx="691.5" cy="15.3" r="2.7"/><circle cx="694.3" cy="13.7" r="2.7"/><circle cx="696.4" cy="10.2" r="2.7"/><circle cx="699.2" cy="10.0" r="2.7"/></g>
<path d="M488.5 233.8 490.6 250.0 492.7 250.0 494.8 250.0 496.9 250.0 499.0 250.0 501.1 229.3 503.2 250.0 505.3 220.6 507.4 233.2 509.5 225.0 511.6 231.2 513.7 250.0 515.8 222.5 517.9 225.6 520.0 250.0 522.1 221.2 524.2 250.0 526.3 213.6 528.4 217.7 530.5 208.2 531.9 205.6 532.6 199.9 533.3 196.0 534.0 195.0 534.7 191.6 535.4 189.3 536.1 185.3 536.8 182.9 537.5 180.9 538.2 179.2 538.9 181.1 539.6 184.1 540.3 186.3 541.0 188.6 541.7 190.5 542.4 187.7 543.1 188.3 543.8 189.1 544.5 191.3 545.2 194.2 545.9 193.2 546.6 194.5 547.3 194.2 548.0 195.8 548.7 198.0 549.4 196.7 550.1 197.4 550.8 200.0 551.5 202.2 552.9 206.0 554.3 208.9 555.7 212.5 557.8 217.4 559.9 250.0 562.0 222.4 564.1 213.4 565.5 211.9 566.9 203.3 567.6 199.2 568.3 195.8 569.0 192.2 569.7 189.5 570.4 185.6 571.1 181.3 571.8 176.7 572.5 171.8 573.2 164.1 573.9 157.5 574.6 150.4 575.3 144.9 576.0 141.2 576.7 137.8 577.4 135.2 578.1 132.6 578.8 129.9 579.5 127.6 580.2 126.0 580.9 125.0 581.6 123.3 582.3 121.9 583.0 120.1 583.7 119.4 584.4 118.4 585.1 117.9 585.8 115.9 586.5 115.4 587.2 114.3 587.9 113.6 588.6 114.0 589.3 112.9 590.0 113.2 590.7 113.0 591.4 112.8 592.1 114.3 592.8 114.5 593.5 114.8 594.2 117.9 594.9 120.4 595.6 121.3 596.3 123.3 597.0 125.2 597.7 126.8 598.4 129.3 599.1 130.5 599.8 133.2 600.5 135.9 601.2 135.3 601.9 132.2 602.6 128.3 603.3 124.1 604.0 119.3 604.7 114.7 605.4 109.8 606.1 105.0 606.8 101.4 607.5 97.0 608.2 93.7 608.9 90.3 609.6 86.3 610.3 82.8 611.0 79.4 611.7 77.0 612.4 74.9 613.1 72.7 613.8 71.0 614.5 68.4 615.2 66.9 615.9 64.1 616.6 62.2 617.3 60.5 618.0 58.4 618.7 57.1 619.4 55.1 620.1 54.1 620.8 52.5 621.5 50.5 622.2 48.2 622.9 46.9 623.6 44.3 624.3 43.4 625.0 42.4 625.7 41.8 626.4 40.1 627.1 39.5 627.8 38.8 628.5 38.0 629.2 37.8 629.9 38.4 630.6 38.2 631.3 37.8 632.0 38.1 632.7 38.2 633.4 38.5 634.1 39.2 634.8 40.7 635.5 40.7 636.2 41.9 636.9 41.8 637.6 42.0 638.3 41.5 639.0 40.2 639.7 39.7 640.4 39.7 641.1 38.8 641.8 38.1 642.5 38.3 643.2 39.0 643.9 39.0 644.6 39.4 645.3 40.1 646.0 40.5 646.7 41.5 647.4 42.6 648.1 42.8 648.8 43.8 649.5 44.1 650.2 45.3 650.9 45.4 651.6 46.9 652.3 48.0 653.0 48.4 653.7 48.9 654.4 49.6 655.1 49.7 655.8 49.4 656.5 49.5 657.2 49.9 657.9 49.0 658.6 48.3 659.3 47.4 660.0 47.2 660.7 45.8 661.4 46.0 662.1 44.9 662.8 43.7 663.5 43.5 664.2 43.0 664.9 43.2 665.6 43.4 666.3 43.8 667.0 43.8 667.7 43.8 668.4 43.6 669.1 44.3 669.8 45.2 670.5 44.8 671.2 45.5 671.9 46.1 672.6 46.7 673.3 46.4 674.0 47.3 674.7 46.8 675.4 46.9 676.1 47.8 676.8 48.5 677.5 48.0 678.2 47.1 678.9 47.4 679.6 46.9 680.3 45.5 681.0 44.9 681.7 42.1 682.4 39.2 683.1 36.2 683.8 33.0 684.5 30.5 685.2 28.3 685.9 26.4 686.6 24.0 687.3 22.6 688.0 21.5 688.7 20.4 689.4 18.3 690.1 18.1 690.8 17.7 691.5 17.2 692.2 15.3 692.9 14.7 693.6 14.1 694.3 13.7 695.0 12.9 695.7 12.1 696.4 11.3 697.1 10.6 697.8 10.1 698.5 10.0 699.2 10.5 699.9 10.1 700.6 9.9 701.3 9.6" fill="none" stroke="#1E721E" stroke-width="0.75"/>
<g fill="url(#gb4)"><circle cx="488.5" cy="233.8" r="2.7"/><circle cx="501.1" cy="229.3" r="2.7"/><circle cx="505.3" cy="220.6" r="2.7"/><circle cx="507.4" cy="233.2" r="2.7"/><circle cx="509.5" cy="225.0" r="2.7"/><circle cx="511.6" cy="231.2" r="2.7"/><circle cx="515.8" cy="222.5" r="2.7"/><circle cx="517.9" cy="225.6" r="2.7"/><circle cx="522.1" cy="221.2" r="2.7"/><circle cx="526.3" cy="213.6" r="2.7"/><circle cx="528.4" cy="217.7" r="2.7"/><circle cx="530.5" cy="208.2" r="2.7"/><circle cx="531.9" cy="205.6" r="2.7"/><circle cx="532.6" cy="199.9" r="2.7"/><circle cx="533.3" cy="196.0" r="2.7"/><circle cx="534.7" cy="191.6" r="2.7"/><circle cx="536.1" cy="185.3" r="2.7"/><circle cx="537.5" cy="180.9" r="2.7"/><circle cx="539.6" cy="184.1" r="2.7"/><circle cx="541.0" cy="188.6" r="2.7"/><circle cx="543.8" cy="189.1" r="2.7"/><circle cx="545.2" cy="194.2" r="2.7"/><circle cx="548.0" cy="195.8" r="2.7"/><circle cx="550.1" cy="197.4" r="2.7"/><circle cx="550.8" cy="200.0" r="2.7"/><circle cx="552.9" cy="206.0" r="2.7"/><circle cx="554.3" cy="208.9" r="2.7"/><circle cx="555.7" cy="212.5" r="2.7"/><circle cx="557.8" cy="217.4" r="2.7"/><circle cx="562.0" cy="222.4" r="2.7"/><circle cx="564.1" cy="213.4" r="2.7"/><circle cx="566.9" cy="203.3" r="2.7"/><circle cx="567.6" cy="199.2" r="2.7"/><circle cx="568.3" cy="195.8" r="2.7"/><circle cx="569.0" cy="192.2" r="2.7"/><circle cx="569.7" cy="189.5" r="2.7"/><circle cx="570.4" cy="185.6" r="2.7"/><circle cx="571.1" cy="181.3" r="2.7"/><circle cx="571.8" cy="176.7" r="2.7"/><circle cx="572.5" cy="171.8" r="2.7"/><circle cx="573.2" cy="164.1" r="2.7"/><circle cx="573.9" cy="157.5" r="2.7"/><circle cx="574.6" cy="150.4" r="2.7"/><circle cx="575.3" cy="144.9" r="2.7"/><circle cx="576.0" cy="141.2" r="2.7"/><circle cx="576.7" cy="137.8" r="2.7"/><circle cx="577.4" cy="135.2" r="2.7"/><circle cx="578.1" cy="132.6" r="2.7"/><circle cx="578.8" cy="129.9" r="2.7"/><circle cx="580.2" cy="126.0" r="2.7"/><circle cx="581.6" cy="123.3" r="2.7"/><circle cx="583.0" cy="120.1" r="2.7"/><circle cx="585.1" cy="117.9" r="2.7"/><circle cx="586.5" cy="115.4" r="2.7"/><circle cx="589.3" cy="112.9" r="2.7"/><circle cx="592.1" cy="114.3" r="2.7"/><circle cx="594.2" cy="117.9" r="2.7"/><circle cx="595.6" cy="121.3" r="2.7"/><circle cx="597.0" cy="125.2" r="2.7"/><circle cx="598.4" cy="129.3" r="2.7"/><circle cx="599.8" cy="133.2" r="2.7"/><circle cx="600.5" cy="135.9" r="2.7"/><circle cx="601.9" cy="132.2" r="2.7"/><circle cx="602.6" cy="128.3" r="2.7"/><circle cx="603.3" cy="124.1" r="2.7"/><circle cx="604.0" cy="119.3" r="2.7"/><circle cx="604.7" cy="114.7" r="2.7"/><circle cx="605.4" cy="109.8" r="2.7"/><circle cx="606.1" cy="105.0" r="2.7"/><circle cx="606.8" cy="101.4" r="2.7"/><circle cx="607.5" cy="97.0" r="2.7"/><circle cx="608.2" cy="93.7" r="2.7"/><circle cx="608.9" cy="90.3" r="2.7"/><circle cx="609.6" cy="86.3" r="2.7"/><circle cx="610.3" cy="82.8" r="2.7"/><circle cx="611.0" cy="79.4" r="2.7"/><circle cx="612.4" cy="74.9" r="2.7"/><circle cx="613.8" cy="71.0" r="2.7"/><circle cx="614.5" cy="68.4" r="2.7"/><circle cx="615.9" cy="64.1" r="2.7"/><circle cx="617.3" cy="60.5" r="2.7"/><circle cx="618.7" cy="57.1" r="2.7"/><circle cx="620.1" cy="54.1" r="2.7"/><circle cx="621.5" cy="50.5" r="2.7"/><circle cx="622.9" cy="46.9" r="2.7"/><circle cx="623.6" cy="44.3" r="2.7"/><circle cx="625.7" cy="41.8" r="2.7"/><circle cx="627.1" cy="39.5" r="2.7"/><circle cx="629.2" cy="37.8" r="2.7"/><circle cx="632.0" cy="38.1" r="2.7"/><circle cx="634.8" cy="40.7" r="2.7"/><circle cx="637.6" cy="42.0" r="2.7"/><circle cx="639.7" cy="39.7" r="2.7"/><circle cx="641.8" cy="38.1" r="2.7"/><circle cx="644.6" cy="39.4" r="2.7"/><circle cx="646.7" cy="41.5" r="2.7"/><circle cx="648.8" cy="43.8" r="2.7"/><circle cx="650.9" cy="45.4" r="2.7"/><circle cx="652.3" cy="48.0" r="2.7"/><circle cx="655.1" cy="49.7" r="2.7"/><circle cx="657.9" cy="49.0" r="2.7"/><circle cx="660.0" cy="47.2" r="2.7"/><circle cx="662.1" cy="44.9" r="2.7"/><circle cx="664.2" cy="43.0" r="2.7"/><circle cx="667.0" cy="43.8" r="2.7"/><circle cx="669.8" cy="45.2" r="2.7"/><circle cx="672.6" cy="46.7" r="2.7"/><circle cx="675.4" cy="46.9" r="2.7"/><circle cx="678.2" cy="47.1" r="2.7"/><circle cx="680.3" cy="45.5" r="2.7"/><circle cx="681.7" cy="42.1" r="2.7"/><circle cx="682.4" cy="39.2" r="2.7"/><circle cx="683.1" cy="36.2" r="2.7"/><circle cx="683.8" cy="33.0" r="2.7"/><circle cx="684.5" cy="30.5" r="2.7"/><circle cx="685.9" cy="26.4" r="2.7"/><circle cx="687.3" cy="22.6" r="2.7"/><circle cx="689.4" cy="18.3" r="2.7"/><circle cx="692.2" cy="15.3" r="2.7"/><circle cx="694.3" cy="13.7" r="2.7"/><circle cx="696.4" cy="11.3" r="2.7"/><circle cx="699.2" cy="10.5" r="2.7"/></g>
<path d="M488.5 232.1 490.6 250.0 492.7 233.2 494.8 250.0 496.9 250.0 499.0 222.8 501.1 230.1 503.2 230.3 505.3 224.1 507.4 232.2 509.5 250.0 511.6 227.4 513.7 225.8 515.8 220.8 517.9 250.0 520.0 207.6 522.1 222.1 524.2 226.3 526.3 222.0 528.4 250.0 530.5 209.9 531.9 202.2 532.6 200.6 533.3 197.8 534.0 196.4 534.7 194.2 535.4 192.0 536.1 191.7 536.8 190.0 537.5 189.8 538.2 189.0 538.9 188.1 539.6 188.1 540.3 188.5 541.0 190.9 541.7 190.8 542.4 192.9 543.1 193.2 543.8 192.5 544.5 194.1 545.2 192.1 545.9 197.9 546.6 199.6 547.3 198.9 548.0 199.1 548.7 197.1 549.4 196.4 550.1 196.0 550.8 198.9 551.5 200.9 552.2 203.9 552.9 207.4 554.3 207.2 555.7 210.4 557.8 250.0 559.9 250.0 562.0 250.0 564.1 219.7 565.5 212.8 566.9 206.2 567.6 202.3 568.3 198.9 569.0 195.0 569.7 191.5 570.4 188.6 571.1 184.8 571.8 180.1 572.5 175.9 573.2 168.9 573.9 161.7 574.6 155.0 575.3 148.3 576.0 143.7 576.7 140.0 577.4 137.1 578.1 133.8 578.8 131.3 579.5 129.3 580.2 127.4 580.9 125.5 581.6 124.4 582.3 123.8 583.0 122.2 583.7 121.1 584.4 120.0 585.1 118.5 585.8 117.3 586.5 116.2 587.2 116.8 587.9 115.4 588.6 114.5 589.3 114.6 590.0 114.8 590.7 113.9 591.4 114.1 592.1 114.6 592.8 115.8 593.5 116.7 594.2 118.6 594.9 119.7 595.6 121.8 596.3 123.6 597.0 125.6 597.7 127.8 598.4 129.3 599.1 130.7 599.8 133.3 600.5 135.2 601.2 136.3 601.9 134.5 602.6 130.3 603.3 126.8 604.0 122.4 604.7 117.1 605.4 112.4 606.1 108.9 606.8 103.8 607.5 100.3 608.2 95.7 608.9 91.8 609.6 88.5 610.3 84.5 611.0 81.3 611.7 78.7 612.4 77.1 613.1 74.3 613.8 73.1 614.5 70.0 615.2 67.9 615.9 66.0 616.6 64.1 617.3 61.4 618.0 59.8 618.7 58.1 619.4 57.1 620.1 54.8 620.8 53.4 621.5 52.6 622.2 50.4 622.9 48.1 623.6 46.2 624.3 44.7 625.0 43.4 625.7 42.2 626.4 41.4 627.1 41.1 627.8 40.4 628.5 40.3 629.2 39.4 629.9 38.9 630.6 39.3 631.3 39.4 632.0 38.2 632.7 39.0 633.4 39.9 634.1 40.2 634.8 40.5 635.5 42.5 636.2 41.8 636.9 42.6 637.6 42.9 638.3 41.8 639.0 42.2 639.7 41.0 640.4 40.2 641.1 39.3 641.8 40.0 642.5 39.8 643.2 40.6 643.9 39.8 644.6 41.3 645.3 41.4 646.0 41.4 646.7 42.6 647.4 43.0 648.1 43.4 648.8 44.8 649.5 46.2 650.2 45.4 650.9 47.0 651.6 47.9 652.3 48.6 653.0 50.0 653.7 50.2 654.4 51.0 655.1 51.0 655.8 51.3 656.5 51.1 657.2 50.4 657.9 49.7 658.6 49.3 659.3 48.9 660.0 47.9 660.7 47.0 661.4 46.6 662.1 45.7 662.8 44.1 663.5 43.9 664.2 43.8 664.9 44.2 665.6 43.6 666.3 43.3 667.0 44.2 667.7 44.0 668.4 44.2 669.1 44.4 669.8 44.8 670.5 45.2 671.2 45.6 671.9 46.7 672.6 47.1 673.3 48.0 674.0 47.7 674.7 47.8 675.4 47.8 676.1 48.2 676.8 48.9 677.5 48.9 678.2 48.9 678.9 48.0 679.6 47.7 680.3 46.2 681.0 45.8 681.7 43.5 682.4 40.3 683.1 36.4 683.8 35.2 684.5 31.3 685.2 29.2 685.9 27.3 686.6 24.7 687.3 23.8 688.0 22.3 688.7 20.9 689.4 19.1 690.1 19.1 690.8 18.4 691.5 17.3 692.2 16.8 692.9 15.6 693.6 15.0 694.3 13.0 695.0 13.4 695.7 13.0 696.4 11.6 697.1 12.0 697.8 10.3 698.5 9.6 699.2 10.2 699.9 9.7 700.6 10.0 701.3 9.9" fill="none" stroke="#34DCDC" stroke-width="0.75"/>
<g fill="url(#gb5)"><circle cx="488.5" cy="232.1" r="2.7"/><circle cx="492.7" cy="233.2" r="2.7"/><circle cx="499.0" cy="222.8" r="2.7"/><circle cx="501.1" cy="230.1" r="2.7"/><circle cx="503.2" cy="230.3" r="2.7"/><circle cx="505.3" cy="224.1" r="2.7"/><circle cx="507.4" cy="232.2" r="2.7"/><circle cx="511.6" cy="227.4" r="2.7"/><circle cx="513.7" cy="225.8" r="2.7"/><circle cx="515.8" cy="220.8" r="2.7"/><circle cx="520.0" cy="207.6" r="2.7"/><circle cx="522.1" cy="222.1" r="2.7"/><circle cx="524.2" cy="226.3" r="2.7"/><circle cx="526.3" cy="222.0" r="2.7"/><circle cx="530.5" cy="209.9" r="2.7"/><circle cx="531.9" cy="202.2" r="2.7"/><circle cx="533.3" cy="197.8" r="2.7"/><circle cx="534.7" cy="194.2" r="2.7"/><circle cx="536.1" cy="191.7" r="2.7"/><circle cx="538.2" cy="189.0" r="2.7"/><circle cx="541.0" cy="190.9" r="2.7"/><circle cx="543.1" cy="193.2" r="2.7"/><circle cx="545.9" cy="197.9" r="2.7"/><circle cx="548.7" cy="197.1" r="2.7"/><circle cx="550.8" cy="198.9" r="2.7"/><circle cx="552.2" cy="203.9" r="2.7"/><circle cx="552.9" cy="207.4" r="2.7"/><circle cx="555.7" cy="210.4" r="2.7"/><circle cx="564.1" cy="219.7" r="2.7"/><circle cx="565.5" cy="212.8" r="2.7"/><circle cx="566.9" cy="206.2" r="2.7"/><circle cx="567.6" cy="202.3" r="2.7"/><circle cx="568.3" cy="198.9" r="2.7"/><circle cx="569.0" cy="195.0" r="2.7"/><circle cx="569.7" cy="191.5" r="2.7"/><circle cx="570.4" cy="188.6" r="2.7"/><circle cx="571.1" cy="184.8" r="2.7"/><circle cx="571.8" cy="180.1" r="2.7"/><circle cx="572.5" cy="175.9" r="2.7"/><circle cx="573.2" cy="168.9" r="2.7"/><circle cx="573.9" cy="161.7" r="2.7"/><circle cx="574.6" cy="155.0" r="2.7"/><circle cx="575.3" cy="148.3" r="2.7"/><circle cx="576.0" cy="143.7" r="2.7"/><circle cx="576.7" cy="140.0" r="2.7"/><circle cx="577.4" cy="137.1" r="2.7"/><circle cx="578.1" cy="133.8" r="2.7"/><circle cx="578.8" cy="131.3" r="2.7"/><circle cx="580.2" cy="127.4" r="2.7"/><circle cx="581.6" cy="124.4" r="2.7"/><circle cx="583.7" cy="121.1" r="2.7"/><circle cx="585.1" cy="118.5" r="2.7"/><circle cx="586.5" cy="116.2" r="2.7"/><circle cx="588.6" cy="114.5" r="2.7"/><circle cx="591.4" cy="114.1" r="2.7"/><circle cx="593.5" cy="116.7" r="2.7"/><circle cx="594.9" cy="119.7" r="2.7"/><circle cx="596.3" cy="123.6" r="2.7"/><circle cx="597.7" cy="127.8" r="2.7"/><circle cx="599.1" cy="130.7" r="2.7"/><circle cx="599.8" cy="133.3" r="2.7"/><circle cx="601.2" cy="136.3" r="2.7"/><circle cx="602.6" cy="130.3" r="2.7"/><circle cx="603.3" cy="126.8" r="2.7"/><circle cx="604.0" cy="122.4" r="2.7"/><circle cx="604.7" cy="117.1" r="2.7"/><circle cx="605.4" cy="112.4" r="2.7"/><circle cx="606.1" cy="108.9" r="2.7"/><circle cx="606.8" cy="103.8" r="2.7"/><circle cx="607.5" cy="100.3" r="2.7"/><circle cx="608.2" cy="95.7" r="2.7"/><circle cx="608.9" cy="91.8" r="2.7"/><circle cx="609.6" cy="88.5" r="2.7"/><circle cx="610.3" cy="84.5" r="2.7"/><circle cx="611.0" cy="81.3" r="2.7"/><circle cx="611.7" cy="78.7" r="2.7"/><circle cx="613.1" cy="74.3" r="2.7"/><circle cx="614.5" cy="70.0" r="2.7"/><circle cx="615.9" cy="66.0" r="2.7"/><circle cx="617.3" cy="61.4" r="2.7"/><circle cx="618.7" cy="58.1" r="2.7"/><circle cx="620.1" cy="54.8" r="2.7"/><circle cx="621.5" cy="52.6" r="2.7"/><circle cx="622.9" cy="48.1" r="2.7"/><circle cx="624.3" cy="44.7" r="2.7"/><circle cx="625.7" cy="42.2" r="2.7"/><circle cx="627.8" cy="40.4" r="2.7"/><circle cx="630.6" cy="39.3" r="2.7"/><circle cx="633.4" cy="39.9" r="2.7"/><circle cx="635.5" cy="42.5" r="2.7"/><circle cx="638.3" cy="41.8" r="2.7"/><circle cx="640.4" cy="40.2" r="2.7"/><circle cx="643.2" cy="40.6" r="2.7"/><circle cx="646.0" cy="41.4" r="2.7"/><circle cx="648.1" cy="43.4" r="2.7"/><circle cx="649.5" cy="46.2" r="2.7"/><circle cx="651.6" cy="47.9" r="2.7"/><circle cx="653.7" cy="50.2" r="2.7"/><circle cx="656.5" cy="51.1" r="2.7"/><circle cx="658.6" cy="49.3" r="2.7"/><circle cx="660.7" cy="47.0" r="2.7"/><circle cx="662.8" cy="44.1" r="2.7"/><circle cx="665.6" cy="43.6" r="2.7"/><circle cx="668.4" cy="44.2" r="2.7"/><circle cx="671.2" cy="45.6" r="2.7"/><circle cx="673.3" cy="48.0" r="2.7"/><circle cx="676.1" cy="48.2" r="2.7"/><circle cx="678.9" cy="48.0" r="2.7"/><circle cx="681.0" cy="45.8" r="2.7"/><circle cx="682.4" cy="40.3" r="2.7"/><circle cx="683.1" cy="36.4" r="2.7"/><circle cx="684.5" cy="31.3" r="2.7"/><circle cx="685.9" cy="27.3" r="2.7"/><circle cx="686.6" cy="24.7" r="2.7"/><circle cx="688.0" cy="22.3" r="2.7"/><circle cx="689.4" cy="19.1" r="2.7"/><circle cx="691.5" cy="17.3" r="2.7"/><circle cx="693.6" cy="15.0" r="2.7"/><circle cx="695.7" cy="13.0" r="2.7"/><circle cx="697.8" cy="10.3" r="2.7"/><circle cx="700.6" cy="10.0" r="2.7"/></g>
<path d="M488.5 233.4 490.6 233.8 492.7 231.7 494.8 232.2 496.9 228.5 499.0 250.0 501.1 223.4 503.2 230.0 505.3 250.0 507.4 232.4 509.5 232.6 511.6 250.0 513.7 231.2 515.8 231.9 517.9 231.1 520.0 250.0 522.1 231.5 524.2 232.8 526.3 250.0 528.4 227.3 530.5 215.1 533.3 213.2 534.7 207.6 536.1 209.6 537.5 208.3 538.9 207.2 540.3 203.3 541.0 202.5 541.7 202.3 542.4 202.5 543.1 206.5 544.5 209.9 545.9 206.5 547.3 207.8 548.7 212.8 550.1 212.2 551.5 211.9 552.9 213.7 555.7 215.8 557.8 209.7 559.9 230.4 562.0 220.8 564.1 223.8 566.2 213.3 566.9 213.5 568.3 205.3 569.0 202.6 569.7 198.7 570.4 195.4 571.1 191.1 571.8 187.4 572.5 182.8 573.2 178.2 573.9 172.5 574.6 164.5 575.3 156.9 576.0 150.3 576.7 145.7 577.4 142.0 578.1 138.6 578.8 136.6 579.5 133.2 580.2 131.2 580.9 128.7 581.6 128.1 582.3 125.5 583.0 124.5 583.7 123.9 584.4 123.5 585.1 121.9 585.8 121.0 586.5 119.6 587.2 119.6 587.9 118.8 588.6 118.4 589.3 117.4 590.0 117.6 590.7 117.1 591.4 117.3 592.1 117.3 592.8 117.4 593.5 118.2 594.2 119.4 594.9 120.6 595.6 122.7 596.3 125.0 597.0 126.4 597.7 128.3 598.4 130.1 599.1 132.4 599.8 134.7 600.5 136.4 601.2 137.6 601.9 138.6 602.6 135.8 603.3 131.8 604.0 127.5 604.7 123.7 605.4 118.1 606.1 113.6 606.8 109.7 607.5 104.9 608.2 101.0 608.9 96.9 609.6 92.9 610.3 89.6 611.0 86.0 611.7 82.9 612.4 80.4 613.1 77.9 613.8 75.8 614.5 74.0 615.2 72.0 615.9 70.1 616.6 66.7 617.3 64.8 618.0 63.2 618.7 61.6 619.4 60.3 620.1 58.9 620.8 56.8 621.5 55.1 622.2 53.2 622.9 51.1 623.6 49.8 624.3 48.1 625.0 46.7 625.7 46.2 626.4 44.9 627.1 43.1 627.8 42.9 628.5 42.4 629.2 41.9 629.9 42.1 630.6 41.6 631.3 41.1 632.0 41.2 632.7 41.1 633.4 41.6 634.1 41.8 634.8 42.7 635.5 45.0 636.2 44.7 636.9 44.7 637.6 45.4 638.3 44.9 639.0 44.6 639.7 43.4 640.4 42.6 641.1 43.2 641.8 42.1 642.5 41.1 643.2 42.1 643.9 43.0 644.6 43.4 645.3 43.2 646.0 43.4 646.7 44.6 647.4 44.6 648.1 45.6 648.8 46.8 649.5 47.6 650.2 47.9 650.9 49.1 651.6 50.1 652.3 50.3 653.0 51.3 653.7 52.8 654.4 52.4 655.1 53.2 655.8 53.9 656.5 53.4 657.2 53.3 657.9 52.5 658.6 51.5 659.3 51.6 660.0 50.6 660.7 49.7 661.4 48.0 662.1 47.2 662.8 47.1 663.5 45.8 664.2 45.1 664.9 44.9 665.6 45.3 666.3 45.3 667.0 45.2 667.7 46.0 668.4 45.8 669.1 46.4 669.8 45.4 670.5 46.6 671.2 48.2 671.9 48.1 672.6 49.0 673.3 49.4 674.0 49.9 674.7 50.1 675.4 49.9 676.1 51.0 676.8 51.6 677.5 51.7 678.2 51.0 678.9 50.4 679.6 50.1 680.3 48.7 681.0 48.4 681.7 45.8 682.4 43.7 683.1 40.4 683.8 37.5 684.5 34.2 685.2 31.7 685.9 29.8 686.6 27.1 687.3 26.4 688.0 24.6 688.7 22.9 689.4 20.7 690.1 20.6 690.8 19.3 691.5 18.4 692.2 17.5 692.9 16.9 693.6 16.6 694.3 15.2 695.0 15.5 695.7 13.8 696.4 12.6 697.1 13.1 697.8 11.1 698.5 10.3 699.2 10.3 699.9 10.8 700.6 10.6 701.3 10.7" fill="none" stroke="#2222A8" stroke-width="0.75"/>
<g fill="url(#gb6)"><circle cx="488.5" cy="233.4" r="2.7"/><circle cx="490.6" cy="233.8" r="2.7"/><circle cx="492.7" cy="231.7" r="2.7"/><circle cx="494.8" cy="232.2" r="2.7"/><circle cx="496.9" cy="228.5" r="2.7"/><circle cx="501.1" cy="223.4" r="2.7"/><circle cx="503.2" cy="230.0" r="2.7"/><circle cx="507.4" cy="232.4" r="2.7"/><circle cx="509.5" cy="232.6" r="2.7"/><circle cx="513.7" cy="231.2" r="2.7"/><circle cx="515.8" cy="231.9" r="2.7"/><circle cx="517.9" cy="231.1" r="2.7"/><circle cx="522.1" cy="231.5" r="2.7"/><circle cx="524.2" cy="232.8" r="2.7"/><circle cx="528.4" cy="227.3" r="2.7"/><circle cx="530.5" cy="215.1" r="2.7"/><circle cx="533.3" cy="213.2" r="2.7"/><circle cx="534.7" cy="207.6" r="2.7"/><circle cx="537.5" cy="208.3" r="2.7"/><circle cx="540.3" cy="203.3" r="2.7"/><circle cx="543.1" cy="206.5" r="2.7"/><circle cx="544.5" cy="209.9" r="2.7"/><circle cx="545.9" cy="206.5" r="2.7"/><circle cx="548.7" cy="212.8" r="2.7"/><circle cx="551.5" cy="211.9" r="2.7"/><circle cx="555.7" cy="215.8" r="2.7"/><circle cx="557.8" cy="209.7" r="2.7"/><circle cx="559.9" cy="230.4" r="2.7"/><circle cx="562.0" cy="220.8" r="2.7"/><circle cx="564.1" cy="223.8" r="2.7"/><circle cx="566.2" cy="213.3" r="2.7"/><circle cx="568.3" cy="205.3" r="2.7"/><circle cx="569.0" cy="202.6" r="2.7"/><circle cx="569.7" cy="198.7" r="2.7"/><circle cx="570.4" cy="195.4" r="2.7"/><circle cx="571.1" cy="191.1" r="2.7"/><circle cx="571.8" cy="187.4" r="2.7"/><circle cx="572.5" cy="182.8" r="2.7"/><circle cx="573.2" cy="178.2" r="2.7"/><circle cx="573.9" cy="172.5" r="2.7"/><circle cx="574.6" cy="164.5" r="2.7"/><circle cx="575.3" cy="156.9" r="2.7"/><circle cx="576.0" cy="150.3" r="2.7"/><circle cx="576.7" cy="145.7" r="2.7"/><circle cx="577.4" cy="142.0" r="2.7"/><circle cx="578.1" cy="138.6" r="2.7"/><circle cx="579.5" cy="133.2" r="2.7"/><circle cx="580.9" cy="128.7" r="2.7"/><circle cx="582.3" cy="125.5" r="2.7"/><circle cx="584.4" cy="123.5" r="2.7"/><circle cx="585.8" cy="121.0" r="2.7"/><circle cx="587.9" cy="118.8" r="2.7"/><circle cx="590.7" cy="117.1" r="2.7"/><circle cx="593.5" cy="118.2" r="2.7"/><circle cx="594.9" cy="120.6" r="2.7"/><circle cx="596.3" cy="125.0" r="2.7"/><circle cx="597.7" cy="128.3" r="2.7"/><circle cx="599.1" cy="132.4" r="2.7"/><circle cx="600.5" cy="136.4" r="2.7"/><circle cx="601.9" cy="138.6" r="2.7"/><circle cx="602.6" cy="135.8" r="2.7"/><circle cx="603.3" cy="131.8" r="2.7"/><circle cx="604.0" cy="127.5" r="2.7"/><circle cx="604.7" cy="123.7" r="2.7"/><circle cx="605.4" cy="118.1" r="2.7"/><circle cx="606.1" cy="113.6" r="2.7"/><circle cx="606.8" cy="109.7" r="2.7"/><circle cx="607.5" cy="104.9" r="2.7"/><circle cx="608.2" cy="101.0" r="2.7"/><circle cx="608.9" cy="96.9" r="2.7"/><circle cx="609.6" cy="92.9" r="2.7"/><circle cx="610.3" cy="89.6" r="2.7"/><circle cx="611.0" cy="86.0" r="2.7"/><circle cx="611.7" cy="82.9" r="2.7"/><circle cx="613.1" cy="77.9" r="2.7"/><circle cx="614.5" cy="74.0" r="2.7"/><circle cx="615.9" cy="70.1" r="2.7"/><circle cx="616.6" cy="66.7" r="2.7"/><circle cx="618.0" cy="63.2" r="2.7"/><circle cx="619.4" cy="60.3" r="2.7"/><circle cx="620.8" cy="56.8" r="2.7"/><circle cx="622.2" cy="53.2" r="2.7"/><circle cx="623.6" cy="49.8" r="2.7"/><circle cx="625.0" cy="46.7" r="2.7"/><circle cx="627.1" cy="43.1" r="2.7"/><circle cx="629.9" cy="42.1" r="2.7"/><circle cx="632.7" cy="41.1" r="2.7"/><circle cx="634.8" cy="42.7" r="2.7"/><circle cx="636.9" cy="44.7" r="2.7"/><circle cx="639.7" cy="43.4" r="2.7"/><circle cx="642.5" cy="41.1" r="2.7"/><circle cx="644.6" cy="43.4" r="2.7"/><circle cx="647.4" cy="44.6" r="2.7"/><circle cx="648.8" cy="46.8" r="2.7"/><circle cx="650.9" cy="49.1" r="2.7"/><circle cx="653.0" cy="51.3" r="2.7"/><circle cx="655.1" cy="53.2" r="2.7"/><circle cx="657.9" cy="52.5" r="2.7"/><circle cx="660.0" cy="50.6" r="2.7"/><circle cx="661.4" cy="48.0" r="2.7"/><circle cx="663.5" cy="45.8" r="2.7"/><circle cx="666.3" cy="45.3" r="2.7"/><circle cx="669.1" cy="46.4" r="2.7"/><circle cx="671.2" cy="48.2" r="2.7"/><circle cx="674.0" cy="49.9" r="2.7"/><circle cx="676.8" cy="51.6" r="2.7"/><circle cx="679.6" cy="50.1" r="2.7"/><circle cx="681.7" cy="45.8" r="2.7"/><circle cx="683.1" cy="40.4" r="2.7"/><circle cx="683.8" cy="37.5" r="2.7"/><circle cx="684.5" cy="34.2" r="2.7"/><circle cx="685.9" cy="29.8" r="2.7"/><circle cx="686.6" cy="27.1" r="2.7"/><circle cx="688.0" cy="24.6" r="2.7"/><circle cx="689.4" cy="20.7" r="2.7"/><circle cx="691.5" cy="18.4" r="2.7"/><circle cx="693.6" cy="16.6" r="2.7"/><circle cx="695.7" cy="13.8" r="2.7"/><circle cx="697.8" cy="11.1" r="2.7"/><circle cx="700.6" cy="10.6" r="2.7"/></g>
<path d="M488.5 250.0 490.6 225.1 492.7 233.3 494.8 230.2 496.9 227.1 499.0 229.3 501.1 231.8 503.2 250.0 505.3 232.6 507.4 234.0 509.5 250.0 511.6 250.0 513.7 231.0 515.8 232.7 517.9 228.9 520.0 250.0 522.1 233.7 524.2 250.0 526.3 229.2 528.4 222.3 530.5 250.0 532.6 206.8 534.7 214.1 536.1 214.2 537.5 208.0 538.9 211.1 540.3 250.0 541.0 203.0 541.7 202.5 542.4 202.6 543.1 201.4 544.5 205.1 545.9 205.6 547.3 204.9 548.7 205.5 550.1 208.4 551.5 209.0 552.9 213.5 554.3 207.8 555.7 209.3 557.1 211.5 558.5 209.3 559.9 210.5 562.0 250.0 564.1 232.9 566.2 250.0 568.3 219.7 571.1 207.8 571.8 202.6 572.5 198.9 573.2 195.0 573.9 190.1 574.6 185.2 575.3 179.6 576.0 172.6 576.7 163.1 577.4 155.8 578.1 149.7 578.8 146.7 579.5 142.8 580.2 140.3 580.9 137.0 581.6 135.4 582.3 132.9 583.0 131.1 583.7 129.8 584.4 128.2 585.1 127.4 585.8 126.8 586.5 125.9 587.2 124.7 587.9 123.4 588.6 122.5 589.3 121.7 590.0 121.7 590.7 120.8 591.4 120.3 592.1 120.4 592.8 120.1 593.5 121.1 594.2 121.5 594.9 121.3 595.6 122.2 596.3 123.7 597.0 125.7 597.7 127.2 598.4 129.3 599.1 131.7 599.8 133.3 600.5 135.3 601.2 137.3 601.9 139.1 602.6 141.6 603.3 141.8 604.0 140.4 604.7 135.6 605.4 131.0 606.1 127.7 606.8 121.8 607.5 118.5 608.2 113.4 608.9 108.7 609.6 105.2 610.3 101.6 611.0 97.7 611.7 94.1 612.4 90.0 613.1 87.4 613.8 85.2 614.5 83.3 615.2 81.3 615.9 79.1 616.6 77.5 617.3 74.7 618.0 72.3 618.7 71.1 619.4 69.6 620.1 67.6 620.8 66.8 621.5 65.6 622.2 63.5 622.9 62.7 623.6 61.1 624.3 59.1 625.0 57.3 625.7 55.6 626.4 54.2 627.1 53.6 627.8 52.2 628.5 51.2 629.2 50.7 629.9 49.9 630.6 50.4 631.3 50.2 632.0 49.6 632.7 48.9 633.4 49.3 634.1 49.5 634.8 49.8 635.5 50.5 636.2 51.4 636.9 51.8 637.6 52.3 638.3 53.3 639.0 52.9 639.7 53.2 640.4 52.8 641.1 52.1 641.8 51.6 642.5 50.0 643.2 50.4 643.9 51.1 644.6 50.8 645.3 50.8 646.0 51.9 646.7 52.2 647.4 52.8 648.1 53.0 648.8 53.7 649.5 54.9 650.2 54.5 650.9 56.1 651.6 56.8 652.3 57.9 653.0 57.9 653.7 59.3 654.4 60.2 655.1 61.3 655.8 61.3 656.5 62.2 657.2 62.1 657.9 62.0 658.6 60.9 659.3 59.6 660.0 59.3 660.7 58.7 661.4 57.9 662.1 57.1 662.8 56.3 663.5 55.0 664.2 54.2 664.9 52.9 665.6 52.3 666.3 52.3 667.0 52.7 667.7 52.5 668.4 53.2 669.1 53.6 669.8 53.4 670.5 53.8 671.2 54.2 671.9 55.1 672.6 56.6 673.3 56.1 674.0 57.4 674.7 58.5 675.4 58.7 676.1 59.1 676.8 58.2 677.5 58.1 678.2 57.8 678.9 57.6 679.6 57.1 680.3 55.6 681.0 54.6 681.7 54.2 682.4 52.4 683.1 50.4 683.8 46.8 684.5 44.4 685.2 40.8 685.9 37.8 686.6 35.7 687.3 33.1 688.0 31.6 688.7 28.9 689.4 27.8 690.1 25.7 690.8 25.1 691.5 24.6 692.2 22.6 692.9 22.2 693.6 20.6 694.3 20.6 695.0 19.8 695.7 18.3 696.4 17.8 697.1 16.6 697.8 15.8 698.5 15.5 699.2 14.5 699.9 14.0 700.6 14.3 701.3 14.5" fill="none" stroke="#E820E8" stroke-width="0.75"/>
<g fill="url(#gb7)"><circle cx="490.6" cy="225.1" r="2.7"/><circle cx="492.7" cy="233.3" r="2.7"/><circle cx="494.8" cy="230.2" r="2.7"/><circle cx="496.9" cy="227.1" r="2.7"/><circle cx="499.0" cy="229.3" r="2.7"/><circle cx="501.1" cy="231.8" r="2.7"/><circle cx="505.3" cy="232.6" r="2.7"/><circle cx="507.4" cy="234.0" r="2.7"/><circle cx="513.7" cy="231.0" r="2.7"/><circle cx="515.8" cy="232.7" r="2.7"/><circle cx="517.9" cy="228.9" r="2.7"/><circle cx="522.1" cy="233.7" r="2.7"/><circle cx="526.3" cy="229.2" r="2.7"/><circle cx="528.4" cy="222.3" r="2.7"/><circle cx="532.6" cy="206.8" r="2.7"/><circle cx="534.7" cy="214.1" r="2.7"/><circle cx="537.5" cy="208.0" r="2.7"/><circle cx="538.9" cy="211.1" r="2.7"/><circle cx="541.0" cy="203.0" r="2.7"/><circle cx="544.5" cy="205.1" r="2.7"/><circle cx="547.3" cy="204.9" r="2.7"/><circle cx="550.1" cy="208.4" r="2.7"/><circle cx="552.9" cy="213.5" r="2.7"/><circle cx="554.3" cy="207.8" r="2.7"/><circle cx="557.1" cy="211.5" r="2.7"/><circle cx="558.5" cy="209.3" r="2.7"/><circle cx="564.1" cy="232.9" r="2.7"/><circle cx="568.3" cy="219.7" r="2.7"/><circle cx="571.1" cy="207.8" r="2.7"/><circle cx="571.8" cy="202.6" r="2.7"/><circle cx="572.5" cy="198.9" r="2.7"/><circle cx="573.2" cy="195.0" r="2.7"/><circle cx="573.9" cy="190.1" r="2.7"/><circle cx="574.6" cy="185.2" r="2.7"/><circle cx="575.3" cy="179.6" r="2.7"/><circle cx="576.0" cy="172.6" r="2.7"/><circle cx="576.7" cy="163.1" r="2.7"/><circle cx="577.4" cy="155.8" r="2.7"/><circle cx="578.1" cy="149.7" r="2.7"/><circle cx="578.8" cy="146.7" r="2.7"/><circle cx="579.5" cy="142.8" r="2.7"/><circle cx="580.9" cy="137.0" r="2.7"/><circle cx="582.3" cy="132.9" r="2.7"/><circle cx="583.7" cy="129.8" r="2.7"/><circle cx="585.1" cy="127.4" r="2.7"/><circle cx="587.2" cy="124.7" r="2.7"/><circle cx="588.6" cy="122.5" r="2.7"/><circle cx="590.7" cy="120.8" r="2.7"/><circle cx="593.5" cy="121.1" r="2.7"/><circle cx="596.3" cy="123.7" r="2.7"/><circle cx="597.7" cy="127.2" r="2.7"/><circle cx="599.1" cy="131.7" r="2.7"/><circle cx="600.5" cy="135.3" r="2.7"/><circle cx="601.9" cy="139.1" r="2.7"/><circle cx="602.6" cy="141.6" r="2.7"/><circle cx="604.7" cy="135.6" r="2.7"/><circle cx="605.4" cy="131.0" r="2.7"/><circle cx="606.1" cy="127.7" r="2.7"/><circle cx="606.8" cy="121.8" r="2.7"/><circle cx="607.5" cy="118.5" r="2.7"/><circle cx="608.2" cy="113.4" r="2.7"/><circle cx="608.9" cy="108.7" r="2.7"/><circle cx="609.6" cy="105.2" r="2.7"/><circle cx="610.3" cy="101.6" r="2.7"/><circle cx="611.0" cy="97.7" r="2.7"/><circle cx="611.7" cy="94.1" r="2.7"/><circle cx="612.4" cy="90.0" r="2.7"/><circle cx="613.1" cy="87.4" r="2.7"/><circle cx="614.5" cy="83.3" r="2.7"/><circle cx="615.9" cy="79.1" r="2.7"/><circle cx="617.3" cy="74.7" r="2.7"/><circle cx="618.7" cy="71.1" r="2.7"/><circle cx="620.1" cy="67.6" r="2.7"/><circle cx="622.2" cy="63.5" r="2.7"/><circle cx="623.6" cy="61.1" r="2.7"/><circle cx="625.0" cy="57.3" r="2.7"/><circle cx="626.4" cy="54.2" r="2.7"/><circle cx="628.5" cy="51.2" r="2.7"/><circle cx="631.3" cy="50.2" r="2.7"/><circle cx="634.1" cy="49.5" r="2.7"/><circle cx="636.2" cy="51.4" r="2.7"/><circle cx="638.3" cy="53.3" r="2.7"/><circle cx="641.1" cy="52.1" r="2.7"/><circle cx="643.2" cy="50.4" r="2.7"/><circle cx="646.0" cy="51.9" r="2.7"/><circle cx="648.8" cy="53.7" r="2.7"/><circle cx="650.9" cy="56.1" r="2.7"/><circle cx="653.0" cy="57.9" r="2.7"/><circle cx="654.4" cy="60.2" r="2.7"/><circle cx="656.5" cy="62.2" r="2.7"/><circle cx="659.3" cy="59.6" r="2.7"/><circle cx="661.4" cy="57.9" r="2.7"/><circle cx="663.5" cy="55.0" r="2.7"/><circle cx="665.6" cy="52.3" r="2.7"/><circle cx="668.4" cy="53.2" r="2.7"/><circle cx="671.2" cy="54.2" r="2.7"/><circle cx="672.6" cy="56.6" r="2.7"/><circle cx="674.7" cy="58.5" r="2.7"/><circle cx="677.5" cy="58.1" r="2.7"/><circle cx="680.3" cy="55.6" r="2.7"/><circle cx="682.4" cy="52.4" r="2.7"/><circle cx="683.8" cy="46.8" r="2.7"/><circle cx="685.2" cy="40.8" r="2.7"/><circle cx="685.9" cy="37.8" r="2.7"/><circle cx="687.3" cy="33.1" r="2.7"/><circle cx="688.7" cy="28.9" r="2.7"/><circle cx="690.1" cy="25.7" r="2.7"/><circle cx="692.2" cy="22.6" r="2.7"/><circle cx="694.3" cy="20.6" r="2.7"/><circle cx="695.7" cy="18.3" r="2.7"/><circle cx="697.8" cy="15.8" r="2.7"/><circle cx="699.9" cy="14.0" r="2.7"/></g>
<path d="M488.5 228.5 490.6 227.8 492.7 233.1 494.8 233.1 496.9 250.0 499.0 233.9 501.1 250.0 503.2 227.1 505.3 230.5 507.4 231.9 509.5 230.5 511.6 250.0 513.7 233.1 515.8 232.6 517.9 250.0 520.0 226.4 522.1 223.4 524.2 231.7 526.3 250.0 528.4 229.9 530.5 250.0 532.6 213.2 534.7 250.0 536.1 208.3 537.5 205.7 538.9 207.0 540.3 203.2 541.0 203.0 541.7 200.1 542.4 200.6 543.1 201.2 543.8 200.9 544.5 204.9 545.9 207.7 547.3 206.7 548.7 207.1 550.1 208.8 551.5 213.2 552.9 211.3 554.3 211.8 555.7 214.5 557.1 214.9 558.5 208.2 559.9 250.0 562.0 221.1 564.1 232.4 566.2 250.0 568.3 216.4 569.7 210.1 571.1 204.1 571.8 199.2 572.5 195.8 573.2 191.4 573.9 186.5 574.6 181.5 575.3 175.0 576.0 166.8 576.7 158.5 577.4 152.0 578.1 147.8 578.8 144.0 579.5 140.8 580.2 137.9 580.9 135.5 581.6 133.1 582.3 132.0 583.0 130.2 583.7 127.8 584.4 127.8 585.1 126.3 585.8 125.5 586.5 123.6 587.2 123.0 587.9 122.3 588.6 121.5 589.3 120.3 590.0 120.2 590.7 120.3 591.4 120.4 592.1 120.1 592.8 119.7 593.5 120.5 594.2 121.4 594.9 121.4 595.6 122.7 596.3 124.5 597.0 127.1 597.7 128.0 598.4 129.6 599.1 132.2 599.8 133.6 600.5 136.5 601.2 138.4 601.9 139.7 602.6 142.0 603.3 141.2 604.0 137.9 604.7 134.2 605.4 129.5 606.1 124.9 606.8 119.6 607.5 114.7 608.2 110.7 608.9 106.3 609.6 102.9 610.3 99.2 611.0 95.7 611.7 91.9 612.4 88.1 613.1 85.6 613.8 83.7 614.5 80.5 615.2 78.8 615.9 76.6 616.6 75.0 617.3 72.6 618.0 70.8 618.7 68.8 619.4 67.0 620.1 65.7 620.8 64.2 621.5 62.9 622.2 61.5 622.9 60.1 623.6 58.2 624.3 56.7 625.0 54.9 625.7 53.4 626.4 52.0 627.1 50.5 627.8 49.6 628.5 49.1 629.2 48.8 629.9 48.2 630.6 48.4 631.3 48.4 632.0 47.8 632.7 48.3 633.4 47.6 634.1 47.1 634.8 48.3 635.5 49.4 636.2 49.8 636.9 51.0 637.6 52.0 638.3 51.5 639.0 52.1 639.7 50.5 640.4 50.4 641.1 49.5 641.8 48.7 642.5 48.5 643.2 48.5 643.9 48.5 644.6 48.7 645.3 49.2 646.0 49.9 646.7 50.3 647.4 50.6 648.1 50.7 648.8 52.0 649.5 53.2 650.2 54.2 650.9 54.3 651.6 55.1 652.3 55.8 653.0 56.9 653.7 57.2 654.4 58.6 655.1 59.0 655.8 59.6 656.5 60.3 657.2 59.3 657.9 59.7 658.6 58.1 659.3 58.3 660.0 57.4 660.7 56.2 661.4 55.7 662.1 54.1 662.8 53.2 663.5 52.6 664.2 52.1 664.9 51.3 665.6 50.7 666.3 50.4 667.0 50.9 667.7 50.6 668.4 51.3 669.1 51.4 669.8 51.8 670.5 52.1 671.2 52.3 671.9 53.1 672.6 54.6 673.3 54.4 674.0 55.8 674.7 56.4 675.4 55.7 676.1 56.8 676.8 56.4 677.5 56.0 678.2 56.6 678.9 56.5 679.6 55.5 680.3 54.5 681.0 53.1 681.7 52.9 682.4 51.2 683.1 48.2 683.8 44.7 684.5 41.7 685.2 39.2 685.9 35.9 686.6 33.7 687.3 31.9 688.0 29.1 688.7 27.3 689.4 26.1 690.1 24.6 690.8 23.6 691.5 22.7 692.2 22.6 692.9 20.5 693.6 19.9 694.3 19.6 695.0 18.4 695.7 17.1 696.4 16.9 697.1 14.7 697.8 15.1 698.5 13.9 699.2 13.7 699.9 13.6 700.6 13.6 701.3 12.7" fill="none" stroke="#8030E0" stroke-width="0.75"/>
<g fill="url(#gb8)"><circle cx="488.5" cy="228.5" r="2.7"/><circle cx="490.6" cy="227.8" r="2.7"/><circle cx="492.7" cy="233.1" r="2.7"/><circle cx="494.8" cy="233.1" r="2.7"/><circle cx="499.0" cy="233.9" r="2.7"/><circle cx="503.2" cy="227.1" r="2.7"/><circle cx="505.3" cy="230.5" r="2.7"/><circle cx="507.4" cy="231.9" r="2.7"/><circle cx="509.5" cy="230.5" r="2.7"/><circle cx="513.7" cy="233.1" r="2.7"/><circle cx="515.8" cy="232.6" r="2.7"/><circle cx="520.0" cy="226.4" r="2.7"/><circle cx="522.1" cy="223.4" r="2.7"/><circle cx="524.2" cy="231.7" r="2.7"/><circle cx="528.4" cy="229.9" r="2.7"/><circle cx="532.6" cy="213.2" r="2.7"/><circle cx="536.1" cy="208.3" r="2.7"/><circle cx="537.5" cy="205.7" r="2.7"/><circle cx="540.3" cy="203.2" r="2.7"/><circle cx="541.7" cy="200.1" r="2.7"/><circle cx="544.5" cy="204.9" r="2.7"/><circle cx="545.9" cy="207.7" r="2.7"/><circle cx="548.7" cy="207.1" r="2.7"/><circle cx="551.5" cy="213.2" r="2.7"/><circle cx="554.3" cy="211.8" r="2.7"/><circle cx="555.7" cy="214.5" r="2.7"/><circle cx="558.5" cy="208.2" r="2.7"/><circle cx="562.0" cy="221.1" r="2.7"/><circle cx="564.1" cy="232.4" r="2.7"/><circle cx="568.3" cy="216.4" r="2.7"/><circle cx="569.7" cy="210.1" r="2.7"/><circle cx="571.1" cy="204.1" r="2.7"/><circle cx="571.8" cy="199.2" r="2.7"/><circle cx="572.5" cy="195.8" r="2.7"/><circle cx="573.2" cy="191.4" r="2.7"/><circle cx="573.9" cy="186.5" r="2.7"/><circle cx="574.6" cy="181.5" r="2.7"/><circle cx="575.3" cy="175.0" r="2.7"/><circle cx="576.0" cy="166.8" r="2.7"/><circle cx="576.7" cy="158.5" r="2.7"/><circle cx="577.4" cy="152.0" r="2.7"/><circle cx="578.1" cy="147.8" r="2.7"/><circle cx="578.8" cy="144.0" r="2.7"/><circle cx="579.5" cy="140.8" r="2.7"/><circle cx="580.2" cy="137.9" r="2.7"/><circle cx="581.6" cy="133.1" r="2.7"/><circle cx="583.0" cy="130.2" r="2.7"/><circle cx="584.4" cy="127.8" r="2.7"/><circle cx="585.8" cy="125.5" r="2.7"/><circle cx="587.2" cy="123.0" r="2.7"/><circle cx="589.3" cy="120.3" r="2.7"/><circle cx="592.1" cy="120.1" r="2.7"/><circle cx="594.9" cy="121.4" r="2.7"/><circle cx="596.3" cy="124.5" r="2.7"/><circle cx="597.0" cy="127.1" r="2.7"/><circle cx="598.4" cy="129.6" r="2.7"/><circle cx="599.1" cy="132.2" r="2.7"/><circle cx="600.5" cy="136.5" r="2.7"/><circle cx="601.9" cy="139.7" r="2.7"/><circle cx="604.0" cy="137.9" r="2.7"/><circle cx="604.7" cy="134.2" r="2.7"/><circle cx="605.4" cy="129.5" r="2.7"/><circle cx="606.1" cy="124.9" r="2.7"/><circle cx="606.8" cy="119.6" r="2.7"/><circle cx="607.5" cy="114.7" r="2.7"/><circle cx="608.2" cy="110.7" r="2.7"/><circle cx="608.9" cy="106.3" r="2.7"/><circle cx="609.6" cy="102.9" r="2.7"/><circle cx="610.3" cy="99.2" r="2.7"/><circle cx="611.0" cy="95.7" r="2.7"/><circle cx="611.7" cy="91.9" r="2.7"/><circle cx="612.4" cy="88.1" r="2.7"/><circle cx="613.1" cy="85.6" r="2.7"/><circle cx="614.5" cy="80.5" r="2.7"/><circle cx="615.9" cy="76.6" r="2.7"/><circle cx="617.3" cy="72.6" r="2.7"/><circle cx="618.7" cy="68.8" r="2.7"/><circle cx="620.1" cy="65.7" r="2.7"/><circle cx="621.5" cy="62.9" r="2.7"/><circle cx="622.9" cy="60.1" r="2.7"/><circle cx="624.3" cy="56.7" r="2.7"/><circle cx="625.7" cy="53.4" r="2.7"/><circle cx="627.1" cy="50.5" r="2.7"/><circle cx="629.2" cy="48.8" r="2.7"/><circle cx="632.0" cy="47.8" r="2.7"/><circle cx="634.8" cy="48.3" r="2.7"/><circle cx="636.9" cy="51.0" r="2.7"/><circle cx="639.7" cy="50.5" r="2.7"/><circle cx="641.8" cy="48.7" r="2.7"/><circle cx="644.6" cy="48.7" r="2.7"/><circle cx="646.7" cy="50.3" r="2.7"/><circle cx="648.8" cy="52.0" r="2.7"/><circle cx="650.9" cy="54.3" r="2.7"/><circle cx="653.0" cy="56.9" r="2.7"/><circle cx="655.1" cy="59.0" r="2.7"/><circle cx="657.9" cy="59.7" r="2.7"/><circle cx="660.0" cy="57.4" r="2.7"/><circle cx="662.1" cy="54.1" r="2.7"/><circle cx="664.2" cy="52.1" r="2.7"/><circle cx="666.3" cy="50.4" r="2.7"/><circle cx="669.1" cy="51.4" r="2.7"/><circle cx="671.9" cy="53.1" r="2.7"/><circle cx="674.0" cy="55.8" r="2.7"/><circle cx="676.8" cy="56.4" r="2.7"/><circle cx="679.6" cy="55.5" r="2.7"/><circle cx="681.0" cy="53.1" r="2.7"/><circle cx="683.1" cy="48.2" r="2.7"/><circle cx="683.8" cy="44.7" r="2.7"/><circle cx="684.5" cy="41.7" r="2.7"/><circle cx="685.2" cy="39.2" r="2.7"/><circle cx="685.9" cy="35.9" r="2.7"/><circle cx="687.3" cy="31.9" r="2.7"/><circle cx="688.0" cy="29.1" r="2.7"/><circle cx="689.4" cy="26.1" r="2.7"/><circle cx="690.8" cy="23.6" r="2.7"/><circle cx="692.9" cy="20.5" r="2.7"/><circle cx="695.0" cy="18.4" r="2.7"/><circle cx="697.1" cy="14.7" r="2.7"/><circle cx="699.9" cy="13.6" r="2.7"/></g>
<path d="M488.5 250.0 490.6 250.0 492.7 230.8 494.8 224.0 496.9 231.3 499.0 229.8 501.1 231.6 503.2 229.3 505.3 231.4 507.4 250.0 509.5 250.0 511.6 250.0 513.7 224.6 515.8 223.1 517.9 233.9 520.0 250.0 522.1 250.0 524.2 250.0 526.3 225.7 528.4 250.0 530.5 250.0 532.6 231.0 534.7 218.8 536.8 250.0 538.9 250.0 541.0 250.0 543.1 250.0 545.2 229.9 547.3 207.8 549.4 231.6 551.5 250.0 553.6 250.0 555.7 224.5 557.8 224.3 559.9 250.0 562.0 227.7 564.1 228.8 566.2 250.0 568.3 210.3 569.7 202.6 570.4 198.9 571.1 195.1 571.8 191.7 572.5 187.9 573.2 182.7 573.9 178.0 574.6 170.8 575.3 162.4 576.0 154.3 576.7 148.8 577.4 145.4 578.1 141.2 578.8 139.2 579.5 135.8 580.2 133.8 580.9 130.8 581.6 129.5 582.3 128.1 583.0 127.3 583.7 126.3 584.4 125.2 585.1 124.0 585.8 122.4 586.5 121.4 587.2 120.8 587.9 120.5 588.6 119.9 589.3 119.4 590.0 119.3 590.7 118.6 591.4 118.5 592.1 118.4 592.8 119.2 593.5 119.8 594.2 120.8 594.9 121.8 595.6 123.1 596.3 125.8 597.0 127.0 597.7 129.3 598.4 131.2 599.1 134.3 599.8 135.7 600.5 138.1 601.2 140.9 601.9 142.1 602.6 140.0 603.3 136.9 604.0 133.0 604.7 127.5 605.4 122.6 606.1 117.8 606.8 113.0 607.5 108.2 608.2 104.3 608.9 99.7 609.6 95.9 610.3 91.9 611.0 89.0 611.7 85.4 612.4 82.3 613.1 79.8 613.8 77.6 614.5 75.6 615.2 73.8 615.9 71.0 616.6 68.6 617.3 67.1 618.0 65.1 618.7 63.7 619.4 61.2 620.1 60.3 620.8 59.0 621.5 56.7 622.2 55.1 622.9 53.4 623.6 51.7 624.3 49.4 625.0 48.1 625.7 46.4 626.4 45.9 627.1 45.0 627.8 44.3 628.5 43.8 629.2 43.4 629.9 43.6 630.6 42.2 631.3 42.4 632.0 42.3 632.7 42.1 633.4 42.6 634.1 43.1 634.8 44.3 635.5 45.2 636.2 46.4 636.9 46.0 637.6 46.1 638.3 46.2 639.0 46.0 639.7 45.4 640.4 44.3 641.1 43.8 641.8 44.0 642.5 44.3 643.2 44.0 643.9 44.0 644.6 44.3 645.3 44.1 646.0 45.1 646.7 45.3 647.4 46.6 648.1 47.1 648.8 48.1 649.5 48.5 650.2 49.1 650.9 50.1 651.6 51.0 652.3 51.7 653.0 52.6 653.7 53.8 654.4 54.7 655.1 54.9 655.8 55.1 656.5 54.9 657.2 54.6 657.9 54.5 658.6 53.3 659.3 52.3 660.0 52.0 660.7 50.6 661.4 50.5 662.1 48.6 662.8 47.6 663.5 46.2 664.2 46.4 664.9 44.9 665.6 44.9 666.3 44.9 667.0 45.7 667.7 46.6 668.4 46.3 669.1 47.0 669.8 46.5 670.5 48.6 671.2 47.8 671.9 49.1 672.6 49.6 673.3 50.7 674.0 50.6 674.7 51.4 675.4 51.9 676.1 52.2 676.8 51.8 677.5 51.9 678.2 51.5 678.9 52.2 679.6 50.7 680.3 50.3 681.0 49.2 681.7 47.0 682.4 45.1 683.1 42.4 683.8 39.2 684.5 35.8 685.2 33.5 685.9 30.7 686.6 28.7 687.3 27.4 688.0 24.8 688.7 23.3 689.4 22.2 690.1 20.6 690.8 20.1 691.5 19.8 692.2 19.0 692.9 17.3 693.6 17.3 694.3 15.5 695.0 15.7 695.7 14.2 696.4 13.6 697.1 12.6 697.8 12.3 698.5 11.7 699.2 11.2 699.9 10.8 700.6 10.8 701.3 11.1" fill="none" stroke="#9C9C30" stroke-width="0.75"/>
<g fill="url(#gb9)"><circle cx="492.7" cy="230.8" r="2.7"/><circle cx="494.8" cy="224.0" r="2.7"/><circle cx="496.9" cy="231.3" r="2.7"/><circle cx="499.0" cy="229.8" r="2.7"/><circle cx="501.1" cy="231.6" r="2.7"/><circle cx="503.2" cy="229.3" r="2.7"/><circle cx="505.3" cy="231.4" r="2.7"/><circle cx="513.7" cy="224.6" r="2.7"/><circle cx="515.8" cy="223.1" r="2.7"/><circle cx="517.9" cy="233.9" r="2.7"/><circle cx="526.3" cy="225.7" r="2.7"/><circle cx="532.6" cy="231.0" r="2.7"/><circle cx="534.7" cy="218.8" r="2.7"/><circle cx="545.2" cy="229.9" r="2.7"/><circle cx="547.3" cy="207.8" r="2.7"/><circle cx="549.4" cy="231.6" r="2.7"/><circle cx="555.7" cy="224.5" r="2.7"/><circle cx="557.8" cy="224.3" r="2.7"/><circle cx="562.0" cy="227.7" r="2.7"/><circle cx="564.1" cy="228.8" r="2.7"/><circle cx="568.3" cy="210.3" r="2.7"/><circle cx="569.7" cy="202.6" r="2.7"/><circle cx="570.4" cy="198.9" r="2.7"/><circle cx="571.1" cy="195.1" r="2.7"/><circle cx="571.8" cy="191.7" r="2.7"/><circle cx="572.5" cy="187.9" r="2.7"/><circle cx="573.2" cy="182.7" r="2.7"/><circle cx="573.9" cy="178.0" r="2.7"/><circle cx="574.6" cy="170.8" r="2.7"/><circle cx="575.3" cy="162.4" r="2.7"/><circle cx="576.0" cy="154.3" r="2.7"/><circle cx="576.7" cy="148.8" r="2.7"/><circle cx="577.4" cy="145.4" r="2.7"/><circle cx="578.1" cy="141.2" r="2.7"/><circle cx="579.5" cy="135.8" r="2.7"/><circle cx="580.9" cy="130.8" r="2.7"/><circle cx="582.3" cy="128.1" r="2.7"/><circle cx="584.4" cy="125.2" r="2.7"/><circle cx="585.8" cy="122.4" r="2.7"/><circle cx="587.9" cy="120.5" r="2.7"/><circle cx="590.7" cy="118.6" r="2.7"/><circle cx="593.5" cy="119.8" r="2.7"/><circle cx="595.6" cy="123.1" r="2.7"/><circle cx="596.3" cy="125.8" r="2.7"/><circle cx="597.7" cy="129.3" r="2.7"/><circle cx="599.1" cy="134.3" r="2.7"/><circle cx="600.5" cy="138.1" r="2.7"/><circle cx="601.2" cy="140.9" r="2.7"/><circle cx="603.3" cy="136.9" r="2.7"/><circle cx="604.0" cy="133.0" r="2.7"/><circle cx="604.7" cy="127.5" r="2.7"/><circle cx="605.4" cy="122.6" r="2.7"/><circle cx="606.1" cy="117.8" r="2.7"/><circle cx="606.8" cy="113.0" r="2.7"/><circle cx="607.5" cy="108.2" r="2.7"/><circle cx="608.2" cy="104.3" r="2.7"/><circle cx="608.9" cy="99.7" r="2.7"/><circle cx="609.6" cy="95.9" r="2.7"/><circle cx="610.3" cy="91.9" r="2.7"/><circle cx="611.0" cy="89.0" r="2.7"/><circle cx="611.7" cy="85.4" r="2.7"/><circle cx="612.4" cy="82.3" r="2.7"/><circle cx="613.1" cy="79.8" r="2.7"/><circle cx="614.5" cy="75.6" r="2.7"/><circle cx="615.9" cy="71.0" r="2.7"/><circle cx="617.3" cy="67.1" r="2.7"/><circle cx="618.7" cy="63.7" r="2.7"/><circle cx="620.1" cy="60.3" r="2.7"/><circle cx="621.5" cy="56.7" r="2.7"/><circle cx="622.9" cy="53.4" r="2.7"/><circle cx="624.3" cy="49.4" r="2.7"/><circle cx="625.7" cy="46.4" r="2.7"/><circle cx="627.8" cy="44.3" r="2.7"/><circle cx="630.6" cy="42.2" r="2.7"/><circle cx="633.4" cy="42.6" r="2.7"/><circle cx="635.5" cy="45.2" r="2.7"/><circle cx="638.3" cy="46.2" r="2.7"/><circle cx="640.4" cy="44.3" r="2.7"/><circle cx="643.2" cy="44.0" r="2.7"/><circle cx="646.0" cy="45.1" r="2.7"/><circle cx="648.1" cy="47.1" r="2.7"/><circle cx="650.2" cy="49.1" r="2.7"/><circle cx="652.3" cy="51.7" r="2.7"/><circle cx="654.4" cy="54.7" r="2.7"/><circle cx="657.2" cy="54.6" r="2.7"/><circle cx="659.3" cy="52.3" r="2.7"/><circle cx="661.4" cy="50.5" r="2.7"/><circle cx="662.8" cy="47.6" r="2.7"/><circle cx="664.9" cy="44.9" r="2.7"/><circle cx="667.7" cy="46.6" r="2.7"/><circle cx="670.5" cy="48.6" r="2.7"/><circle cx="673.3" cy="50.7" r="2.7"/><circle cx="676.1" cy="52.2" r="2.7"/><circle cx="678.9" cy="52.2" r="2.7"/><circle cx="681.0" cy="49.2" r="2.7"/><circle cx="682.4" cy="45.1" r="2.7"/><circle cx="683.1" cy="42.4" r="2.7"/><circle cx="683.8" cy="39.2" r="2.7"/><circle cx="684.5" cy="35.8" r="2.7"/><circle cx="685.9" cy="30.7" r="2.7"/><circle cx="687.3" cy="27.4" r="2.7"/><circle cx="688.0" cy="24.8" r="2.7"/><circle cx="689.4" cy="22.2" r="2.7"/><circle cx="691.5" cy="19.8" r="2.7"/><circle cx="692.9" cy="17.3" r="2.7"/><circle cx="695.0" cy="15.7" r="2.7"/><circle cx="697.1" cy="12.6" r="2.7"/><circle cx="699.9" cy="10.8" r="2.7"/></g>
<path d="M488.5 230.9 490.6 250.0 492.7 250.0 494.8 250.0 496.9 230.7 499.0 230.7 501.1 250.0 503.2 250.0 505.3 250.0 507.4 233.8 509.5 250.0 511.6 250.0 513.7 250.0 515.8 250.0 517.9 250.0 520.0 250.0 522.1 250.0 524.2 250.0 526.3 250.0 528.4 221.6 530.5 211.8 533.3 212.9 534.7 205.6 535.4 202.7 536.1 199.5 536.8 197.4 537.5 195.3 538.2 192.8 538.9 191.5 539.6 189.9 540.3 189.4 541.0 188.3 541.7 187.5 542.4 187.6 543.1 188.4 543.8 189.9 544.5 190.6 545.2 190.4 545.9 192.0 546.6 192.5 547.3 193.4 548.0 194.7 548.7 196.1 549.4 197.2 550.1 197.4 550.8 199.2 551.5 199.9 552.2 202.0 552.9 201.9 553.6 202.4 554.3 204.3 555.7 205.8 557.1 207.8 558.5 208.1 559.9 211.0 562.0 250.0 564.1 250.0 566.2 230.1 568.3 250.0 571.1 250.0 572.5 200.1 573.2 196.1 573.9 190.8 574.6 186.2 575.3 180.6 576.0 174.9 576.7 165.9 577.4 158.5 578.1 151.8 578.8 148.0 579.5 144.4 580.2 141.7 580.9 139.1 581.6 135.9 582.3 134.3 583.0 132.8 583.7 131.8 584.4 130.0 585.1 128.7 585.8 127.7 586.5 126.0 587.2 125.4 587.9 124.7 588.6 124.2 589.3 123.5 590.0 122.6 590.7 122.0 591.4 122.1 592.1 121.9 592.8 120.8 593.5 121.5 594.2 121.5 594.9 122.5 595.6 122.3 596.3 123.4 597.0 125.9 597.7 127.9 598.4 129.9 599.1 131.1 599.8 132.7 600.5 134.9 601.2 136.9 601.9 138.8 602.6 140.6 603.3 141.9 604.0 140.5 604.7 136.2 605.4 132.5 606.1 128.3 606.8 123.3 607.5 118.6 608.2 114.3 608.9 109.2 609.6 105.5 610.3 101.0 611.0 97.8 611.7 93.9 612.4 90.5 613.1 87.2 613.8 85.3 614.5 82.9 615.2 80.8 615.9 79.1 616.6 76.1 617.3 74.2 618.0 71.7 618.7 69.5 619.4 68.1 620.1 65.8 620.8 64.5 621.5 63.4 622.2 61.4 622.9 60.0 623.6 59.0 624.3 56.7 625.0 54.3 625.7 53.7 626.4 51.7 627.1 49.7 627.8 49.3 628.5 48.5 629.2 48.5 629.9 47.6 630.6 46.8 631.3 47.1 632.0 46.6 632.7 46.7 633.4 46.9 634.1 46.9 634.8 47.3 635.5 47.6 636.2 49.2 636.9 49.3 637.6 50.3 638.3 50.6 639.0 50.7 639.7 50.5 640.4 50.3 641.1 50.1 641.8 49.1 642.5 47.7 643.2 48.5 643.9 47.9 644.6 48.4 645.3 48.7 646.0 48.7 646.7 49.7 647.4 49.3 648.1 50.2 648.8 51.3 649.5 52.1 650.2 53.0 650.9 53.4 651.6 54.8 652.3 54.6 653.0 56.7 653.7 57.2 654.4 57.6 655.1 59.0 655.8 59.2 656.5 60.1 657.2 59.6 657.9 59.3 658.6 59.1 659.3 58.4 660.0 57.2 660.7 55.6 661.4 55.9 662.1 55.3 662.8 53.4 663.5 52.4 664.2 51.1 664.9 50.5 665.6 49.7 666.3 50.0 667.0 49.9 667.7 50.7 668.4 49.6 669.1 50.1 669.8 50.3 670.5 50.8 671.2 51.3 671.9 52.0 672.6 52.7 673.3 53.6 674.0 54.7 674.7 54.5 675.4 55.9 676.1 56.0 676.8 55.8 677.5 54.8 678.2 55.2 678.9 55.6 679.6 55.0 680.3 54.0 681.0 53.2 681.7 51.7 682.4 50.0 683.1 48.3 683.8 44.9 684.5 41.5 685.2 39.0 685.9 36.2 686.6 33.4 687.3 31.5 688.0 29.0 688.7 27.6 689.4 24.8 690.1 25.1 690.8 23.3 691.5 21.8 692.2 21.4 692.9 20.4 693.6 19.4 694.3 18.9 695.0 17.8 695.7 17.3 696.4 16.7 697.1 15.7 697.8 14.3 698.5 14.4 699.2 13.4 699.9 12.7 700.6 13.1 701.3 12.9" fill="none" stroke="#101010" stroke-width="0.75"/>
<g fill="url(#gb10)"><circle cx="488.5" cy="230.9" r="2.7"/><circle cx="496.9" cy="230.7" r="2.7"/><circle cx="499.0" cy="230.7" r="2.7"/><circle cx="507.4" cy="233.8" r="2.7"/><circle cx="528.4" cy="221.6" r="2.7"/><circle cx="530.5" cy="211.8" r="2.7"/><circle cx="533.3" cy="212.9" r="2.7"/><circle cx="534.7" cy="205.6" r="2.7"/><circle cx="535.4" cy="202.7" r="2.7"/><circle cx="536.1" cy="199.5" r="2.7"/><circle cx="537.5" cy="195.3" r="2.7"/><circle cx="538.2" cy="192.8" r="2.7"/><circle cx="539.6" cy="189.9" r="2.7"/><circle cx="541.7" cy="187.5" r="2.7"/><circle cx="543.8" cy="189.9" r="2.7"/><circle cx="545.9" cy="192.0" r="2.7"/><circle cx="548.0" cy="194.7" r="2.7"/><circle cx="549.4" cy="197.2" r="2.7"/><circle cx="551.5" cy="199.9" r="2.7"/><circle cx="553.6" cy="202.4" r="2.7"/><circle cx="555.7" cy="205.8" r="2.7"/><circle cx="558.5" cy="208.1" r="2.7"/><circle cx="559.9" cy="211.0" r="2.7"/><circle cx="566.2" cy="230.1" r="2.7"/><circle cx="572.5" cy="200.1" r="2.7"/><circle cx="573.2" cy="196.1" r="2.7"/><circle cx="573.9" cy="190.8" r="2.7"/><circle cx="574.6" cy="186.2" r="2.7"/><circle cx="575.3" cy="180.6" r="2.7"/><circle cx="576.0" cy="174.9" r="2.7"/><circle cx="576.7" cy="165.9" r="2.7"/><circle cx="577.4" cy="158.5" r="2.7"/><circle cx="578.1" cy="151.8" r="2.7"/><circle cx="578.8" cy="148.0" r="2.7"/><circle cx="579.5" cy="144.4" r="2.7"/><circle cx="580.2" cy="141.7" r="2.7"/><circle cx="580.9" cy="139.1" r="2.7"/><circle cx="581.6" cy="135.9" r="2.7"/><circle cx="583.0" cy="132.8" r="2.7"/><circle cx="584.4" cy="130.0" r="2.7"/><circle cx="585.8" cy="127.7" r="2.7"/><circle cx="587.2" cy="125.4" r="2.7"/><circle cx="589.3" cy="123.5" r="2.7"/><circle cx="592.1" cy="121.9" r="2.7"/><circle cx="594.9" cy="122.5" r="2.7"/><circle cx="597.0" cy="125.9" r="2.7"/><circle cx="598.4" cy="129.9" r="2.7"/><circle cx="599.8" cy="132.7" r="2.7"/><circle cx="601.2" cy="136.9" r="2.7"/><circle cx="602.6" cy="140.6" r="2.7"/><circle cx="604.7" cy="136.2" r="2.7"/><circle cx="605.4" cy="132.5" r="2.7"/><circle cx="606.1" cy="128.3" r="2.7"/><circle cx="606.8" cy="123.3" r="2.7"/><circle cx="607.5" cy="118.6" r="2.7"/><circle cx="608.2" cy="114.3" r="2.7"/><circle cx="608.9" cy="109.2" r="2.7"/><circle cx="609.6" cy="105.5" r="2.7"/><circle cx="610.3" cy="101.0" r="2.7"/><circle cx="611.0" cy="97.8" r="2.7"/><circle cx="611.7" cy="93.9" r="2.7"/><circle cx="612.4" cy="90.5" r="2.7"/><circle cx="613.1" cy="87.2" r="2.7"/><circle cx="614.5" cy="82.9" r="2.7"/><circle cx="615.9" cy="79.1" r="2.7"/><circle cx="616.6" cy="76.1" r="2.7"/><circle cx="618.0" cy="71.7" r="2.7"/><circle cx="619.4" cy="68.1" r="2.7"/><circle cx="620.8" cy="64.5" r="2.7"/><circle cx="622.2" cy="61.4" r="2.7"/><circle cx="623.6" cy="59.0" r="2.7"/><circle cx="625.0" cy="54.3" r="2.7"/><circle cx="626.4" cy="51.7" r="2.7"/><circle cx="627.8" cy="49.3" r="2.7"/><circle cx="629.9" cy="47.6" r="2.7"/><circle cx="632.7" cy="46.7" r="2.7"/><circle cx="635.5" cy="47.6" r="2.7"/><circle cx="637.6" cy="50.3" r="2.7"/><circle cx="640.4" cy="50.3" r="2.7"/><circle cx="642.5" cy="47.7" r="2.7"/><circle cx="645.3" cy="48.7" r="2.7"/><circle cx="648.1" cy="50.2" r="2.7"/><circle cx="650.2" cy="53.0" r="2.7"/><circle cx="652.3" cy="54.6" r="2.7"/><circle cx="653.7" cy="57.2" r="2.7"/><circle cx="655.8" cy="59.2" r="2.7"/><circle cx="658.6" cy="59.1" r="2.7"/><circle cx="660.7" cy="55.6" r="2.7"/><circle cx="662.8" cy="53.4" r="2.7"/><circle cx="664.2" cy="51.1" r="2.7"/><circle cx="667.0" cy="49.9" r="2.7"/><circle cx="669.8" cy="50.3" r="2.7"/><circle cx="671.9" cy="52.0" r="2.7"/><circle cx="674.0" cy="54.7" r="2.7"/><circle cx="676.8" cy="55.8" r="2.7"/><circle cx="679.6" cy="55.0" r="2.7"/><circle cx="681.7" cy="51.7" r="2.7"/><circle cx="683.1" cy="48.3" r="2.7"/><circle cx="683.8" cy="44.9" r="2.7"/><circle cx="684.5" cy="41.5" r="2.7"/><circle cx="685.9" cy="36.2" r="2.7"/><circle cx="686.6" cy="33.4" r="2.7"/><circle cx="688.0" cy="29.0" r="2.7"/><circle cx="689.4" cy="24.8" r="2.7"/><circle cx="691.5" cy="21.8" r="2.7"/><circle cx="693.6" cy="19.4" r="2.7"/><circle cx="695.7" cy="17.3" r="2.7"/><circle cx="697.8" cy="14.3" r="2.7"/><circle cx="700.6" cy="13.1" r="2.7"/></g>
<path d="M488.5 250.0 490.6 250.0 492.7 250.0 494.8 250.0 496.9 250.0 499.0 250.0 501.1 250.0 503.2 250.0 505.3 250.0 507.4 222.6 509.5 224.5 511.6 250.0 513.7 226.5 515.8 224.2 517.9 250.0 520.0 250.0 522.1 250.0 524.2 250.0 526.3 250.0 528.4 250.0 530.5 250.0 531.9 209.4 533.3 204.5 534.0 201.9 534.7 198.7 535.4 196.4 536.1 194.9 536.8 192.9 537.5 191.6 538.2 189.9 538.9 188.8 539.6 187.7 540.3 187.5 541.0 188.2 541.7 189.5 542.4 190.0 543.1 190.0 543.8 191.5 544.5 192.2 545.2 193.0 545.9 194.6 546.6 195.6 547.3 197.1 548.0 198.0 548.7 200.0 549.4 200.2 550.1 202.7 550.8 202.7 551.5 204.4 552.9 206.0 554.3 210.7 555.7 208.8 557.8 250.0 559.9 250.0 562.0 250.0 564.1 250.0 566.2 250.0 568.3 212.9 569.7 202.3 570.4 198.2 571.1 195.6 571.8 191.2 572.5 186.7 573.2 183.1 573.9 177.3 574.6 170.4 575.3 161.3 576.0 154.0 576.7 148.8 577.4 144.5 578.1 141.9 578.8 138.7 579.5 136.1 580.2 133.7 580.9 130.8 581.6 129.6 582.3 127.8 583.0 127.0 583.7 126.1 584.4 124.6 585.1 123.5 585.8 122.7 586.5 122.3 587.2 119.9 587.9 120.0 588.6 119.6 589.3 118.9 590.0 119.3 590.7 118.9 591.4 118.6 592.1 118.7 592.8 118.4 593.5 119.1 594.2 120.0 594.9 121.7 595.6 123.9 596.3 125.3 597.0 126.8 597.7 128.8 598.4 130.6 599.1 133.2 599.8 134.5 600.5 136.4 601.2 139.1 601.9 140.2 602.6 138.9 603.3 134.9 604.0 131.0 604.7 126.8 605.4 122.3 606.1 117.5 606.8 113.2 607.5 107.5 608.2 103.6 608.9 99.9 609.6 96.3 610.3 92.4 611.0 88.6 611.7 85.5 612.4 82.1 613.1 80.0 613.8 77.6 614.5 76.0 615.2 74.1 615.9 71.4 616.6 69.0 617.3 66.5 618.0 65.1 618.7 63.1 619.4 61.8 620.1 59.8 620.8 58.5 621.5 57.6 622.2 54.7 622.9 52.7 623.6 51.2 624.3 50.4 625.0 48.4 625.7 47.6 626.4 46.1 627.1 45.3 627.8 43.5 628.5 43.4 629.2 42.9 629.9 42.8 630.6 43.0 631.3 42.2 632.0 42.6 632.7 42.6 633.4 43.0 634.1 43.1 634.8 44.7 635.5 45.4 636.2 46.4 636.9 46.4 637.6 46.4 638.3 45.2 639.0 46.0 639.7 44.7 640.4 44.3 641.1 43.9 641.8 43.2 642.5 43.8 643.2 43.7 643.9 43.7 644.6 43.9 645.3 45.1 646.0 45.2 646.7 45.7 647.4 46.1 648.1 46.7 648.8 47.8 649.5 48.5 650.2 49.1 650.9 50.2 651.6 51.1 652.3 51.0 653.0 53.0 653.7 53.7 654.4 54.8 655.1 54.5 655.8 54.6 656.5 54.5 657.2 54.8 657.9 54.0 658.6 52.9 659.3 52.3 660.0 51.7 660.7 50.3 661.4 49.4 662.1 49.1 662.8 47.9 663.5 46.4 664.2 45.7 664.9 45.4 665.6 45.9 666.3 46.4 667.0 45.7 667.7 46.1 668.4 45.5 669.1 46.9 669.8 46.5 670.5 46.9 671.2 48.1 671.9 49.1 672.6 49.6 673.3 50.5 674.0 51.7 674.7 51.6 675.4 51.5 676.1 51.7 676.8 52.1 677.5 52.8 678.2 51.6 678.9 51.9 679.6 50.6 680.3 49.5 681.0 48.7 681.7 47.7 682.4 45.3 683.1 42.0 683.8 39.3 684.5 36.3 685.2 33.6 685.9 31.6 686.6 28.5 687.3 26.6 688.0 25.7 688.7 23.4 689.4 22.3 690.1 21.2 690.8 20.4 691.5 19.0 692.2 18.3 692.9 17.9 693.6 16.4 694.3 16.3 695.0 15.0 695.7 14.6 696.4 13.6 697.1 12.5 697.8 11.8 698.5 11.7 699.2 11.4 699.9 11.2 700.6 11.1 701.3 11.4" fill="none" stroke="#101010" stroke-width="0.75"/>
<g fill="url(#gb10)"><circle cx="507.4" cy="222.6" r="2.7"/><circle cx="509.5" cy="224.5" r="2.7"/><circle cx="513.7" cy="226.5" r="2.7"/><circle cx="515.8" cy="224.2" r="2.7"/><circle cx="531.9" cy="209.4" r="2.7"/><circle cx="533.3" cy="204.5" r="2.7"/><circle cx="534.0" cy="201.9" r="2.7"/><circle cx="534.7" cy="198.7" r="2.7"/><circle cx="536.1" cy="194.9" r="2.7"/><circle cx="537.5" cy="191.6" r="2.7"/><circle cx="538.9" cy="188.8" r="2.7"/><circle cx="541.7" cy="189.5" r="2.7"/><circle cx="543.8" cy="191.5" r="2.7"/><circle cx="545.9" cy="194.6" r="2.7"/><circle cx="547.3" cy="197.1" r="2.7"/><circle cx="548.7" cy="200.0" r="2.7"/><circle cx="550.1" cy="202.7" r="2.7"/><circle cx="552.9" cy="206.0" r="2.7"/><circle cx="554.3" cy="210.7" r="2.7"/><circle cx="568.3" cy="212.9" r="2.7"/><circle cx="569.7" cy="202.3" r="2.7"/><circle cx="570.4" cy="198.2" r="2.7"/><circle cx="571.1" cy="195.6" r="2.7"/><circle cx="571.8" cy="191.2" r="2.7"/><circle cx="572.5" cy="186.7" r="2.7"/><circle cx="573.2" cy="183.1" r="2.7"/><circle cx="573.9" cy="177.3" r="2.7"/><circle cx="574.6" cy="170.4" r="2.7"/><circle cx="575.3" cy="161.3" r="2.7"/><circle cx="576.0" cy="154.0" r="2.7"/><circle cx="576.7" cy="148.8" r="2.7"/><circle cx="577.4" cy="144.5" r="2.7"/><circle cx="578.1" cy="141.9" r="2.7"/><circle cx="578.8" cy="138.7" r="2.7"/><circle cx="579.5" cy="136.1" r="2.7"/><circle cx="580.9" cy="130.8" r="2.7"/><circle cx="582.3" cy="127.8" r="2.7"/><circle cx="584.4" cy="124.6" r="2.7"/><circle cx="586.5" cy="122.3" r="2.7"/><circle cx="587.9" cy="120.0" r="2.7"/><circle cx="590.7" cy="118.9" r="2.7"/><circle cx="593.5" cy="119.1" r="2.7"/><circle cx="594.9" cy="121.7" r="2.7"/><circle cx="596.3" cy="125.3" r="2.7"/><circle cx="597.7" cy="128.8" r="2.7"/><circle cx="599.1" cy="133.2" r="2.7"/><circle cx="600.5" cy="136.4" r="2.7"/><circle cx="601.2" cy="139.1" r="2.7"/><circle cx="603.3" cy="134.9" r="2.7"/><circle cx="604.0" cy="131.0" r="2.7"/><circle cx="604.7" cy="126.8" r="2.7"/><circle cx="605.4" cy="122.3" r="2.7"/><circle cx="606.1" cy="117.5" r="2.7"/><circle cx="606.8" cy="113.2" r="2.7"/><circle cx="607.5" cy="107.5" r="2.7"/><circle cx="608.2" cy="103.6" r="2.7"/><circle cx="608.9" cy="99.9" r="2.7"/><circle cx="609.6" cy="96.3" r="2.7"/><circle cx="610.3" cy="92.4" r="2.7"/><circle cx="611.0" cy="88.6" r="2.7"/><circle cx="611.7" cy="85.5" r="2.7"/><circle cx="612.4" cy="82.1" r="2.7"/><circle cx="613.8" cy="77.6" r="2.7"/><circle cx="615.2" cy="74.1" r="2.7"/><circle cx="615.9" cy="71.4" r="2.7"/><circle cx="617.3" cy="66.5" r="2.7"/><circle cx="618.7" cy="63.1" r="2.7"/><circle cx="620.1" cy="59.8" r="2.7"/><circle cx="622.2" cy="54.7" r="2.7"/><circle cx="623.6" cy="51.2" r="2.7"/><circle cx="625.0" cy="48.4" r="2.7"/><circle cx="626.4" cy="46.1" r="2.7"/><circle cx="627.8" cy="43.5" r="2.7"/><circle cx="630.6" cy="43.0" r="2.7"/><circle cx="633.4" cy="43.0" r="2.7"/><circle cx="635.5" cy="45.4" r="2.7"/><circle cx="638.3" cy="45.2" r="2.7"/><circle cx="641.1" cy="43.9" r="2.7"/><circle cx="643.9" cy="43.7" r="2.7"/><circle cx="646.7" cy="45.7" r="2.7"/><circle cx="648.8" cy="47.8" r="2.7"/><circle cx="650.9" cy="50.2" r="2.7"/><circle cx="653.0" cy="53.0" r="2.7"/><circle cx="655.1" cy="54.5" r="2.7"/><circle cx="657.9" cy="54.0" r="2.7"/><circle cx="660.0" cy="51.7" r="2.7"/><circle cx="661.4" cy="49.4" r="2.7"/><circle cx="663.5" cy="46.4" r="2.7"/><circle cx="666.3" cy="46.4" r="2.7"/><circle cx="669.1" cy="46.9" r="2.7"/><circle cx="671.9" cy="49.1" r="2.7"/><circle cx="674.0" cy="51.7" r="2.7"/><circle cx="676.8" cy="52.1" r="2.7"/><circle cx="679.6" cy="50.6" r="2.7"/><circle cx="681.7" cy="47.7" r="2.7"/><circle cx="683.1" cy="42.0" r="2.7"/><circle cx="683.8" cy="39.3" r="2.7"/><circle cx="684.5" cy="36.3" r="2.7"/><circle cx="685.2" cy="33.6" r="2.7"/><circle cx="686.6" cy="28.5" r="2.7"/><circle cx="688.0" cy="25.7" r="2.7"/><circle cx="689.4" cy="22.3" r="2.7"/><circle cx="691.5" cy="19.0" r="2.7"/><circle cx="693.6" cy="16.4" r="2.7"/><circle cx="695.7" cy="14.6" r="2.7"/><circle cx="697.8" cy="11.8" r="2.7"/><circle cx="700.6" cy="11.1" r="2.7"/></g>
</g>
<rect x="61.0" y="5.6" width="281.2" height="228.8" fill="none" stroke="#000" stroke-width="2.3"/>
<path d="M89.8 234.4v-4.0M89.8 5.6v4.0M117.9 234.4v-4.0M117.9 5.6v4.0M146.0 234.4v-4.0M146.0 5.6v4.0M174.1 234.4v-4.0M174.1 5.6v4.0M202.2 234.4v-4.0M202.2 5.6v4.0M230.3 234.4v-4.0M230.3 5.6v4.0M258.4 234.4v-4.0M258.4 5.6v4.0M286.5 234.4v-4.0M286.5 5.6v4.0M314.6 234.4v-4.0M314.6 5.6v4.0M61.0 184.7h4.0M342.2 184.7h-4.0M61.0 134.8h4.0M342.2 134.8h-4.0M61.0 85.0h4.0M342.2 85.0h-4.0M61.0 35.1h4.0M342.2 35.1h-4.0" stroke="#000" stroke-width="2.1" fill="none"/>
<path d="M75.8 234.4v-2.2M75.8 5.6v2.2M103.9 234.4v-2.2M103.9 5.6v2.2M131.9 234.4v-2.2M131.9 5.6v2.2M160.1 234.4v-2.2M160.1 5.6v2.2M188.2 234.4v-2.2M188.2 5.6v2.2M216.2 234.4v-2.2M216.2 5.6v2.2M244.4 234.4v-2.2M244.4 5.6v2.2M272.4 234.4v-2.2M272.4 5.6v2.2M300.6 234.4v-2.2M300.6 5.6v2.2M328.7 234.4v-2.2M328.7 5.6v2.2M61.0 219.5h2.2M342.2 219.5h-2.2M61.0 210.7h2.2M342.2 210.7h-2.2M61.0 204.5h2.2M342.2 204.5h-2.2M61.0 199.7h2.2M342.2 199.7h-2.2M61.0 195.7h2.2M342.2 195.7h-2.2M61.0 192.4h2.2M342.2 192.4h-2.2M61.0 189.5h2.2M342.2 189.5h-2.2M61.0 186.9h2.2M342.2 186.9h-2.2M61.0 169.6h2.2M342.2 169.6h-2.2M61.0 160.9h2.2M342.2 160.9h-2.2M61.0 154.6h2.2M342.2 154.6h-2.2M61.0 149.8h2.2M342.2 149.8h-2.2M61.0 145.9h2.2M342.2 145.9h-2.2M61.0 142.5h2.2M342.2 142.5h-2.2M61.0 139.6h2.2M342.2 139.6h-2.2M61.0 137.1h2.2M342.2 137.1h-2.2M61.0 119.8h2.2M342.2 119.8h-2.2M61.0 111.0h2.2M342.2 111.0h-2.2M61.0 104.8h2.2M342.2 104.8h-2.2M61.0 100.0h2.2M342.2 100.0h-2.2M61.0 96.0h2.2M342.2 96.0h-2.2M61.0 92.7h2.2M342.2 92.7h-2.2M61.0 89.8h2.2M342.2 89.8h-2.2M61.0 87.2h2.2M342.2 87.2h-2.2M61.0 69.9h2.2M342.2 69.9h-2.2M61.0 61.2h2.2M342.2 61.2h-2.2M61.0 54.9h2.2M342.2 54.9h-2.2M61.0 50.1h2.2M342.2 50.1h-2.2M61.0 46.2h2.2M342.2 46.2h-2.2M61.0 42.8h2.2M342.2 42.8h-2.2M61.0 39.9h2.2M342.2 39.9h-2.2M61.0 37.4h2.2M342.2 37.4h-2.2M61.0 20.1h2.2M342.2 20.1h-2.2M61.0 11.3h2.2M342.2 11.3h-2.2" stroke="#000" stroke-width="1.4" fill="none"/>
<text x="61.7" y="250.7" text-anchor="middle" font-size="14" font-weight="bold" font-family="'Liberation Sans', sans-serif">0</text>
<text x="89.8" y="250.7" text-anchor="middle" font-size="14" font-weight="bold" font-family="'Liberation Sans', sans-serif">-0.2</text>
<text x="117.9" y="250.7" text-anchor="middle" font-size="14" font-weight="bold" font-family="'Liberation Sans', sans-serif">-0.4</text>
<text x="146.0" y="250.7" text-anchor="middle" font-size="14" font-weight="bold" font-family="'Liberation Sans', sans-serif">-0.6</text>
<text x="174.1" y="250.7" text-anchor="middle" font-size="14" font-weight="bold" font-family="'Liberation Sans', sans-serif">-0.8</text>
<text x="202.2" y="250.7" text-anchor="middle" font-size="14" font-weight="bold" font-family="'Liberation Sans', sans-serif">-1</text>
<text x="230.3" y="250.7" text-anchor="middle" font-size="14" font-weight="bold" font-family="'Liberation Sans', sans-serif">-1.2</text>
<text x="258.4" y="250.7" text-anchor="middle" font-size="14" font-weight="bold" font-family="'Liberation Sans', sans-serif">-1.4</text>
<text x="286.5" y="250.7" text-anchor="middle" font-size="14" font-weight="bold" font-family="'Liberation Sans', sans-serif">-1.6</text>
<text x="314.6" y="250.7" text-anchor="middle" font-size="14" font-weight="bold" font-family="'Liberation Sans', sans-serif">-1.8</text>
<text x="342.7" y="250.7" text-anchor="middle" font-size="14" font-weight="bold" font-family="'Liberation Sans', sans-serif">-2</text>
<rect x="418.1" y="6.0" width="280.9" height="228.3" fill="none" stroke="#000" stroke-width="2.3"/>
<path d="M446.1 234.3v-4.0M446.1 6.0v4.0M474.2 234.3v-4.0M474.2 6.0v4.0M502.3 234.3v-4.0M502.3 6.0v4.0M530.4 234.3v-4.0M530.4 6.0v4.0M558.5 234.3v-4.0M558.5 6.0v4.0M586.6 234.3v-4.0M586.6 6.0v4.0M614.7 234.3v-4.0M614.7 6.0v4.0M642.8 234.3v-4.0M642.8 6.0v4.0M670.9 234.3v-4.0M670.9 6.0v4.0M418.1 184.7h4.0M699.0 184.7h-4.0M418.1 134.8h4.0M699.0 134.8h-4.0M418.1 85.0h4.0M699.0 85.0h-4.0M418.1 35.1h4.0M699.0 35.1h-4.0" stroke="#000" stroke-width="2.1" fill="none"/>
<path d="M432.1 234.3v-2.2M432.1 6.0v2.2M460.1 234.3v-2.2M460.1 6.0v2.2M488.2 234.3v-2.2M488.2 6.0v2.2M516.4 234.3v-2.2M516.4 6.0v2.2M544.5 234.3v-2.2M544.5 6.0v2.2M572.5 234.3v-2.2M572.5 6.0v2.2M600.6 234.3v-2.2M600.6 6.0v2.2M628.8 234.3v-2.2M628.8 6.0v2.2M656.9 234.3v-2.2M656.9 6.0v2.2M685.0 234.3v-2.2M685.0 6.0v2.2M418.1 219.5h2.2M699.0 219.5h-2.2M418.1 210.7h2.2M699.0 210.7h-2.2M418.1 204.5h2.2M699.0 204.5h-2.2M418.1 199.7h2.2M699.0 199.7h-2.2M418.1 195.7h2.2M699.0 195.7h-2.2M418.1 192.4h2.2M699.0 192.4h-2.2M418.1 189.5h2.2M699.0 189.5h-2.2M418.1 186.9h2.2M699.0 186.9h-2.2M418.1 169.6h2.2M699.0 169.6h-2.2M418.1 160.9h2.2M699.0 160.9h-2.2M418.1 154.6h2.2M699.0 154.6h-2.2M418.1 149.8h2.2M699.0 149.8h-2.2M418.1 145.9h2.2M699.0 145.9h-2.2M418.1 142.5h2.2M699.0 142.5h-2.2M418.1 139.6h2.2M699.0 139.6h-2.2M418.1 137.1h2.2M699.0 137.1h-2.2M418.1 119.8h2.2M699.0 119.8h-2.2M418.1 111.0h2.2M699.0 111.0h-2.2M418.1 104.8h2.2M699.0 104.8h-2.2M418.1 100.0h2.2M699.0 100.0h-2.2M418.1 96.0h2.2M699.0 96.0h-2.2M418.1 92.7h2.2M699.0 92.7h-2.2M418.1 89.8h2.2M699.0 89.8h-2.2M418.1 87.2h2.2M699.0 87.2h-2.2M418.1 69.9h2.2M699.0 69.9h-2.2M418.1 61.2h2.2M699.0 61.2h-2.2M418.1 54.9h2.2M699.0 54.9h-2.2M418.1 50.1h2.2M699.0 50.1h-2.2M418.1 46.2h2.2M699.0 46.2h-2.2M418.1 42.8h2.2M699.0 42.8h-2.2M418.1 39.9h2.2M699.0 39.9h-2.2M418.1 37.4h2.2M699.0 37.4h-2.2M418.1 20.1h2.2M699.0 20.1h-2.2M418.1 11.3h2.2M699.0 11.3h-2.2" stroke="#000" stroke-width="1.4" fill="none"/>
<text x="418.0" y="250.7" text-anchor="middle" font-size="14" font-weight="bold" font-family="'Liberation Sans', sans-serif">0</text>
<text x="446.1" y="250.7" text-anchor="middle" font-size="14" font-weight="bold" font-family="'Liberation Sans', sans-serif">-0.2</text>
<text x="474.2" y="250.7" text-anchor="middle" font-size="14" font-weight="bold" font-family="'Liberation Sans', sans-serif">-0.4</text>
<text x="502.3" y="250.7" text-anchor="middle" font-size="14" font-weight="bold" font-family="'Liberation Sans', sans-serif">-0.6</text>
<text x="530.4" y="250.7" text-anchor="middle" font-size="14" font-weight="bold" font-family="'Liberation Sans', sans-serif">-0.8</text>
<text x="558.5" y="250.7" text-anchor="middle" font-size="14" font-weight="bold" font-family="'Liberation Sans', sans-serif">-1</text>
<text x="586.6" y="250.7" text-anchor="middle" font-size="14" font-weight="bold" font-family="'Liberation Sans', sans-serif">-1.2</text>
<text x="614.7" y="250.7" text-anchor="middle" font-size="14" font-weight="bold" font-family="'Liberation Sans', sans-serif">-1.4</text>
<text x="642.8" y="250.7" text-anchor="middle" font-size="14" font-weight="bold" font-family="'Liberation Sans', sans-serif">-1.6</text>
<text x="670.9" y="250.7" text-anchor="middle" font-size="14" font-weight="bold" font-family="'Liberation Sans', sans-serif">-1.8</text>
<text x="699.0" y="250.7" text-anchor="middle" font-size="14" font-weight="bold" font-family="'Liberation Sans', sans-serif">-2</text>
<text x="56.6" y="40.3" text-anchor="end" font-size="14" font-weight="bold" font-family="'Liberation Sans', sans-serif">10<tspan dy="-6.2" font-size="9.6">-10</tspan></text>
<text x="56.6" y="90.2" text-anchor="end" font-size="14" font-weight="bold" font-family="'Liberation Sans', sans-serif">10<tspan dy="-6.2" font-size="9.6">-11</tspan></text>
<text x="56.6" y="140.0" text-anchor="end" font-size="14" font-weight="bold" font-family="'Liberation Sans', sans-serif">10<tspan dy="-6.2" font-size="9.6">-12</tspan></text>
<text x="56.6" y="189.8" text-anchor="end" font-size="14" font-weight="bold" font-family="'Liberation Sans', sans-serif">10<tspan dy="-6.2" font-size="9.6">-13</tspan></text>
<text x="56.6" y="239.7" text-anchor="end" font-size="14" font-weight="bold" font-family="'Liberation Sans', sans-serif">10<tspan dy="-6.2" font-size="9.6">-14</tspan></text>
<text x="413.8" y="40.3" text-anchor="end" font-size="14" font-weight="bold" font-family="'Liberation Sans', sans-serif">10<tspan dy="-6.2" font-size="9.6">-10</tspan></text>
<text x="413.8" y="90.2" text-anchor="end" font-size="14" font-weight="bold" font-family="'Liberation Sans', sans-serif">10<tspan dy="-6.2" font-size="9.6">-11</tspan></text>
<text x="413.8" y="140.0" text-anchor="end" font-size="14" font-weight="bold" font-family="'Liberation Sans', sans-serif">10<tspan dy="-6.2" font-size="9.6">-12</tspan></text>
<text x="413.8" y="189.8" text-anchor="end" font-size="14" font-weight="bold" font-family="'Liberation Sans', sans-serif">10<tspan dy="-6.2" font-size="9.6">-13</tspan></text>
<text x="413.8" y="239.7" text-anchor="end" font-size="14" font-weight="bold" font-family="'Liberation Sans', sans-serif">10<tspan dy="-6.2" font-size="9.6">-14</tspan></text>
<text x="66.8" y="22.3" font-size="20.5" font-weight="bold" font-family="'Liberation Sans', sans-serif" textLength="25.0" lengthAdjust="spacingAndGlyphs" style="white-space:pre">(a)</text>
<text x="427.7" y="27.0" font-size="21" font-weight="bold" font-family="'Liberation Sans', sans-serif" textLength="26.0" lengthAdjust="spacingAndGlyphs" style="white-space:pre">(b)</text>
<text x="237.3" y="25.0" font-size="14.2" font-weight="bold" font-family="'Liberation Sans', sans-serif" textLength="68.2" lengthAdjust="spacingAndGlyphs" style="white-space:pre">N = 3, 4,  5</text>
<text x="205.2" y="99.1" font-size="14.2" font-weight="bold" font-family="'Liberation Sans', sans-serif" textLength="33.2" lengthAdjust="spacingAndGlyphs" style="white-space:pre">N = 2</text>
<text x="159.3" y="169.8" font-size="14.2" font-weight="bold" font-family="'Liberation Sans', sans-serif" textLength="33.2" lengthAdjust="spacingAndGlyphs" style="white-space:pre">N = 1</text>
<text x="596.4" y="22.5" font-size="14.2" font-weight="bold" font-family="'Liberation Sans', sans-serif" textLength="72.2" lengthAdjust="spacingAndGlyphs" style="white-space:pre">N = 3, 4,   5</text>
<text x="561.3" y="95.7" font-size="14.2" font-weight="bold" font-family="'Liberation Sans', sans-serif" textLength="33.6" lengthAdjust="spacingAndGlyphs" style="white-space:pre">N = 2</text>
<text x="512.5" y="175.5" font-size="14.2" font-weight="bold" font-family="'Liberation Sans', sans-serif" textLength="32.6" lengthAdjust="spacingAndGlyphs" style="white-space:pre">N = 1</text>
<text x="256.0" y="202.6" font-size="16.2" font-weight="bold" font-family="'Liberation Sans', sans-serif" textLength="46.0" lengthAdjust="spacingAndGlyphs" style="white-space:pre">T= 4 K</text>
<text x="256.0" y="224.1" font-size="16.2" font-weight="bold" font-family="'Liberation Sans', sans-serif" textLength="71.6" lengthAdjust="spacingAndGlyphs" style="white-space:pre">V<tspan font-size="12" dy="3.8">D</tspan><tspan dy="-3.8">= 5 mV</tspan></text>
<text x="617.8" y="199.9" font-size="16.2" font-weight="bold" font-family="'Liberation Sans', sans-serif" textLength="46.0" lengthAdjust="spacingAndGlyphs" style="white-space:pre">T= 4 K</text>
<text x="617.8" y="221.5" font-size="16.2" font-weight="bold" font-family="'Liberation Sans', sans-serif" textLength="70.6" lengthAdjust="spacingAndGlyphs" style="white-space:pre">V<tspan font-size="12" dy="3.8">D</tspan><tspan dy="-3.8">= 5 mV</tspan></text>
<text x="178.0" y="269.6" font-size="18.8" font-weight="bold" font-family="'Liberation Sans', sans-serif" textLength="51.5" lengthAdjust="spacingAndGlyphs" style="white-space:pre">V<tspan font-size="12" dy="5.6">G</tspan><tspan dy="-5.6"> (V)</tspan></text>
<text x="534.5" y="269.8" font-size="18.8" font-weight="bold" font-family="'Liberation Sans', sans-serif" textLength="52.0" lengthAdjust="spacingAndGlyphs" style="white-space:pre">V<tspan font-size="12" dy="5.6">G</tspan><tspan dy="-5.6"> (V)</tspan></text>
<text transform="translate(15.9,144.0) rotate(-90)" x="0" y="0" font-size="18" font-weight="bold" font-family="'Liberation Sans', sans-serif" textLength="43.5" lengthAdjust="spacingAndGlyphs" style="white-space:pre">I<tspan font-size="12" dy="5">D</tspan><tspan dy="-5"> (A)</tspan></text>
<text transform="translate(372.9,142.2) rotate(-90)" x="0" y="0" font-size="18" font-weight="bold" font-family="'Liberation Sans', sans-serif" textLength="43.5" lengthAdjust="spacingAndGlyphs" style="white-space:pre">I<tspan font-size="12" dy="5">D</tspan><tspan dy="-5"> (A)</tspan></text>
</svg></body></html>
